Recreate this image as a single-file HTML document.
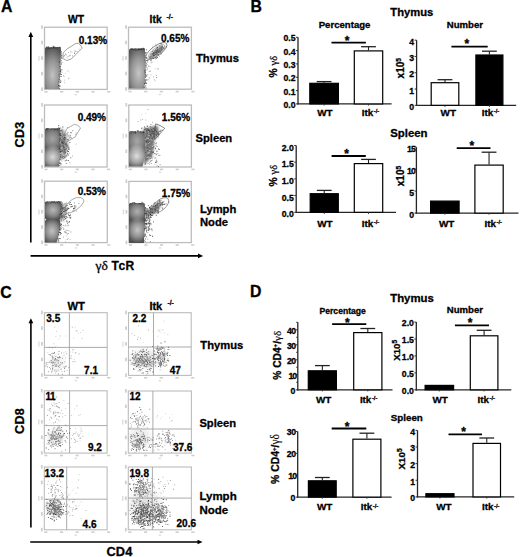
<!DOCTYPE html>
<html><head><meta charset="utf-8"><style>
html,body{margin:0;padding:0;background:#fff;}
body{width:520px;height:557px;overflow:hidden;}
svg{display:block;font-family:"Liberation Sans", sans-serif;}
text{stroke:#000;stroke-width:0.3px;}
</style></head><body>
<svg width="520" height="557" viewBox="0 0 520 557">
<defs><filter id="soft" x="-0.2" y="-0.2" width="1.4" height="1.4"><feGaussianBlur stdDeviation="0.45"/></filter><filter id="soft2" x="-0.3" y="-0.3" width="1.6" height="1.6"><feGaussianBlur stdDeviation="1.1"/></filter><clipPath id="c1"><path d="M45,89 L45,48.2 Q45.3,47.2 47,47.2 L58.5,47.0 Q60.8,47.2 61,49 L60.6,62 L60.3,72 L59.6,80 L58.8,89 Z"/></clipPath><radialGradient id="g2" gradientUnits="userSpaceOnUse" cx="0" cy="0" r="1" gradientTransform="translate(52.6 75) scale(13 28)"><stop offset="0" stop-color="#c2c2c2" stop-opacity="1.0"/><stop offset="0.55" stop-color="#c2c2c2" stop-opacity="0.55"/><stop offset="1" stop-color="#c2c2c2" stop-opacity="0"/></radialGradient><clipPath id="c3"><path d="M129,88.6 L129,50 Q129.3,48.9 131,48.8 L142.5,48.6 Q144.8,48.8 145,50.5 L145.6,62 L145.6,72 L144.9,80 L144.3,88.6 Z"/></clipPath><radialGradient id="g4" gradientUnits="userSpaceOnUse" cx="0" cy="0" r="1" gradientTransform="translate(138.8 73) scale(13.5 28)"><stop offset="0" stop-color="#c6c6c6" stop-opacity="1.0"/><stop offset="0.55" stop-color="#c6c6c6" stop-opacity="0.55"/><stop offset="1" stop-color="#c6c6c6" stop-opacity="0"/></radialGradient><clipPath id="c5"><path d="M45,166.5 L45,129.6 Q45.3,128.6 47,128.6 L57.5,128.3 Q59.8,128.5 60,130 L60.2,142 L60.2,152 L59.6,160 L59,166.5 Z"/></clipPath><radialGradient id="g6" gradientUnits="userSpaceOnUse" cx="0" cy="0" r="1" gradientTransform="translate(52.5 139) scale(10.5 12)"><stop offset="0" stop-color="#a4a4a4" stop-opacity="1.0"/><stop offset="0.55" stop-color="#a4a4a4" stop-opacity="0.55"/><stop offset="1" stop-color="#a4a4a4" stop-opacity="0"/></radialGradient><radialGradient id="g7" gradientUnits="userSpaceOnUse" cx="0" cy="0" r="1" gradientTransform="translate(52.7 157) scale(11 12)"><stop offset="0" stop-color="#dadada" stop-opacity="1.0"/><stop offset="0.55" stop-color="#dadada" stop-opacity="0.55"/><stop offset="1" stop-color="#dadada" stop-opacity="0"/></radialGradient><clipPath id="c8"><path d="M129,166.5 L129,132.5 Q129.3,131.6 131,131.6 L142,131.4 Q144.2,131.6 144.5,133 L145,144 L145,154 L143.8,160 L142.5,166.5 Z"/></clipPath><radialGradient id="g9" gradientUnits="userSpaceOnUse" cx="0" cy="0" r="1" gradientTransform="translate(137 141) scale(10.5 13)"><stop offset="0" stop-color="#a8a8a8" stop-opacity="1.0"/><stop offset="0.55" stop-color="#a8a8a8" stop-opacity="0.55"/><stop offset="1" stop-color="#a8a8a8" stop-opacity="0"/></radialGradient><radialGradient id="g10" gradientUnits="userSpaceOnUse" cx="0" cy="0" r="1" gradientTransform="translate(136.7 156) scale(11.5 12)"><stop offset="0" stop-color="#dedede" stop-opacity="1.0"/><stop offset="0.55" stop-color="#dedede" stop-opacity="0.55"/><stop offset="1" stop-color="#dedede" stop-opacity="0"/></radialGradient><clipPath id="c11"><path d="M45,218.5 L45,202.6 Q45.3,201.8 47,201.7 L59.5,201.6 Q61.4,202 61.4,204 L61.2,212 L60.5,219 L58,220 L47,220 Z"/></clipPath><radialGradient id="g12" gradientUnits="userSpaceOnUse" cx="0" cy="0" r="1" gradientTransform="translate(53 210) scale(10.5 10.5)"><stop offset="0" stop-color="#b8b8b8" stop-opacity="1.0"/><stop offset="0.55" stop-color="#b8b8b8" stop-opacity="0.55"/><stop offset="1" stop-color="#b8b8b8" stop-opacity="0"/></radialGradient><clipPath id="c13"><path d="M45,242.4 L45,221 Q46,219 48,219 L59.5,219 Q60.6,220.5 60.4,225 L59.5,232 L58,238 L56.5,242.4 Z"/></clipPath><radialGradient id="g14" gradientUnits="userSpaceOnUse" cx="0" cy="0" r="1" gradientTransform="translate(52 231) scale(10.5 13)"><stop offset="0" stop-color="#c2c2c2" stop-opacity="1.0"/><stop offset="0.55" stop-color="#c2c2c2" stop-opacity="0.55"/><stop offset="1" stop-color="#c2c2c2" stop-opacity="0"/></radialGradient><clipPath id="c15"><path d="M129,243 L129,204 Q129.4,203.1 131,203.1 L142.5,203 Q144.8,203.2 144.9,205 L145.2,215 L145,225 L144.4,233 L143.9,243 Z"/></clipPath><radialGradient id="g16" gradientUnits="userSpaceOnUse" cx="0" cy="0" r="1" gradientTransform="translate(137.3 211.5) scale(10.5 10.5)"><stop offset="0" stop-color="#b0b0b0" stop-opacity="1.0"/><stop offset="0.55" stop-color="#b0b0b0" stop-opacity="0.55"/><stop offset="1" stop-color="#b0b0b0" stop-opacity="0"/></radialGradient><radialGradient id="g17" gradientUnits="userSpaceOnUse" cx="0" cy="0" r="1" gradientTransform="translate(137.6 230) scale(11 13)"><stop offset="0" stop-color="#c6c6c6" stop-opacity="1.0"/><stop offset="0.55" stop-color="#c6c6c6" stop-opacity="0.55"/><stop offset="1" stop-color="#c6c6c6" stop-opacity="0"/></radialGradient><radialGradient id="g18" gradientUnits="userSpaceOnUse" cx="0" cy="0" r="1" gradientTransform="translate(57 362) scale(10 10)"><stop offset="0" stop-color="#aaa" stop-opacity="0.25"/><stop offset="0.6" stop-color="#aaa" stop-opacity="0.125"/><stop offset="1" stop-color="#aaa" stop-opacity="0"/></radialGradient><radialGradient id="g19" gradientUnits="userSpaceOnUse" cx="0" cy="0" r="1" gradientTransform="translate(146 359) scale(20 12)"><stop offset="0" stop-color="#999" stop-opacity="0.35"/><stop offset="0.6" stop-color="#999" stop-opacity="0.175"/><stop offset="1" stop-color="#999" stop-opacity="0"/></radialGradient><radialGradient id="g20" gradientUnits="userSpaceOnUse" cx="0" cy="0" r="1" gradientTransform="translate(56 437) scale(11 11)"><stop offset="0" stop-color="#999" stop-opacity="0.3"/><stop offset="0.6" stop-color="#999" stop-opacity="0.15"/><stop offset="1" stop-color="#999" stop-opacity="0"/></radialGradient><radialGradient id="g21" gradientUnits="userSpaceOnUse" cx="0" cy="0" r="1" gradientTransform="translate(140 438) scale(14 14)"><stop offset="0" stop-color="#999" stop-opacity="0.3"/><stop offset="0.6" stop-color="#999" stop-opacity="0.15"/><stop offset="1" stop-color="#999" stop-opacity="0"/></radialGradient><radialGradient id="g22" gradientUnits="userSpaceOnUse" cx="0" cy="0" r="1" gradientTransform="translate(54.4 508) scale(11 11)"><stop offset="0" stop-color="#888" stop-opacity="0.3"/><stop offset="0.6" stop-color="#888" stop-opacity="0.15"/><stop offset="1" stop-color="#888" stop-opacity="0"/></radialGradient><radialGradient id="g23" gradientUnits="userSpaceOnUse" cx="0" cy="0" r="1" gradientTransform="translate(145 505) scale(20 22)"><stop offset="0" stop-color="#999" stop-opacity="0.35"/><stop offset="0.6" stop-color="#999" stop-opacity="0.175"/><stop offset="1" stop-color="#999" stop-opacity="0"/></radialGradient></defs>
<rect width="520" height="557" fill="#fff"/>
<text x="1.0" y="12.1" font-size="15.8" font-weight="bold" text-anchor="start" fill="#000" >A</text>
<text x="250.4" y="12.0" font-size="15.8" font-weight="bold" text-anchor="start" fill="#000" >B</text>
<text x="0.2" y="297.6" font-size="15.8" font-weight="bold" text-anchor="start" fill="#000" >C</text>
<text x="250.0" y="297.3" font-size="15.8" font-weight="bold" text-anchor="start" fill="#000" >D</text>
<text x="68" y="23.2" font-size="10.3" font-weight="bold" text-anchor="start" fill="#000" >WT</text>
<text x="149.6" y="23.2" font-size="10.3" font-weight="bold">Itk<tspan font-size="6.8" dy="-3.98" dx="4.92">-/-</tspan></text>
<rect x="44.50" y="27.20" width="62.70" height="62.20" fill="#fff" stroke="#bdbdbd" stroke-width="1.3" />
<rect x="128.50" y="27.20" width="62.90" height="62.00" fill="#fff" stroke="#bdbdbd" stroke-width="1.3" />
<rect x="44.50" y="105.00" width="62.60" height="62.00" fill="#fff" stroke="#bdbdbd" stroke-width="1.3" />
<rect x="128.80" y="105.00" width="62.60" height="62.00" fill="#fff" stroke="#bdbdbd" stroke-width="1.3" />
<rect x="44.50" y="181.20" width="62.80" height="61.40" fill="#fff" stroke="#bdbdbd" stroke-width="1.3" />
<rect x="128.90" y="181.40" width="62.40" height="61.20" fill="#fff" stroke="#bdbdbd" stroke-width="1.3" />
<line x1="30.80" y1="36.00" x2="30.80" y2="242.50" stroke="#000" stroke-width="1.6" />
<path d="M30.8,31.8 L33.2,37 L28.4,37 Z" fill="#000" stroke="none" stroke-width="0" />
<text x="23.9" y="134.5" font-size="12.6" font-weight="bold" text-anchor="middle" fill="#000" transform="rotate(-90 23.9 134.5)" letter-spacing="0.2">CD3</text>
<line x1="30.60" y1="255.90" x2="199.00" y2="255.90" stroke="#000" stroke-width="1.6" />
<path d="M203.2,255.9 L198,253.6 L198,258.2 Z" fill="#000" stroke="none" stroke-width="0" />
<text x="95.6" y="270.2" font-size="12" font-weight="bold" letter-spacing="0.35"><tspan font-weight="normal" font-family="Liberation Serif, serif" font-size="13.5" letter-spacing="0">&#947;&#948;</tspan> TcR</text>
<text x="196" y="61.5" font-size="11.2" font-weight="bold" text-anchor="start" fill="#000" >Thymus</text>
<text x="195.5" y="142.3" font-size="11.2" font-weight="bold" text-anchor="start" fill="#000" >Spleen</text>
<text x="200" y="213" font-size="11.2" font-weight="bold" text-anchor="start" fill="#000" >Lymph</text>
<text x="200" y="226" font-size="11.2" font-weight="bold" text-anchor="start" fill="#000" >Node</text>
<text x="107.1" y="43.8" font-size="10.0" font-weight="bold" text-anchor="end" fill="#000" >0.13%</text>
<text x="189.4" y="41.9" font-size="10.0" font-weight="bold" text-anchor="end" fill="#000" >0.65%</text>
<text x="106.0" y="120.7" font-size="10.0" font-weight="bold" text-anchor="end" fill="#000" >0.49%</text>
<text x="190.2" y="120.7" font-size="10.0" font-weight="bold" text-anchor="end" fill="#000" >1.56%</text>
<text x="106.0" y="194.7" font-size="10.0" font-weight="bold" text-anchor="end" fill="#000" >0.53%</text>
<text x="190.2" y="197.3" font-size="10.0" font-weight="bold" text-anchor="end" fill="#000" >1.75%</text>
<path d="M69.7 54.8h0.9v0.9h-0.9zM74.6 50.5h0.9v0.9h-0.9zM72.1 55.4h0.9v0.9h-0.9zM64.9 53.6h0.9v0.9h-0.9zM63.4 55.9h0.9v0.9h-0.9zM76.6 51.2h0.9v0.9h-0.9zM74.1 53.0h0.9v0.9h-0.9z" fill="rgb(128,128,128)"/>
<path d="M60.6 56.2h0.9v0.9h-0.9zM70.3 51.4h0.9v0.9h-0.9zM65.7 54.6h0.9v0.9h-0.9zM68.8 55.6h0.9v0.9h-0.9z" fill="rgb(144,144,144)"/>
<path d="M75.3 50.9h0.9v0.9h-0.9zM78.6 48.7h0.9v0.9h-0.9zM66.4 57.4h0.9v0.9h-0.9zM63.9 55.1h0.9v0.9h-0.9zM68.0 52.2h0.9v0.9h-0.9zM74.2 52.2h0.9v0.9h-0.9zM71.5 51.7h0.9v0.9h-0.9z" fill="rgb(160,160,160)"/>
<path d="M67.4 56.0h0.9v0.9h-0.9zM61.3 58.1h0.9v0.9h-0.9z" fill="rgb(176,176,176)"/>
<path d="M65.3 53.8h0.9v0.9h-0.9z" fill="rgb(192,192,192)"/>
<path d="M63.6 75.9h0.9v0.9h-0.9zM63.2 75.2h0.9v0.9h-0.9z" fill="rgb(160,160,160)"/>
<path d="M64.0 79.7h0.9v0.9h-0.9zM67.4 70.6h0.9v0.9h-0.9zM68.1 78.3h0.9v0.9h-0.9z" fill="rgb(176,176,176)"/>
<path d="M68.6 77.6h0.9v0.9h-0.9zM65.3 73.2h0.9v0.9h-0.9zM64.1 82.3h0.9v0.9h-0.9z" fill="rgb(192,192,192)"/>
<path d="M62.1 71.8h0.9v0.9h-0.9zM68.8 71.4h0.9v0.9h-0.9z" fill="rgb(208,208,208)"/>
<path d="M45,89 L45,48.2 Q45.3,47.2 47,47.2 L58.5,47.0 Q60.8,47.2 61,49 L60.6,62 L60.3,72 L59.6,80 L58.8,89 Z" fill="#545454" stroke="none" stroke-width="0" filter="url(#soft)"/>
<ellipse cx="52.6" cy="75" rx="13" ry="28" fill="url(#g2)" clip-path="url(#c1)"/>
<path d="M53.2 47.0h0.9v0.9h-0.9zM59.8 47.3h0.9v0.9h-0.9zM53.3 47.5h0.9v0.9h-0.9z" fill="rgb(32,32,32)"/>
<path d="M59.0 47.2h0.9v0.9h-0.9zM59.0 47.1h0.9v0.9h-0.9zM58.8 46.7h0.9v0.9h-0.9zM50.9 47.4h0.9v0.9h-0.9zM46.6 47.7h0.9v0.9h-0.9zM48.1 47.9h0.9v0.9h-0.9zM58.3 46.9h0.9v0.9h-0.9zM57.3 46.9h0.9v0.9h-0.9zM49.6 48.1h0.9v0.9h-0.9zM53.6 46.7h0.9v0.9h-0.9zM47.2 47.7h0.9v0.9h-0.9z" fill="rgb(48,48,48)"/>
<path d="M54.3 47.3h0.9v0.9h-0.9zM55.0 47.7h0.9v0.9h-0.9zM54.3 47.3h0.9v0.9h-0.9zM47.7 46.6h0.9v0.9h-0.9zM58.9 47.5h0.9v0.9h-0.9zM57.8 46.9h0.9v0.9h-0.9zM45.9 47.2h0.9v0.9h-0.9zM56.5 48.3h0.9v0.9h-0.9zM48.0 47.4h0.9v0.9h-0.9z" fill="rgb(64,64,64)"/>
<path d="M54.4 46.7h0.9v0.9h-0.9zM53.4 45.9h0.9v0.9h-0.9zM47.7 47.3h0.9v0.9h-0.9zM55.2 47.2h0.9v0.9h-0.9zM46.9 47.5h0.9v0.9h-0.9zM57.0 47.6h0.9v0.9h-0.9zM52.7 45.8h0.9v0.9h-0.9zM47.8 46.6h0.9v0.9h-0.9zM46.2 46.5h0.9v0.9h-0.9zM56.9 48.0h0.9v0.9h-0.9zM50.5 48.0h0.9v0.9h-0.9zM59.2 47.0h0.9v0.9h-0.9zM53.8 47.4h0.9v0.9h-0.9z" fill="rgb(80,80,80)"/>
<path d="M55.6 47.5h0.9v0.9h-0.9zM58.0 47.3h0.9v0.9h-0.9zM59.3 47.8h0.9v0.9h-0.9z" fill="rgb(96,96,96)"/>
<path d="M59.2 61.5h0.9v0.9h-0.9zM61.2 54.9h0.9v0.9h-0.9zM59.7 71.2h0.9v0.9h-0.9zM59.4 86.1h0.9v0.9h-0.9zM60.0 71.3h0.9v0.9h-0.9zM58.3 85.1h0.9v0.9h-0.9zM60.1 73.6h0.9v0.9h-0.9zM61.1 73.9h0.9v0.9h-0.9zM60.5 69.4h0.9v0.9h-0.9z" fill="rgb(48,48,48)"/>
<path d="M58.7 78.9h0.9v0.9h-0.9zM60.3 80.6h0.9v0.9h-0.9zM61.4 61.7h0.9v0.9h-0.9zM59.7 66.0h0.9v0.9h-0.9zM60.5 53.8h0.9v0.9h-0.9z" fill="rgb(64,64,64)"/>
<path d="M60.2 69.9h0.9v0.9h-0.9zM59.5 75.7h0.9v0.9h-0.9zM61.0 63.5h0.9v0.9h-0.9zM60.0 71.0h0.9v0.9h-0.9zM60.2 82.0h0.9v0.9h-0.9zM59.8 67.7h0.9v0.9h-0.9zM59.0 87.7h0.9v0.9h-0.9zM61.6 69.4h0.9v0.9h-0.9z" fill="rgb(80,80,80)"/>
<path d="M58.3 74.4h0.9v0.9h-0.9zM58.2 81.1h0.9v0.9h-0.9zM61.2 54.9h0.9v0.9h-0.9zM60.4 50.7h0.9v0.9h-0.9zM60.9 56.6h0.9v0.9h-0.9zM60.2 69.7h0.9v0.9h-0.9zM59.0 76.6h0.9v0.9h-0.9zM59.5 85.2h0.9v0.9h-0.9zM60.8 76.2h0.9v0.9h-0.9zM61.3 57.5h0.9v0.9h-0.9zM59.5 73.8h0.9v0.9h-0.9zM59.0 88.3h0.9v0.9h-0.9zM60.4 71.5h0.9v0.9h-0.9zM61.0 52.5h0.9v0.9h-0.9z" fill="rgb(96,96,96)"/>
<path d="M61.0 50.9h0.9v0.9h-0.9zM58.7 85.6h0.9v0.9h-0.9zM59.5 56.0h0.9v0.9h-0.9zM59.5 81.8h0.9v0.9h-0.9z" fill="rgb(112,112,112)"/>
<path d="M60.0 79.7h0.9v0.9h-0.9zM60.4 55.0h0.9v0.9h-0.9zM61.0 60.2h0.9v0.9h-0.9zM60.5 76.1h0.9v0.9h-0.9z" fill="rgb(128,128,128)"/>
<path d="M63.2,52.7 L66.7,49.2 L75.9,43.4 Q78.5,42.5 80.5,45 L82.2,48.1 L71.3,59 L66.7,60.5 L62.9,58.5 Z" fill="none" stroke="#8a8a8a" stroke-width="0.8" />
<path d="M157.6 68.5h0.9v0.9h-0.9zM148.3 65.6h0.9v0.9h-0.9zM149.1 71.2h0.9v0.9h-0.9zM143.3 64.7h0.9v0.9h-0.9z" fill="rgb(112,112,112)"/>
<path d="M148.8 77.5h0.9v0.9h-0.9zM156.2 77.0h0.9v0.9h-0.9zM148.3 79.4h0.9v0.9h-0.9zM145.8 65.6h0.9v0.9h-0.9z" fill="rgb(128,128,128)"/>
<path d="M155.9 74.9h0.9v0.9h-0.9zM147.1 68.5h0.9v0.9h-0.9z" fill="rgb(144,144,144)"/>
<path d="M149.7 66.2h0.9v0.9h-0.9zM150.0 70.6h0.9v0.9h-0.9zM150.5 74.4h0.9v0.9h-0.9z" fill="rgb(160,160,160)"/>
<path d="M146.7 75.4h0.9v0.9h-0.9zM147.3 74.0h0.9v0.9h-0.9zM154.6 80.3h0.9v0.9h-0.9zM145.5 61.8h0.9v0.9h-0.9zM153.1 76.5h0.9v0.9h-0.9z" fill="rgb(176,176,176)"/>
<path d="M148.8 71.0h0.9v0.9h-0.9zM154.4 58.1h0.9v0.9h-0.9zM155.3 68.3h0.9v0.9h-0.9zM146.5 60.7h0.9v0.9h-0.9zM153.8 79.1h0.9v0.9h-0.9zM152.4 61.8h0.9v0.9h-0.9z" fill="rgb(192,192,192)"/>
<ellipse cx="156.3" cy="52" rx="8.5" ry="2.6" transform="rotate(-40 156.3 52)" fill="#5a5a5a" opacity="0.75" filter="url(#soft2)"/>
<path d="M161.7 46.6h0.9v0.9h-0.9zM161.7 45.7h0.9v0.9h-0.9zM149.3 56.7h0.9v0.9h-0.9zM154.3 55.2h0.9v0.9h-0.9zM159.4 45.5h0.9v0.9h-0.9zM160.8 47.7h0.9v0.9h-0.9zM163.6 47.9h0.9v0.9h-0.9zM156.1 50.5h0.9v0.9h-0.9zM155.1 51.9h0.9v0.9h-0.9zM159.8 46.9h0.9v0.9h-0.9z" fill="rgb(32,32,32)"/>
<path d="M157.2 48.7h0.9v0.9h-0.9zM153.4 52.2h0.9v0.9h-0.9zM153.3 55.6h0.9v0.9h-0.9zM156.9 50.5h0.9v0.9h-0.9zM150.3 57.4h0.9v0.9h-0.9zM160.1 50.0h0.9v0.9h-0.9zM156.2 47.7h0.9v0.9h-0.9zM156.1 50.5h0.9v0.9h-0.9zM153.3 52.9h0.9v0.9h-0.9zM155.8 57.8h0.9v0.9h-0.9zM161.4 48.9h0.9v0.9h-0.9zM159.3 48.6h0.9v0.9h-0.9zM160.7 49.5h0.9v0.9h-0.9zM162.9 48.4h0.9v0.9h-0.9z" fill="rgb(48,48,48)"/>
<path d="M153.0 54.4h0.9v0.9h-0.9zM163.4 47.6h0.9v0.9h-0.9zM157.2 47.0h0.9v0.9h-0.9zM165.7 46.5h0.9v0.9h-0.9zM159.6 52.2h0.9v0.9h-0.9zM158.0 54.4h0.9v0.9h-0.9zM160.4 48.5h0.9v0.9h-0.9zM151.8 50.9h0.9v0.9h-0.9zM156.8 57.0h0.9v0.9h-0.9zM160.5 48.0h0.9v0.9h-0.9zM154.7 49.9h0.9v0.9h-0.9zM157.6 54.3h0.9v0.9h-0.9zM158.1 51.7h0.9v0.9h-0.9zM152.2 56.8h0.9v0.9h-0.9zM152.4 57.9h0.9v0.9h-0.9zM152.6 53.1h0.9v0.9h-0.9zM160.8 43.3h0.9v0.9h-0.9zM156.6 53.7h0.9v0.9h-0.9zM153.4 54.7h0.9v0.9h-0.9zM155.3 56.8h0.9v0.9h-0.9zM153.3 54.9h0.9v0.9h-0.9zM159.8 51.0h0.9v0.9h-0.9zM150.5 58.0h0.9v0.9h-0.9zM156.5 52.0h0.9v0.9h-0.9z" fill="rgb(64,64,64)"/>
<path d="M158.6 50.3h0.9v0.9h-0.9zM160.0 48.3h0.9v0.9h-0.9zM161.0 47.7h0.9v0.9h-0.9zM161.4 49.0h0.9v0.9h-0.9zM156.4 51.8h0.9v0.9h-0.9zM156.7 52.5h0.9v0.9h-0.9zM161.9 47.3h0.9v0.9h-0.9zM158.8 52.0h0.9v0.9h-0.9zM160.6 50.3h0.9v0.9h-0.9zM160.5 53.5h0.9v0.9h-0.9zM156.8 52.1h0.9v0.9h-0.9zM150.8 56.6h0.9v0.9h-0.9zM156.7 53.4h0.9v0.9h-0.9zM151.7 53.8h0.9v0.9h-0.9zM157.7 54.3h0.9v0.9h-0.9zM156.8 52.2h0.9v0.9h-0.9zM154.4 51.4h0.9v0.9h-0.9zM158.2 51.9h0.9v0.9h-0.9zM162.1 47.6h0.9v0.9h-0.9zM157.8 51.0h0.9v0.9h-0.9zM162.7 47.3h0.9v0.9h-0.9zM159.9 43.2h0.9v0.9h-0.9zM149.0 56.7h0.9v0.9h-0.9zM153.1 58.1h0.9v0.9h-0.9z" fill="rgb(80,80,80)"/>
<path d="M163.9 45.7h0.9v0.9h-0.9zM157.5 50.4h0.9v0.9h-0.9zM154.2 52.9h0.9v0.9h-0.9zM159.2 50.6h0.9v0.9h-0.9zM156.4 54.7h0.9v0.9h-0.9zM149.7 58.4h0.9v0.9h-0.9zM156.9 51.3h0.9v0.9h-0.9zM158.2 50.9h0.9v0.9h-0.9zM154.6 51.8h0.9v0.9h-0.9zM154.8 54.1h0.9v0.9h-0.9zM150.7 59.5h0.9v0.9h-0.9zM147.3 60.0h0.9v0.9h-0.9zM148.6 58.5h0.9v0.9h-0.9zM155.6 54.6h0.9v0.9h-0.9zM160.3 50.4h0.9v0.9h-0.9zM150.5 60.3h0.9v0.9h-0.9zM150.4 53.7h0.9v0.9h-0.9zM161.5 47.6h0.9v0.9h-0.9zM156.2 52.5h0.9v0.9h-0.9zM160.7 52.3h0.9v0.9h-0.9zM152.2 53.1h0.9v0.9h-0.9z" fill="rgb(96,96,96)"/>
<path d="M150.2 55.9h0.9v0.9h-0.9zM155.2 51.4h0.9v0.9h-0.9zM155.3 49.6h0.9v0.9h-0.9zM159.7 49.8h0.9v0.9h-0.9zM157.1 53.5h0.9v0.9h-0.9zM156.4 52.7h0.9v0.9h-0.9zM160.6 45.5h0.9v0.9h-0.9zM159.8 48.1h0.9v0.9h-0.9zM156.5 53.6h0.9v0.9h-0.9zM160.8 50.2h0.9v0.9h-0.9zM149.7 57.0h0.9v0.9h-0.9zM154.5 54.6h0.9v0.9h-0.9zM160.8 48.7h0.9v0.9h-0.9zM161.9 49.4h0.9v0.9h-0.9zM157.3 50.7h0.9v0.9h-0.9z" fill="rgb(112,112,112)"/>
<path d="M155.9 50.6h0.9v0.9h-0.9zM147.4 60.1h0.9v0.9h-0.9zM161.7 44.4h0.9v0.9h-0.9zM162.4 50.3h0.9v0.9h-0.9zM157.1 52.4h0.9v0.9h-0.9zM167.1 42.0h0.9v0.9h-0.9zM156.9 52.7h0.9v0.9h-0.9zM152.3 46.7h0.9v0.9h-0.9z" fill="rgb(128,128,128)"/>
<path d="M150.8 62.3h0.9v0.9h-0.9zM156.2 45.3h0.9v0.9h-0.9zM160.1 49.8h0.9v0.9h-0.9zM149.7 57.2h0.9v0.9h-0.9zM159.4 48.6h0.9v0.9h-0.9zM151.0 58.4h0.9v0.9h-0.9zM159.0 52.3h0.9v0.9h-0.9z" fill="rgb(144,144,144)"/>
<path d="M166.0 45.8h0.9v0.9h-0.9zM151.4 53.1h0.9v0.9h-0.9zM155.5 48.8h0.9v0.9h-0.9zM150.7 54.3h0.9v0.9h-0.9z" fill="rgb(160,160,160)"/>
<path d="M155.2 58.3h0.9v0.9h-0.9zM160.5 48.7h0.9v0.9h-0.9zM152.8 49.8h0.9v0.9h-0.9zM155.1 43.7h0.9v0.9h-0.9z" fill="rgb(176,176,176)"/>
<path d="M162.3 47.6h0.9v0.9h-0.9zM159.2 56.0h0.9v0.9h-0.9zM155.3 55.0h0.9v0.9h-0.9zM159.7 47.3h0.9v0.9h-0.9zM147.8 59.9h0.9v0.9h-0.9zM158.3 53.2h0.9v0.9h-0.9z" fill="rgb(192,192,192)"/>
<path d="M129,88.6 L129,50 Q129.3,48.9 131,48.8 L142.5,48.6 Q144.8,48.8 145,50.5 L145.6,62 L145.6,72 L144.9,80 L144.3,88.6 Z" fill="#545454" stroke="none" stroke-width="0" filter="url(#soft)"/>
<ellipse cx="138.8" cy="73" rx="13.5" ry="28" fill="url(#g4)" clip-path="url(#c3)"/>
<path d="M142.6 47.8h0.9v0.9h-0.9zM143.6 48.8h0.9v0.9h-0.9zM141.4 48.9h0.9v0.9h-0.9zM132.7 48.7h0.9v0.9h-0.9zM139.1 48.9h0.9v0.9h-0.9z" fill="rgb(32,32,32)"/>
<path d="M132.7 49.0h0.9v0.9h-0.9zM143.4 48.1h0.9v0.9h-0.9zM140.3 48.9h0.9v0.9h-0.9zM134.4 48.5h0.9v0.9h-0.9zM131.2 48.7h0.9v0.9h-0.9zM139.8 49.0h0.9v0.9h-0.9zM135.3 49.6h0.9v0.9h-0.9zM143.7 48.4h0.9v0.9h-0.9zM138.0 49.2h0.9v0.9h-0.9zM132.0 48.5h0.9v0.9h-0.9zM132.3 49.2h0.9v0.9h-0.9zM139.6 48.4h0.9v0.9h-0.9zM138.0 48.6h0.9v0.9h-0.9zM139.3 49.1h0.9v0.9h-0.9zM141.3 48.2h0.9v0.9h-0.9z" fill="rgb(48,48,48)"/>
<path d="M137.4 49.7h0.9v0.9h-0.9zM142.9 48.9h0.9v0.9h-0.9zM141.6 48.7h0.9v0.9h-0.9zM131.8 49.2h0.9v0.9h-0.9zM131.3 49.0h0.9v0.9h-0.9zM130.9 49.2h0.9v0.9h-0.9zM141.2 49.3h0.9v0.9h-0.9zM139.5 48.7h0.9v0.9h-0.9zM139.1 49.3h0.9v0.9h-0.9zM130.1 48.9h0.9v0.9h-0.9z" fill="rgb(64,64,64)"/>
<path d="M136.6 48.8h0.9v0.9h-0.9zM137.6 49.4h0.9v0.9h-0.9zM141.5 48.3h0.9v0.9h-0.9zM136.7 49.1h0.9v0.9h-0.9zM134.1 49.3h0.9v0.9h-0.9zM135.4 47.9h0.9v0.9h-0.9zM130.6 48.1h0.9v0.9h-0.9zM135.8 49.9h0.9v0.9h-0.9zM143.9 48.9h0.9v0.9h-0.9z" fill="rgb(80,80,80)"/>
<path d="M133.4 49.7h0.9v0.9h-0.9z" fill="rgb(96,96,96)"/>
<path d="M144.0 83.3h0.9v0.9h-0.9zM146.0 82.8h0.9v0.9h-0.9zM145.3 85.4h0.9v0.9h-0.9zM144.2 70.6h0.9v0.9h-0.9zM145.2 79.6h0.9v0.9h-0.9zM145.3 57.2h0.9v0.9h-0.9zM145.1 52.7h0.9v0.9h-0.9z" fill="rgb(48,48,48)"/>
<path d="M146.3 57.3h0.9v0.9h-0.9zM145.5 69.6h0.9v0.9h-0.9zM146.4 78.9h0.9v0.9h-0.9zM144.6 83.2h0.9v0.9h-0.9zM145.0 81.8h0.9v0.9h-0.9zM145.0 77.2h0.9v0.9h-0.9zM145.7 52.4h0.9v0.9h-0.9z" fill="rgb(64,64,64)"/>
<path d="M144.8 81.2h0.9v0.9h-0.9zM145.7 75.3h0.9v0.9h-0.9zM145.2 75.8h0.9v0.9h-0.9zM145.4 65.0h0.9v0.9h-0.9zM144.2 59.4h0.9v0.9h-0.9zM146.5 60.1h0.9v0.9h-0.9zM145.4 75.0h0.9v0.9h-0.9zM144.9 82.7h0.9v0.9h-0.9zM145.7 87.5h0.9v0.9h-0.9z" fill="rgb(80,80,80)"/>
<path d="M144.8 79.8h0.9v0.9h-0.9zM145.8 60.2h0.9v0.9h-0.9zM146.4 79.9h0.9v0.9h-0.9zM144.8 61.5h0.9v0.9h-0.9zM145.9 49.3h0.9v0.9h-0.9z" fill="rgb(96,96,96)"/>
<path d="M146.4 66.9h0.9v0.9h-0.9zM145.4 74.0h0.9v0.9h-0.9zM143.6 87.1h0.9v0.9h-0.9zM146.1 62.9h0.9v0.9h-0.9zM144.9 55.2h0.9v0.9h-0.9zM146.5 64.2h0.9v0.9h-0.9zM145.1 72.1h0.9v0.9h-0.9zM144.6 72.3h0.9v0.9h-0.9zM145.3 52.1h0.9v0.9h-0.9zM145.6 75.9h0.9v0.9h-0.9zM144.4 73.3h0.9v0.9h-0.9zM144.3 87.3h0.9v0.9h-0.9zM144.4 71.7h0.9v0.9h-0.9z" fill="rgb(112,112,112)"/>
<path d="M147.1 61.6h0.9v0.9h-0.9zM145.4 59.7h0.9v0.9h-0.9zM144.6 86.3h0.9v0.9h-0.9z" fill="rgb(128,128,128)"/>
<ellipse cx="156.4" cy="50.9" rx="12.6" ry="4.9" transform="rotate(-36 156.4 50.9)" fill="none" stroke="#666" stroke-width="0.7"/>
<ellipse cx="156.6" cy="51.2" rx="10" ry="3.4" transform="rotate(-38 156.6 51.2)" fill="none" stroke="#999" stroke-width="0.5"/>
<path d="M59.5,129 Q62,128 64,130 L67,136 L68.5,145 L67,153 L64,158 L60,162 Z" fill="#8a8a8a" stroke="none" stroke-width="0" filter="url(#soft2)" opacity="0.7"/>
<path d="M63.8 141.4h0.9v0.9h-0.9zM62.8 147.7h0.9v0.9h-0.9zM66.6 133.4h0.9v0.9h-0.9zM64.0 149.3h0.9v0.9h-0.9zM63.6 134.8h0.9v0.9h-0.9zM64.2 156.9h0.9v0.9h-0.9zM63.5 147.8h0.9v0.9h-0.9zM64.0 139.4h0.9v0.9h-0.9zM61.8 150.3h0.9v0.9h-0.9zM65.3 142.9h0.9v0.9h-0.9zM64.3 151.7h0.9v0.9h-0.9zM62.5 143.0h0.9v0.9h-0.9zM61.8 140.6h0.9v0.9h-0.9zM59.0 154.8h0.9v0.9h-0.9zM57.8 146.6h0.9v0.9h-0.9zM62.8 149.2h0.9v0.9h-0.9zM64.3 137.1h0.9v0.9h-0.9zM62.4 146.4h0.9v0.9h-0.9zM63.8 137.6h0.9v0.9h-0.9zM63.6 145.9h0.9v0.9h-0.9zM60.5 149.3h0.9v0.9h-0.9zM59.9 144.7h0.9v0.9h-0.9zM64.7 139.4h0.9v0.9h-0.9zM64.1 148.3h0.9v0.9h-0.9zM70.3 157.4h0.9v0.9h-0.9zM59.7 148.7h0.9v0.9h-0.9zM63.8 133.5h0.9v0.9h-0.9zM63.5 142.5h0.9v0.9h-0.9z" fill="rgb(48,48,48)"/>
<path d="M65.1 144.2h0.9v0.9h-0.9zM63.2 139.4h0.9v0.9h-0.9zM66.4 160.2h0.9v0.9h-0.9zM67.0 150.6h0.9v0.9h-0.9zM59.9 137.7h0.9v0.9h-0.9zM67.9 151.0h0.9v0.9h-0.9zM63.1 144.3h0.9v0.9h-0.9zM62.4 126.5h0.9v0.9h-0.9zM63.2 142.8h0.9v0.9h-0.9zM58.8 133.3h0.9v0.9h-0.9zM59.7 147.4h0.9v0.9h-0.9zM60.3 139.9h0.9v0.9h-0.9zM65.8 148.3h0.9v0.9h-0.9zM63.1 145.6h0.9v0.9h-0.9zM60.9 141.4h0.9v0.9h-0.9zM59.0 143.3h0.9v0.9h-0.9zM66.5 145.8h0.9v0.9h-0.9zM58.3 125.3h0.9v0.9h-0.9zM59.9 156.3h0.9v0.9h-0.9zM68.2 149.2h0.9v0.9h-0.9zM60.1 146.5h0.9v0.9h-0.9zM63.6 147.6h0.9v0.9h-0.9zM63.8 149.8h0.9v0.9h-0.9zM65.0 151.8h0.9v0.9h-0.9zM63.7 138.5h0.9v0.9h-0.9zM66.5 155.4h0.9v0.9h-0.9zM58.6 137.8h0.9v0.9h-0.9zM62.5 140.4h0.9v0.9h-0.9zM67.3 144.7h0.9v0.9h-0.9zM58.0 149.5h0.9v0.9h-0.9zM63.5 156.1h0.9v0.9h-0.9zM61.0 135.3h0.9v0.9h-0.9z" fill="rgb(64,64,64)"/>
<path d="M63.6 151.0h0.9v0.9h-0.9zM65.1 144.5h0.9v0.9h-0.9zM67.8 147.3h0.9v0.9h-0.9zM63.3 141.3h0.9v0.9h-0.9zM65.9 162.9h0.9v0.9h-0.9zM61.6 142.8h0.9v0.9h-0.9zM60.5 138.5h0.9v0.9h-0.9zM64.9 148.7h0.9v0.9h-0.9zM60.0 137.6h0.9v0.9h-0.9zM59.2 143.8h0.9v0.9h-0.9zM62.1 156.7h0.9v0.9h-0.9zM61.8 141.8h0.9v0.9h-0.9zM68.4 148.4h0.9v0.9h-0.9zM62.6 139.7h0.9v0.9h-0.9zM63.8 146.9h0.9v0.9h-0.9zM63.1 143.3h0.9v0.9h-0.9zM62.7 157.8h0.9v0.9h-0.9zM61.4 149.7h0.9v0.9h-0.9zM58.4 132.9h0.9v0.9h-0.9zM65.2 137.5h0.9v0.9h-0.9zM63.4 140.7h0.9v0.9h-0.9zM60.8 142.0h0.9v0.9h-0.9zM67.8 154.6h0.9v0.9h-0.9z" fill="rgb(80,80,80)"/>
<path d="M63.5 141.8h0.9v0.9h-0.9zM61.7 137.0h0.9v0.9h-0.9zM61.5 133.3h0.9v0.9h-0.9zM66.0 143.7h0.9v0.9h-0.9zM58.9 130.4h0.9v0.9h-0.9zM62.5 150.6h0.9v0.9h-0.9zM64.8 135.2h0.9v0.9h-0.9zM57.5 142.7h0.9v0.9h-0.9zM61.5 142.3h0.9v0.9h-0.9zM58.9 134.9h0.9v0.9h-0.9zM62.0 131.5h0.9v0.9h-0.9zM64.8 160.3h0.9v0.9h-0.9zM65.8 145.2h0.9v0.9h-0.9zM58.2 138.8h0.9v0.9h-0.9zM64.9 156.3h0.9v0.9h-0.9zM60.9 139.9h0.9v0.9h-0.9zM62.5 144.3h0.9v0.9h-0.9zM61.6 145.7h0.9v0.9h-0.9zM60.2 143.4h0.9v0.9h-0.9zM66.0 155.4h0.9v0.9h-0.9zM65.8 144.2h0.9v0.9h-0.9zM69.4 142.1h0.9v0.9h-0.9zM58.0 133.4h0.9v0.9h-0.9zM58.4 133.4h0.9v0.9h-0.9zM59.9 132.7h0.9v0.9h-0.9zM63.6 152.7h0.9v0.9h-0.9zM65.2 149.3h0.9v0.9h-0.9zM63.3 139.8h0.9v0.9h-0.9zM62.8 147.9h0.9v0.9h-0.9zM63.8 147.1h0.9v0.9h-0.9zM60.1 146.3h0.9v0.9h-0.9zM61.8 145.2h0.9v0.9h-0.9zM63.7 152.6h0.9v0.9h-0.9zM62.8 140.7h0.9v0.9h-0.9zM62.3 138.6h0.9v0.9h-0.9zM63.0 138.0h0.9v0.9h-0.9zM62.6 141.2h0.9v0.9h-0.9zM65.7 142.4h0.9v0.9h-0.9zM61.8 143.2h0.9v0.9h-0.9zM64.0 147.9h0.9v0.9h-0.9zM63.8 153.8h0.9v0.9h-0.9zM59.8 134.2h0.9v0.9h-0.9zM64.2 142.4h0.9v0.9h-0.9z" fill="rgb(96,96,96)"/>
<path d="M67.5 132.3h0.9v0.9h-0.9zM61.5 151.0h0.9v0.9h-0.9zM61.9 155.5h0.9v0.9h-0.9zM62.8 142.0h0.9v0.9h-0.9zM55.7 134.1h0.9v0.9h-0.9zM63.5 152.0h0.9v0.9h-0.9zM64.8 152.7h0.9v0.9h-0.9zM58.6 137.9h0.9v0.9h-0.9zM61.7 143.8h0.9v0.9h-0.9zM58.8 135.9h0.9v0.9h-0.9zM61.1 145.7h0.9v0.9h-0.9zM63.9 148.7h0.9v0.9h-0.9zM62.6 155.9h0.9v0.9h-0.9zM65.6 143.4h0.9v0.9h-0.9zM68.0 160.1h0.9v0.9h-0.9zM64.9 137.7h0.9v0.9h-0.9zM67.0 139.2h0.9v0.9h-0.9zM65.8 146.4h0.9v0.9h-0.9z" fill="rgb(112,112,112)"/>
<path d="M63.0 149.3h0.9v0.9h-0.9zM58.7 147.7h0.9v0.9h-0.9zM63.6 144.0h0.9v0.9h-0.9zM64.5 144.6h0.9v0.9h-0.9zM58.8 135.4h0.9v0.9h-0.9zM63.4 142.0h0.9v0.9h-0.9zM68.4 146.4h0.9v0.9h-0.9zM57.9 133.6h0.9v0.9h-0.9zM62.1 136.7h0.9v0.9h-0.9zM66.7 146.5h0.9v0.9h-0.9zM61.8 144.3h0.9v0.9h-0.9zM61.7 134.8h0.9v0.9h-0.9zM60.5 144.4h0.9v0.9h-0.9zM64.9 150.1h0.9v0.9h-0.9zM62.9 134.0h0.9v0.9h-0.9zM63.0 148.6h0.9v0.9h-0.9zM64.5 143.6h0.9v0.9h-0.9zM60.4 135.5h0.9v0.9h-0.9zM60.1 139.5h0.9v0.9h-0.9zM66.0 159.4h0.9v0.9h-0.9zM63.5 134.0h0.9v0.9h-0.9zM64.6 134.1h0.9v0.9h-0.9zM64.5 151.9h0.9v0.9h-0.9zM56.8 143.5h0.9v0.9h-0.9zM63.8 149.6h0.9v0.9h-0.9zM62.9 139.8h0.9v0.9h-0.9zM60.3 136.1h0.9v0.9h-0.9zM62.5 136.8h0.9v0.9h-0.9zM62.6 139.3h0.9v0.9h-0.9zM58.0 136.0h0.9v0.9h-0.9zM64.6 137.8h0.9v0.9h-0.9zM63.1 139.4h0.9v0.9h-0.9zM60.1 146.6h0.9v0.9h-0.9zM65.2 150.6h0.9v0.9h-0.9zM66.8 145.3h0.9v0.9h-0.9zM67.0 153.0h0.9v0.9h-0.9zM67.0 146.1h0.9v0.9h-0.9zM62.0 135.8h0.9v0.9h-0.9zM59.8 134.7h0.9v0.9h-0.9zM62.8 144.5h0.9v0.9h-0.9zM61.9 154.3h0.9v0.9h-0.9zM63.5 144.0h0.9v0.9h-0.9z" fill="rgb(128,128,128)"/>
<path d="M68.6 147.6h0.9v0.9h-0.9zM64.0 148.0h0.9v0.9h-0.9zM58.9 138.8h0.9v0.9h-0.9z" fill="rgb(144,144,144)"/>
<path d="M67.6 139.7h0.9v0.9h-0.9zM69.8 137.3h0.9v0.9h-0.9z" fill="rgb(96,96,96)"/>
<path d="M70.7 132.4h0.9v0.9h-0.9zM68.2 139.3h0.9v0.9h-0.9zM70.9 137.4h0.9v0.9h-0.9z" fill="rgb(112,112,112)"/>
<path d="M72.3 130.3h0.9v0.9h-0.9zM61.7 129.4h0.9v0.9h-0.9zM70.0 135.2h0.9v0.9h-0.9zM66.9 126.9h0.9v0.9h-0.9zM67.7 135.6h0.9v0.9h-0.9zM68.5 135.4h0.9v0.9h-0.9z" fill="rgb(128,128,128)"/>
<path d="M64.0 136.0h0.9v0.9h-0.9zM70.3 132.1h0.9v0.9h-0.9zM69.6 136.3h0.9v0.9h-0.9zM69.6 134.7h0.9v0.9h-0.9z" fill="rgb(144,144,144)"/>
<path d="M75.8 132.6h0.9v0.9h-0.9zM75.4 134.0h0.9v0.9h-0.9zM66.2 139.3h0.9v0.9h-0.9zM69.5 137.1h0.9v0.9h-0.9zM75.7 143.7h0.9v0.9h-0.9zM65.7 133.9h0.9v0.9h-0.9zM70.4 132.1h0.9v0.9h-0.9zM67.3 134.6h0.9v0.9h-0.9zM71.0 131.9h0.9v0.9h-0.9z" fill="rgb(160,160,160)"/>
<path d="M68.6 137.8h0.9v0.9h-0.9z" fill="rgb(176,176,176)"/>
<path d="M65.5 156.5h0.9v0.9h-0.9zM60.2 156.5h0.9v0.9h-0.9zM68.8 152.7h0.9v0.9h-0.9z" fill="rgb(128,128,128)"/>
<path d="M65.0 155.2h0.9v0.9h-0.9zM67.5 153.7h0.9v0.9h-0.9zM63.4 158.0h0.9v0.9h-0.9zM64.5 157.6h0.9v0.9h-0.9z" fill="rgb(144,144,144)"/>
<path d="M64.8 156.3h0.9v0.9h-0.9zM64.2 154.9h0.9v0.9h-0.9zM69.2 149.0h0.9v0.9h-0.9zM65.6 154.7h0.9v0.9h-0.9zM69.4 162.3h0.9v0.9h-0.9z" fill="rgb(160,160,160)"/>
<path d="M67.4 154.2h0.9v0.9h-0.9zM72.0 155.6h0.9v0.9h-0.9zM60.3 153.9h0.9v0.9h-0.9z" fill="rgb(176,176,176)"/>
<path d="M63.2 154.8h0.9v0.9h-0.9zM65.0 157.0h0.9v0.9h-0.9zM63.7 154.4h0.9v0.9h-0.9zM59.5 159.3h0.9v0.9h-0.9zM62.1 154.3h0.9v0.9h-0.9z" fill="rgb(192,192,192)"/>
<path d="M45,166.5 L45,129.6 Q45.3,128.6 47,128.6 L57.5,128.3 Q59.8,128.5 60,130 L60.2,142 L60.2,152 L59.6,160 L59,166.5 Z" fill="#5a5a5a" stroke="none" stroke-width="0" filter="url(#soft)"/>
<ellipse cx="52.5" cy="139" rx="10.5" ry="12" fill="url(#g6)" clip-path="url(#c5)"/>
<ellipse cx="52.7" cy="157" rx="11" ry="12" fill="url(#g7)" clip-path="url(#c5)"/>
<path d="M46.2 128.7h0.9v0.9h-0.9zM55.0 129.2h0.9v0.9h-0.9zM57.4 129.3h0.9v0.9h-0.9zM46.3 128.4h0.9v0.9h-0.9zM55.7 128.7h0.9v0.9h-0.9z" fill="rgb(48,48,48)"/>
<path d="M46.8 129.4h0.9v0.9h-0.9zM52.6 128.9h0.9v0.9h-0.9zM59.0 128.1h0.9v0.9h-0.9zM59.6 127.6h0.9v0.9h-0.9zM46.9 128.3h0.9v0.9h-0.9zM53.6 128.4h0.9v0.9h-0.9zM59.0 128.6h0.9v0.9h-0.9zM59.1 128.7h0.9v0.9h-0.9zM45.8 128.3h0.9v0.9h-0.9zM53.9 128.8h0.9v0.9h-0.9zM58.1 127.6h0.9v0.9h-0.9zM47.8 128.2h0.9v0.9h-0.9z" fill="rgb(64,64,64)"/>
<path d="M51.9 129.0h0.9v0.9h-0.9zM57.2 128.1h0.9v0.9h-0.9zM50.1 128.9h0.9v0.9h-0.9zM54.0 129.4h0.9v0.9h-0.9zM51.5 128.7h0.9v0.9h-0.9zM50.6 129.2h0.9v0.9h-0.9zM51.1 128.8h0.9v0.9h-0.9z" fill="rgb(80,80,80)"/>
<path d="M48.4 128.6h0.9v0.9h-0.9zM57.7 128.2h0.9v0.9h-0.9zM47.6 128.9h0.9v0.9h-0.9zM51.2 128.6h0.9v0.9h-0.9z" fill="rgb(96,96,96)"/>
<path d="M51.7 128.6h0.9v0.9h-0.9zM53.9 128.7h0.9v0.9h-0.9z" fill="rgb(112,112,112)"/>
<path d="M59.7 130.3h0.9v0.9h-0.9z" fill="rgb(32,32,32)"/>
<path d="M62.0 142.0h0.9v0.9h-0.9zM60.5 157.3h0.9v0.9h-0.9zM59.2 148.3h0.9v0.9h-0.9zM60.0 135.2h0.9v0.9h-0.9zM59.4 138.8h0.9v0.9h-0.9zM60.2 150.7h0.9v0.9h-0.9zM59.9 151.4h0.9v0.9h-0.9zM59.2 132.9h0.9v0.9h-0.9zM60.6 151.3h0.9v0.9h-0.9z" fill="rgb(48,48,48)"/>
<path d="M58.9 134.0h0.9v0.9h-0.9zM61.0 139.4h0.9v0.9h-0.9zM60.8 145.4h0.9v0.9h-0.9zM58.9 134.7h0.9v0.9h-0.9zM60.4 153.9h0.9v0.9h-0.9zM60.1 133.7h0.9v0.9h-0.9zM59.2 164.9h0.9v0.9h-0.9zM60.4 163.0h0.9v0.9h-0.9zM58.9 140.7h0.9v0.9h-0.9z" fill="rgb(64,64,64)"/>
<path d="M60.1 144.4h0.9v0.9h-0.9zM59.5 161.9h0.9v0.9h-0.9zM59.7 132.9h0.9v0.9h-0.9zM61.2 130.1h0.9v0.9h-0.9zM59.4 158.5h0.9v0.9h-0.9zM60.4 154.9h0.9v0.9h-0.9zM59.2 163.0h0.9v0.9h-0.9z" fill="rgb(80,80,80)"/>
<path d="M61.0 140.7h0.9v0.9h-0.9zM61.1 141.3h0.9v0.9h-0.9zM60.3 155.9h0.9v0.9h-0.9zM60.5 164.3h0.9v0.9h-0.9zM59.7 134.6h0.9v0.9h-0.9zM59.4 138.5h0.9v0.9h-0.9zM58.5 145.7h0.9v0.9h-0.9zM60.4 154.6h0.9v0.9h-0.9z" fill="rgb(96,96,96)"/>
<path d="M59.2 130.0h0.9v0.9h-0.9zM59.8 159.1h0.9v0.9h-0.9zM59.6 130.7h0.9v0.9h-0.9zM58.3 139.4h0.9v0.9h-0.9zM58.4 133.2h0.9v0.9h-0.9zM60.0 152.1h0.9v0.9h-0.9z" fill="rgb(112,112,112)"/>
<path d="M61.7,140.5 L66.7,128.8 L74.3,124.3 Q78,124.6 80.6,127.9 L75.2,136.9 L67.6,141.4 Z" fill="none" stroke="#888" stroke-width="0.7" />
<path d="M141.8,129.7 L151.7,126.5 L158,126.1 L158.9,133.3 L154.4,140.5 L153.5,149.4 L152.6,155.7 L148,161.1 L143.6,165.6 L143.6,131 Z" fill="#7a7a7a" stroke="none" stroke-width="0" filter="url(#soft2)"/>
<path d="M144.4 138.7h0.9v0.9h-0.9zM153.7 129.7h0.9v0.9h-0.9zM147.4 149.9h0.9v0.9h-0.9zM146.4 141.0h0.9v0.9h-0.9zM149.3 147.7h0.9v0.9h-0.9zM146.3 130.2h0.9v0.9h-0.9zM146.5 131.3h0.9v0.9h-0.9zM148.9 137.8h0.9v0.9h-0.9zM156.5 150.8h0.9v0.9h-0.9z" fill="rgb(48,48,48)"/>
<path d="M146.4 158.4h0.9v0.9h-0.9zM151.4 159.9h0.9v0.9h-0.9zM144.0 126.5h0.9v0.9h-0.9zM144.9 163.5h0.9v0.9h-0.9zM146.1 135.8h0.9v0.9h-0.9zM149.6 154.5h0.9v0.9h-0.9zM152.9 151.5h0.9v0.9h-0.9zM149.9 135.2h0.9v0.9h-0.9zM151.5 138.5h0.9v0.9h-0.9zM155.0 148.3h0.9v0.9h-0.9zM151.9 137.9h0.9v0.9h-0.9zM146.0 141.6h0.9v0.9h-0.9zM151.8 147.2h0.9v0.9h-0.9zM143.1 135.6h0.9v0.9h-0.9zM158.8 148.9h0.9v0.9h-0.9zM155.3 162.0h0.9v0.9h-0.9zM156.4 161.6h0.9v0.9h-0.9zM150.3 151.0h0.9v0.9h-0.9zM144.8 136.8h0.9v0.9h-0.9zM152.9 146.4h0.9v0.9h-0.9zM153.3 136.5h0.9v0.9h-0.9zM149.9 134.5h0.9v0.9h-0.9zM151.7 151.8h0.9v0.9h-0.9zM153.1 151.7h0.9v0.9h-0.9zM152.4 152.1h0.9v0.9h-0.9zM147.2 147.3h0.9v0.9h-0.9zM155.5 143.1h0.9v0.9h-0.9zM149.5 144.8h0.9v0.9h-0.9zM150.9 127.5h0.9v0.9h-0.9z" fill="rgb(64,64,64)"/>
<path d="M153.4 145.9h0.9v0.9h-0.9zM150.1 151.5h0.9v0.9h-0.9zM148.2 141.0h0.9v0.9h-0.9zM150.3 160.8h0.9v0.9h-0.9zM144.9 141.6h0.9v0.9h-0.9zM143.3 143.9h0.9v0.9h-0.9zM147.8 145.3h0.9v0.9h-0.9zM152.8 146.7h0.9v0.9h-0.9zM147.7 154.8h0.9v0.9h-0.9zM144.3 147.8h0.9v0.9h-0.9zM158.1 165.9h0.9v0.9h-0.9zM149.9 137.4h0.9v0.9h-0.9zM156.6 146.2h0.9v0.9h-0.9zM148.8 141.4h0.9v0.9h-0.9zM145.1 152.1h0.9v0.9h-0.9zM155.8 154.3h0.9v0.9h-0.9zM148.6 141.7h0.9v0.9h-0.9zM149.2 155.5h0.9v0.9h-0.9zM147.7 141.1h0.9v0.9h-0.9zM143.8 140.1h0.9v0.9h-0.9zM150.9 153.2h0.9v0.9h-0.9zM147.3 139.8h0.9v0.9h-0.9zM147.5 128.1h0.9v0.9h-0.9z" fill="rgb(80,80,80)"/>
<path d="M144.8 142.1h0.9v0.9h-0.9zM149.1 146.4h0.9v0.9h-0.9zM148.8 139.9h0.9v0.9h-0.9zM149.1 147.4h0.9v0.9h-0.9zM147.6 138.4h0.9v0.9h-0.9zM149.2 149.8h0.9v0.9h-0.9zM151.9 143.0h0.9v0.9h-0.9zM150.9 155.7h0.9v0.9h-0.9zM147.1 139.2h0.9v0.9h-0.9zM148.9 143.2h0.9v0.9h-0.9zM149.7 144.3h0.9v0.9h-0.9zM150.3 158.0h0.9v0.9h-0.9zM149.5 147.1h0.9v0.9h-0.9zM152.4 147.4h0.9v0.9h-0.9zM148.5 150.6h0.9v0.9h-0.9zM146.3 143.9h0.9v0.9h-0.9zM141.0 127.8h0.9v0.9h-0.9zM148.4 152.0h0.9v0.9h-0.9zM145.8 140.3h0.9v0.9h-0.9zM145.5 136.0h0.9v0.9h-0.9zM156.2 159.8h0.9v0.9h-0.9zM149.7 136.6h0.9v0.9h-0.9zM151.5 142.5h0.9v0.9h-0.9zM145.3 133.7h0.9v0.9h-0.9zM147.8 138.9h0.9v0.9h-0.9zM152.4 151.9h0.9v0.9h-0.9zM159.4 154.9h0.9v0.9h-0.9zM154.6 153.2h0.9v0.9h-0.9zM148.1 142.0h0.9v0.9h-0.9zM158.1 148.6h0.9v0.9h-0.9z" fill="rgb(96,96,96)"/>
<path d="M142.6 134.6h0.9v0.9h-0.9zM148.0 133.3h0.9v0.9h-0.9zM146.2 140.2h0.9v0.9h-0.9zM148.0 128.0h0.9v0.9h-0.9zM149.0 150.5h0.9v0.9h-0.9zM154.9 147.4h0.9v0.9h-0.9zM153.4 141.9h0.9v0.9h-0.9zM147.8 140.2h0.9v0.9h-0.9zM154.3 152.9h0.9v0.9h-0.9zM153.1 140.9h0.9v0.9h-0.9zM140.1 135.5h0.9v0.9h-0.9zM150.8 162.9h0.9v0.9h-0.9zM150.9 156.6h0.9v0.9h-0.9zM156.6 165.4h0.9v0.9h-0.9zM146.2 143.8h0.9v0.9h-0.9zM146.3 142.5h0.9v0.9h-0.9zM147.6 152.6h0.9v0.9h-0.9zM147.3 141.3h0.9v0.9h-0.9zM147.7 148.5h0.9v0.9h-0.9zM147.0 136.4h0.9v0.9h-0.9zM150.7 131.7h0.9v0.9h-0.9zM146.5 136.0h0.9v0.9h-0.9zM151.6 151.5h0.9v0.9h-0.9zM154.5 157.6h0.9v0.9h-0.9zM151.7 143.4h0.9v0.9h-0.9zM148.8 144.3h0.9v0.9h-0.9zM148.1 143.7h0.9v0.9h-0.9zM147.6 162.9h0.9v0.9h-0.9z" fill="rgb(112,112,112)"/>
<path d="M146.5 145.0h0.9v0.9h-0.9zM150.6 139.7h0.9v0.9h-0.9zM152.7 148.6h0.9v0.9h-0.9zM152.7 144.2h0.9v0.9h-0.9zM146.4 153.7h0.9v0.9h-0.9zM150.9 153.6h0.9v0.9h-0.9zM150.3 149.8h0.9v0.9h-0.9zM147.8 151.3h0.9v0.9h-0.9zM146.8 126.1h0.9v0.9h-0.9zM148.1 133.6h0.9v0.9h-0.9zM144.6 134.8h0.9v0.9h-0.9zM150.3 147.3h0.9v0.9h-0.9zM158.4 154.9h0.9v0.9h-0.9zM152.5 146.8h0.9v0.9h-0.9zM151.2 144.3h0.9v0.9h-0.9zM150.6 147.3h0.9v0.9h-0.9zM143.3 141.9h0.9v0.9h-0.9zM147.5 152.8h0.9v0.9h-0.9zM155.5 161.3h0.9v0.9h-0.9zM150.7 151.9h0.9v0.9h-0.9zM147.3 133.9h0.9v0.9h-0.9zM153.3 138.1h0.9v0.9h-0.9zM146.0 128.6h0.9v0.9h-0.9zM145.5 138.1h0.9v0.9h-0.9zM139.9 140.2h0.9v0.9h-0.9zM148.4 140.7h0.9v0.9h-0.9zM149.0 139.6h0.9v0.9h-0.9z" fill="rgb(128,128,128)"/>
<path d="M150.1 137.6h0.9v0.9h-0.9zM157.6 153.6h0.9v0.9h-0.9zM145.6 144.7h0.9v0.9h-0.9zM150.3 145.0h0.9v0.9h-0.9zM148.0 150.2h0.9v0.9h-0.9zM153.2 151.5h0.9v0.9h-0.9zM155.6 145.2h0.9v0.9h-0.9zM148.9 139.2h0.9v0.9h-0.9zM146.2 157.3h0.9v0.9h-0.9zM150.4 143.7h0.9v0.9h-0.9zM150.0 145.3h0.9v0.9h-0.9zM151.5 136.1h0.9v0.9h-0.9zM153.3 146.2h0.9v0.9h-0.9zM146.6 153.3h0.9v0.9h-0.9zM149.5 142.4h0.9v0.9h-0.9zM149.5 151.3h0.9v0.9h-0.9zM159.7 164.1h0.9v0.9h-0.9zM148.8 148.7h0.9v0.9h-0.9zM148.3 137.1h0.9v0.9h-0.9zM153.2 141.5h0.9v0.9h-0.9zM145.0 135.9h0.9v0.9h-0.9z" fill="rgb(144,144,144)"/>
<path d="M154.4 129.0h0.9v0.9h-0.9zM151.7 132.6h0.9v0.9h-0.9zM153.3 133.9h0.9v0.9h-0.9zM154.9 126.4h0.9v0.9h-0.9zM149.0 131.3h0.9v0.9h-0.9z" fill="rgb(32,32,32)"/>
<path d="M152.8 128.3h0.9v0.9h-0.9zM148.9 131.1h0.9v0.9h-0.9zM157.7 133.2h0.9v0.9h-0.9zM153.4 131.2h0.9v0.9h-0.9zM160.5 129.8h0.9v0.9h-0.9zM148.1 130.2h0.9v0.9h-0.9zM152.8 133.1h0.9v0.9h-0.9zM147.7 129.5h0.9v0.9h-0.9zM144.2 128.8h0.9v0.9h-0.9zM147.4 129.0h0.9v0.9h-0.9zM154.3 130.3h0.9v0.9h-0.9zM157.8 134.4h0.9v0.9h-0.9zM156.2 131.2h0.9v0.9h-0.9zM153.3 130.2h0.9v0.9h-0.9z" fill="rgb(48,48,48)"/>
<path d="M157.5 133.9h0.9v0.9h-0.9zM151.0 128.8h0.9v0.9h-0.9zM152.1 131.6h0.9v0.9h-0.9zM154.7 130.0h0.9v0.9h-0.9zM151.4 130.6h0.9v0.9h-0.9zM151.0 133.2h0.9v0.9h-0.9z" fill="rgb(64,64,64)"/>
<path d="M150.0 133.8h0.9v0.9h-0.9zM156.2 134.3h0.9v0.9h-0.9zM153.8 131.5h0.9v0.9h-0.9zM150.6 131.3h0.9v0.9h-0.9zM158.2 132.6h0.9v0.9h-0.9zM148.9 130.0h0.9v0.9h-0.9zM151.9 129.6h0.9v0.9h-0.9zM157.4 133.2h0.9v0.9h-0.9zM145.1 128.6h0.9v0.9h-0.9zM148.6 130.3h0.9v0.9h-0.9zM158.3 134.4h0.9v0.9h-0.9zM149.6 134.0h0.9v0.9h-0.9zM151.3 135.5h0.9v0.9h-0.9zM145.8 128.4h0.9v0.9h-0.9zM155.9 135.3h0.9v0.9h-0.9zM153.8 129.6h0.9v0.9h-0.9zM148.7 130.7h0.9v0.9h-0.9zM153.2 128.6h0.9v0.9h-0.9z" fill="rgb(80,80,80)"/>
<path d="M159.7 131.1h0.9v0.9h-0.9zM150.5 134.8h0.9v0.9h-0.9zM145.2 127.8h0.9v0.9h-0.9zM153.0 134.5h0.9v0.9h-0.9zM156.4 132.4h0.9v0.9h-0.9zM146.8 125.6h0.9v0.9h-0.9zM150.4 123.9h0.9v0.9h-0.9zM146.7 132.9h0.9v0.9h-0.9zM147.2 133.0h0.9v0.9h-0.9z" fill="rgb(96,96,96)"/>
<path d="M157.4 132.0h0.9v0.9h-0.9zM157.8 130.9h0.9v0.9h-0.9zM150.5 132.1h0.9v0.9h-0.9zM159.3 131.1h0.9v0.9h-0.9zM161.8 129.8h0.9v0.9h-0.9zM158.6 133.7h0.9v0.9h-0.9zM154.0 135.8h0.9v0.9h-0.9zM151.7 129.4h0.9v0.9h-0.9zM148.8 132.0h0.9v0.9h-0.9zM156.2 133.3h0.9v0.9h-0.9zM146.8 128.6h0.9v0.9h-0.9zM152.8 130.1h0.9v0.9h-0.9zM153.6 129.6h0.9v0.9h-0.9zM153.2 133.8h0.9v0.9h-0.9zM157.7 136.6h0.9v0.9h-0.9zM149.8 126.0h0.9v0.9h-0.9zM156.1 128.4h0.9v0.9h-0.9z" fill="rgb(112,112,112)"/>
<path d="M151.2 127.5h0.9v0.9h-0.9zM152.1 129.2h0.9v0.9h-0.9zM151.6 156.9h0.9v0.9h-0.9zM149.2 162.2h0.9v0.9h-0.9zM143.1 158.4h0.9v0.9h-0.9zM152.4 138.7h0.9v0.9h-0.9z" fill="rgb(144,144,144)"/>
<path d="M146.4 149.3h0.9v0.9h-0.9zM155.8 141.9h0.9v0.9h-0.9zM148.2 131.5h0.9v0.9h-0.9zM152.2 135.0h0.9v0.9h-0.9zM146.8 138.0h0.9v0.9h-0.9zM152.0 158.4h0.9v0.9h-0.9zM150.7 153.8h0.9v0.9h-0.9zM155.4 157.5h0.9v0.9h-0.9zM148.7 145.7h0.9v0.9h-0.9zM137.6 121.0h0.9v0.9h-0.9zM142.1 118.9h0.9v0.9h-0.9zM152.2 143.3h0.9v0.9h-0.9zM140.3 119.6h0.9v0.9h-0.9zM147.5 109.0h0.9v0.9h-0.9zM154.0 132.3h0.9v0.9h-0.9zM148.2 145.4h0.9v0.9h-0.9zM152.1 121.8h0.9v0.9h-0.9zM151.5 132.4h0.9v0.9h-0.9zM149.1 163.7h0.9v0.9h-0.9z" fill="rgb(160,160,160)"/>
<path d="M144.6 128.4h0.9v0.9h-0.9zM147.5 151.9h0.9v0.9h-0.9zM156.4 152.9h0.9v0.9h-0.9zM148.3 143.1h0.9v0.9h-0.9zM146.5 138.1h0.9v0.9h-0.9zM145.3 131.3h0.9v0.9h-0.9zM144.6 142.3h0.9v0.9h-0.9zM153.6 143.2h0.9v0.9h-0.9zM149.1 146.9h0.9v0.9h-0.9zM142.5 127.5h0.9v0.9h-0.9zM145.4 119.6h0.9v0.9h-0.9zM144.8 139.1h0.9v0.9h-0.9z" fill="rgb(176,176,176)"/>
<path d="M155.7 160.6h0.9v0.9h-0.9zM148.8 152.1h0.9v0.9h-0.9zM148.9 142.2h0.9v0.9h-0.9zM154.4 163.8h0.9v0.9h-0.9zM149.7 150.7h0.9v0.9h-0.9zM147.1 157.0h0.9v0.9h-0.9zM148.5 132.9h0.9v0.9h-0.9zM138.9 137.8h0.9v0.9h-0.9zM142.1 141.6h0.9v0.9h-0.9zM153.3 129.6h0.9v0.9h-0.9z" fill="rgb(192,192,192)"/>
<path d="M149.3 150.1h0.9v0.9h-0.9zM147.6 152.8h0.9v0.9h-0.9zM144.7 144.8h0.9v0.9h-0.9zM144.9 112.9h0.9v0.9h-0.9zM141.5 114.3h0.9v0.9h-0.9zM146.8 137.5h0.9v0.9h-0.9zM148.6 128.2h0.9v0.9h-0.9zM153.3 156.0h0.9v0.9h-0.9zM145.8 143.6h0.9v0.9h-0.9zM155.5 144.0h0.9v0.9h-0.9z" fill="rgb(208,208,208)"/>
<path d="M141.4 129.5h0.9v0.9h-0.9zM151.4 127.7h0.9v0.9h-0.9zM151.8 124.2h0.9v0.9h-0.9zM145.6 126.1h0.9v0.9h-0.9zM148.5 156.6h0.9v0.9h-0.9zM152.3 146.1h0.9v0.9h-0.9zM152.2 155.3h0.9v0.9h-0.9zM139.9 136.0h0.9v0.9h-0.9zM154.9 142.7h0.9v0.9h-0.9zM144.0 131.0h0.9v0.9h-0.9zM148.6 135.1h0.9v0.9h-0.9zM148.6 152.4h0.9v0.9h-0.9zM153.6 140.8h0.9v0.9h-0.9zM150.6 139.3h0.9v0.9h-0.9zM142.9 128.7h0.9v0.9h-0.9zM154.7 139.6h0.9v0.9h-0.9zM147.7 130.9h0.9v0.9h-0.9zM144.1 139.0h0.9v0.9h-0.9zM148.2 138.3h0.9v0.9h-0.9z" fill="rgb(224,224,224)"/>
<path d="M129,166.5 L129,132.5 Q129.3,131.6 131,131.6 L142,131.4 Q144.2,131.6 144.5,133 L145,144 L145,154 L143.8,160 L142.5,166.5 Z" fill="#5c5c5c" stroke="none" stroke-width="0" filter="url(#soft)"/>
<ellipse cx="137" cy="141" rx="10.5" ry="13" fill="url(#g9)" clip-path="url(#c8)"/>
<ellipse cx="136.7" cy="156" rx="11.5" ry="12" fill="url(#g10)" clip-path="url(#c8)"/>
<path d="M142.4 131.4h0.9v0.9h-0.9zM143.2 132.1h0.9v0.9h-0.9zM144.1 131.5h0.9v0.9h-0.9zM131.6 131.1h0.9v0.9h-0.9zM137.9 130.5h0.9v0.9h-0.9zM133.7 131.5h0.9v0.9h-0.9zM135.0 131.4h0.9v0.9h-0.9z" fill="rgb(48,48,48)"/>
<path d="M143.0 131.2h0.9v0.9h-0.9zM140.8 131.4h0.9v0.9h-0.9zM137.2 131.2h0.9v0.9h-0.9zM141.8 132.4h0.9v0.9h-0.9zM131.4 132.5h0.9v0.9h-0.9zM134.9 132.9h0.9v0.9h-0.9zM135.1 132.1h0.9v0.9h-0.9zM134.7 131.9h0.9v0.9h-0.9z" fill="rgb(64,64,64)"/>
<path d="M129.7 131.3h0.9v0.9h-0.9zM132.5 130.9h0.9v0.9h-0.9zM133.4 131.9h0.9v0.9h-0.9zM135.1 131.2h0.9v0.9h-0.9zM139.6 131.3h0.9v0.9h-0.9zM140.1 131.8h0.9v0.9h-0.9zM134.8 131.7h0.9v0.9h-0.9zM136.9 130.2h0.9v0.9h-0.9z" fill="rgb(80,80,80)"/>
<path d="M129.9 131.5h0.9v0.9h-0.9zM141.3 131.9h0.9v0.9h-0.9zM142.1 131.9h0.9v0.9h-0.9zM130.3 131.2h0.9v0.9h-0.9zM139.9 131.6h0.9v0.9h-0.9zM129.7 131.7h0.9v0.9h-0.9z" fill="rgb(96,96,96)"/>
<path d="M137.5 131.5h0.9v0.9h-0.9z" fill="rgb(112,112,112)"/>
<path d="M155.7,123.8 Q160,125 164.7,128.3 L154.8,139.6 Q153.4,131 155.7,123.8 Z" fill="none" stroke="#555" stroke-width="0.7" />
<path d="M61,203 Q64,203 66,206 L67,212 L65,218 L62,222 L60.5,219 Z" fill="#8a8a8a" stroke="none" stroke-width="0" filter="url(#soft2)" opacity="0.6"/>
<path d="M61.0 224.2h0.9v0.9h-0.9z" fill="rgb(32,32,32)"/>
<path d="M65.9 205.4h0.9v0.9h-0.9zM65.8 208.6h0.9v0.9h-0.9zM61.2 204.1h0.9v0.9h-0.9zM65.1 218.2h0.9v0.9h-0.9zM62.0 208.7h0.9v0.9h-0.9zM63.4 207.2h0.9v0.9h-0.9zM61.3 214.9h0.9v0.9h-0.9zM63.8 206.9h0.9v0.9h-0.9zM64.6 203.5h0.9v0.9h-0.9zM64.5 209.9h0.9v0.9h-0.9zM65.8 215.9h0.9v0.9h-0.9zM61.1 211.6h0.9v0.9h-0.9zM58.6 215.5h0.9v0.9h-0.9zM66.4 220.9h0.9v0.9h-0.9zM69.3 215.0h0.9v0.9h-0.9zM65.3 206.6h0.9v0.9h-0.9z" fill="rgb(48,48,48)"/>
<path d="M67.2 207.8h0.9v0.9h-0.9zM59.0 204.8h0.9v0.9h-0.9zM62.4 204.4h0.9v0.9h-0.9zM61.6 207.5h0.9v0.9h-0.9zM65.2 214.0h0.9v0.9h-0.9zM61.0 205.9h0.9v0.9h-0.9zM63.6 216.4h0.9v0.9h-0.9zM60.4 204.5h0.9v0.9h-0.9zM60.5 214.9h0.9v0.9h-0.9zM63.1 211.1h0.9v0.9h-0.9zM64.0 211.3h0.9v0.9h-0.9zM63.8 216.3h0.9v0.9h-0.9zM65.8 202.7h0.9v0.9h-0.9zM63.5 214.5h0.9v0.9h-0.9zM61.6 205.5h0.9v0.9h-0.9zM60.7 218.7h0.9v0.9h-0.9zM67.2 209.0h0.9v0.9h-0.9z" fill="rgb(64,64,64)"/>
<path d="M68.1 214.4h0.9v0.9h-0.9zM68.2 208.1h0.9v0.9h-0.9zM62.8 208.6h0.9v0.9h-0.9zM64.2 216.8h0.9v0.9h-0.9zM68.9 221.1h0.9v0.9h-0.9zM66.1 210.1h0.9v0.9h-0.9zM65.1 210.0h0.9v0.9h-0.9zM70.3 217.1h0.9v0.9h-0.9z" fill="rgb(80,80,80)"/>
<path d="M60.0 213.2h0.9v0.9h-0.9zM60.3 211.6h0.9v0.9h-0.9zM66.4 220.2h0.9v0.9h-0.9zM64.6 210.9h0.9v0.9h-0.9zM60.4 219.6h0.9v0.9h-0.9zM65.1 206.3h0.9v0.9h-0.9zM68.3 211.9h0.9v0.9h-0.9zM63.5 207.9h0.9v0.9h-0.9zM61.4 213.7h0.9v0.9h-0.9zM61.0 213.3h0.9v0.9h-0.9zM65.1 209.2h0.9v0.9h-0.9zM62.8 208.4h0.9v0.9h-0.9zM63.3 215.5h0.9v0.9h-0.9zM61.4 210.9h0.9v0.9h-0.9zM65.9 212.8h0.9v0.9h-0.9z" fill="rgb(96,96,96)"/>
<path d="M61.3 215.8h0.9v0.9h-0.9zM61.8 217.5h0.9v0.9h-0.9zM60.6 210.9h0.9v0.9h-0.9zM64.7 208.4h0.9v0.9h-0.9zM62.0 209.7h0.9v0.9h-0.9zM63.7 217.3h0.9v0.9h-0.9zM62.3 215.9h0.9v0.9h-0.9zM64.3 209.7h0.9v0.9h-0.9zM61.0 214.1h0.9v0.9h-0.9zM68.6 217.2h0.9v0.9h-0.9zM61.1 220.6h0.9v0.9h-0.9zM62.9 207.2h0.9v0.9h-0.9zM65.4 217.7h0.9v0.9h-0.9zM66.3 213.4h0.9v0.9h-0.9zM62.9 219.6h0.9v0.9h-0.9z" fill="rgb(112,112,112)"/>
<path d="M66.7 204.7h0.9v0.9h-0.9zM62.8 207.0h0.9v0.9h-0.9zM64.4 219.0h0.9v0.9h-0.9zM66.7 208.9h0.9v0.9h-0.9zM64.3 214.7h0.9v0.9h-0.9zM65.3 216.2h0.9v0.9h-0.9zM67.0 222.9h0.9v0.9h-0.9zM62.1 215.4h0.9v0.9h-0.9zM64.1 209.2h0.9v0.9h-0.9zM66.2 216.2h0.9v0.9h-0.9zM66.7 217.0h0.9v0.9h-0.9zM63.5 213.7h0.9v0.9h-0.9zM58.0 212.2h0.9v0.9h-0.9zM68.0 214.6h0.9v0.9h-0.9zM59.8 214.1h0.9v0.9h-0.9zM61.8 208.7h0.9v0.9h-0.9zM59.8 212.1h0.9v0.9h-0.9z" fill="rgb(128,128,128)"/>
<path d="M60.8 223.6h0.9v0.9h-0.9zM56.6 227.8h0.9v0.9h-0.9z" fill="rgb(112,112,112)"/>
<path d="M65.0 224.7h0.9v0.9h-0.9zM60.1 227.2h0.9v0.9h-0.9zM68.4 222.1h0.9v0.9h-0.9zM69.4 216.3h0.9v0.9h-0.9zM69.9 218.1h0.9v0.9h-0.9zM58.9 222.1h0.9v0.9h-0.9zM67.7 233.0h0.9v0.9h-0.9zM66.8 222.3h0.9v0.9h-0.9zM63.1 236.7h0.9v0.9h-0.9z" fill="rgb(128,128,128)"/>
<path d="M70.4 231.5h0.9v0.9h-0.9zM64.4 213.8h0.9v0.9h-0.9zM62.5 217.2h0.9v0.9h-0.9zM66.6 224.7h0.9v0.9h-0.9zM67.6 238.2h0.9v0.9h-0.9zM68.0 224.8h0.9v0.9h-0.9zM65.8 232.3h0.9v0.9h-0.9zM64.7 231.8h0.9v0.9h-0.9zM66.7 239.1h0.9v0.9h-0.9zM63.9 231.3h0.9v0.9h-0.9zM61.0 226.4h0.9v0.9h-0.9zM59.2 223.4h0.9v0.9h-0.9zM65.8 230.2h0.9v0.9h-0.9z" fill="rgb(144,144,144)"/>
<path d="M65.8 211.2h0.9v0.9h-0.9zM63.3 229.1h0.9v0.9h-0.9zM65.3 231.6h0.9v0.9h-0.9zM63.3 224.9h0.9v0.9h-0.9zM56.6 217.3h0.9v0.9h-0.9zM67.0 229.9h0.9v0.9h-0.9zM60.9 228.7h0.9v0.9h-0.9zM66.0 217.5h0.9v0.9h-0.9zM68.5 230.3h0.9v0.9h-0.9z" fill="rgb(160,160,160)"/>
<path d="M63.9 215.4h0.9v0.9h-0.9zM62.5 227.1h0.9v0.9h-0.9zM63.3 228.1h0.9v0.9h-0.9zM62.9 225.0h0.9v0.9h-0.9zM67.0 233.5h0.9v0.9h-0.9zM66.2 235.4h0.9v0.9h-0.9zM68.7 221.9h0.9v0.9h-0.9z" fill="rgb(176,176,176)"/>
<path d="M65.1 241.1h0.9v0.9h-0.9zM65.6 232.8h0.9v0.9h-0.9zM69.7 239.0h0.9v0.9h-0.9zM57.0 229.3h0.9v0.9h-0.9zM61.4 225.2h0.9v0.9h-0.9zM64.7 225.6h0.9v0.9h-0.9zM63.7 221.4h0.9v0.9h-0.9zM66.9 225.7h0.9v0.9h-0.9zM64.9 229.4h0.9v0.9h-0.9z" fill="rgb(192,192,192)"/>
<path d="M74.0 206.4h0.9v0.9h-0.9zM73.1 208.0h0.9v0.9h-0.9zM69.9 214.5h0.9v0.9h-0.9zM68.1 208.2h0.9v0.9h-0.9z" fill="rgb(64,64,64)"/>
<path d="M68.4 208.2h0.9v0.9h-0.9zM71.0 204.0h0.9v0.9h-0.9zM74.4 207.8h0.9v0.9h-0.9zM73.6 207.7h0.9v0.9h-0.9zM69.3 203.9h0.9v0.9h-0.9zM66.8 205.2h0.9v0.9h-0.9z" fill="rgb(80,80,80)"/>
<path d="M75.3 206.5h0.9v0.9h-0.9zM70.3 206.4h0.9v0.9h-0.9zM70.9 206.4h0.9v0.9h-0.9zM70.8 205.9h0.9v0.9h-0.9zM72.6 210.5h0.9v0.9h-0.9zM69.8 202.0h0.9v0.9h-0.9zM72.2 205.8h0.9v0.9h-0.9zM68.6 202.8h0.9v0.9h-0.9zM73.4 208.6h0.9v0.9h-0.9z" fill="rgb(96,96,96)"/>
<path d="M78.4 203.2h0.9v0.9h-0.9zM71.4 206.1h0.9v0.9h-0.9z" fill="rgb(112,112,112)"/>
<path d="M73.4 210.6h0.9v0.9h-0.9zM70.5 204.1h0.9v0.9h-0.9zM65.1 207.8h0.9v0.9h-0.9z" fill="rgb(128,128,128)"/>
<path d="M74.2 205.1h0.9v0.9h-0.9zM75.5 205.4h0.9v0.9h-0.9zM75.7 210.6h0.9v0.9h-0.9zM74.0 202.6h0.9v0.9h-0.9zM67.5 207.3h0.9v0.9h-0.9zM69.3 204.1h0.9v0.9h-0.9z" fill="rgb(144,144,144)"/>
<path d="M45,218.5 L45,202.6 Q45.3,201.8 47,201.7 L59.5,201.6 Q61.4,202 61.4,204 L61.2,212 L60.5,219 L58,220 L47,220 Z" fill="#505050" stroke="none" stroke-width="0" filter="url(#soft)"/>
<ellipse cx="53" cy="210" rx="10.5" ry="10.5" fill="url(#g12)" clip-path="url(#c11)"/>
<path d="M58.1 201.2h0.9v0.9h-0.9zM45.5 201.8h0.9v0.9h-0.9zM59.3 201.6h0.9v0.9h-0.9zM53.8 201.1h0.9v0.9h-0.9zM53.1 201.7h0.9v0.9h-0.9zM47.2 201.4h0.9v0.9h-0.9zM55.3 202.6h0.9v0.9h-0.9z" fill="rgb(48,48,48)"/>
<path d="M51.5 201.7h0.9v0.9h-0.9zM57.0 202.0h0.9v0.9h-0.9zM51.4 202.0h0.9v0.9h-0.9zM49.9 202.7h0.9v0.9h-0.9zM53.4 202.0h0.9v0.9h-0.9z" fill="rgb(64,64,64)"/>
<path d="M51.8 200.9h0.9v0.9h-0.9zM58.1 201.8h0.9v0.9h-0.9zM56.2 201.4h0.9v0.9h-0.9zM58.6 201.8h0.9v0.9h-0.9zM52.4 202.1h0.9v0.9h-0.9zM51.5 201.8h0.9v0.9h-0.9zM46.3 201.4h0.9v0.9h-0.9zM56.8 201.6h0.9v0.9h-0.9zM54.2 201.8h0.9v0.9h-0.9zM61.3 202.3h0.9v0.9h-0.9z" fill="rgb(80,80,80)"/>
<path d="M46.8 202.6h0.9v0.9h-0.9zM49.5 201.3h0.9v0.9h-0.9zM46.0 202.9h0.9v0.9h-0.9zM60.7 200.9h0.9v0.9h-0.9zM47.6 201.4h0.9v0.9h-0.9zM50.7 201.2h0.9v0.9h-0.9zM60.1 201.5h0.9v0.9h-0.9zM52.7 201.7h0.9v0.9h-0.9z" fill="rgb(96,96,96)"/>
<path d="M61.2 213.1h0.9v0.9h-0.9z" fill="rgb(32,32,32)"/>
<path d="M61.6 207.1h0.9v0.9h-0.9zM61.5 216.4h0.9v0.9h-0.9zM59.6 213.8h0.9v0.9h-0.9zM62.1 212.4h0.9v0.9h-0.9z" fill="rgb(48,48,48)"/>
<path d="M60.9 216.8h0.9v0.9h-0.9zM60.4 213.7h0.9v0.9h-0.9zM60.4 209.0h0.9v0.9h-0.9z" fill="rgb(64,64,64)"/>
<path d="M61.8 210.3h0.9v0.9h-0.9zM61.1 205.8h0.9v0.9h-0.9zM60.8 208.0h0.9v0.9h-0.9zM60.7 210.8h0.9v0.9h-0.9zM62.0 208.0h0.9v0.9h-0.9zM61.8 202.7h0.9v0.9h-0.9zM59.4 215.8h0.9v0.9h-0.9zM61.3 212.8h0.9v0.9h-0.9z" fill="rgb(80,80,80)"/>
<path d="M60.5 209.7h0.9v0.9h-0.9zM61.7 208.7h0.9v0.9h-0.9zM60.6 215.9h0.9v0.9h-0.9zM61.8 216.8h0.9v0.9h-0.9zM61.8 214.7h0.9v0.9h-0.9z" fill="rgb(96,96,96)"/>
<path d="M60.7 215.3h0.9v0.9h-0.9zM61.5 215.4h0.9v0.9h-0.9zM61.9 206.5h0.9v0.9h-0.9zM61.1 204.6h0.9v0.9h-0.9z" fill="rgb(112,112,112)"/>
<path d="M45,242.4 L45,221 Q46,219 48,219 L59.5,219 Q60.6,220.5 60.4,225 L59.5,232 L58,238 L56.5,242.4 Z" fill="#505050" stroke="none" stroke-width="0" filter="url(#soft)"/>
<ellipse cx="52" cy="231" rx="10.5" ry="13" fill="url(#g14)" clip-path="url(#c13)"/>
<path d="M59.2 229.1h0.9v0.9h-0.9zM60.6 233.1h0.9v0.9h-0.9zM58.9 232.1h0.9v0.9h-0.9zM59.6 238.1h0.9v0.9h-0.9z" fill="rgb(48,48,48)"/>
<path d="M59.8 225.0h0.9v0.9h-0.9zM57.8 234.2h0.9v0.9h-0.9zM58.5 238.0h0.9v0.9h-0.9zM57.8 240.6h0.9v0.9h-0.9zM60.0 232.1h0.9v0.9h-0.9z" fill="rgb(64,64,64)"/>
<path d="M59.6 229.0h0.9v0.9h-0.9zM60.4 225.4h0.9v0.9h-0.9zM60.1 229.7h0.9v0.9h-0.9z" fill="rgb(80,80,80)"/>
<path d="M57.1 238.2h0.9v0.9h-0.9zM59.5 223.9h0.9v0.9h-0.9zM60.1 224.7h0.9v0.9h-0.9zM58.3 240.5h0.9v0.9h-0.9zM58.7 226.8h0.9v0.9h-0.9zM59.9 234.2h0.9v0.9h-0.9zM60.2 227.8h0.9v0.9h-0.9zM59.8 223.5h0.9v0.9h-0.9z" fill="rgb(96,96,96)"/>
<path d="M58.8 234.7h0.9v0.9h-0.9zM60.7 227.9h0.9v0.9h-0.9zM56.4 241.2h0.9v0.9h-0.9zM58.3 239.4h0.9v0.9h-0.9z" fill="rgb(112,112,112)"/>
<path d="M57.7 239.0h0.9v0.9h-0.9z" fill="rgb(128,128,128)"/>
<path d="M65.3,212.3 Q63,209 66,205 L72,199.6 Q76,196.8 80.5,197.6 Q84.5,198.8 83.6,202.2 Q82,206 76,210 Q70,213.6 67,213.4 Q65.8,213.3 65.3,212.3 Z" fill="none" stroke="#888" stroke-width="0.7" />
<ellipse cx="153.5" cy="209.5" rx="11" ry="3.6" transform="rotate(-42 153.5 209.5)" fill="#666" opacity="0.75" filter="url(#soft2)"/>
<path d="M149.6 208.0h0.9v0.9h-0.9zM150.7 208.1h0.9v0.9h-0.9zM157.2 203.6h0.9v0.9h-0.9zM162.2 203.8h0.9v0.9h-0.9zM153.7 202.9h0.9v0.9h-0.9zM145.8 212.4h0.9v0.9h-0.9zM153.5 208.6h0.9v0.9h-0.9zM153.7 209.2h0.9v0.9h-0.9zM162.2 201.9h0.9v0.9h-0.9zM159.5 201.5h0.9v0.9h-0.9zM155.4 205.0h0.9v0.9h-0.9zM150.0 214.0h0.9v0.9h-0.9zM157.9 210.9h0.9v0.9h-0.9zM155.2 208.9h0.9v0.9h-0.9zM150.7 209.4h0.9v0.9h-0.9zM150.7 208.1h0.9v0.9h-0.9zM150.6 217.2h0.9v0.9h-0.9zM154.4 209.9h0.9v0.9h-0.9zM148.4 211.3h0.9v0.9h-0.9zM155.3 210.8h0.9v0.9h-0.9zM155.0 206.4h0.9v0.9h-0.9zM157.2 207.3h0.9v0.9h-0.9z" fill="rgb(32,32,32)"/>
<path d="M151.4 211.8h0.9v0.9h-0.9zM153.4 206.1h0.9v0.9h-0.9zM143.6 212.1h0.9v0.9h-0.9zM156.9 204.7h0.9v0.9h-0.9zM164.1 203.8h0.9v0.9h-0.9zM157.5 212.9h0.9v0.9h-0.9zM158.4 208.4h0.9v0.9h-0.9zM156.6 210.0h0.9v0.9h-0.9zM157.6 212.5h0.9v0.9h-0.9zM148.7 212.5h0.9v0.9h-0.9zM155.6 207.7h0.9v0.9h-0.9zM150.1 207.8h0.9v0.9h-0.9zM151.9 212.3h0.9v0.9h-0.9zM139.4 220.3h0.9v0.9h-0.9zM150.6 208.8h0.9v0.9h-0.9zM152.3 211.9h0.9v0.9h-0.9zM148.4 217.8h0.9v0.9h-0.9zM151.7 215.0h0.9v0.9h-0.9zM150.0 216.6h0.9v0.9h-0.9zM150.7 214.9h0.9v0.9h-0.9zM158.9 199.6h0.9v0.9h-0.9zM152.3 209.2h0.9v0.9h-0.9zM152.1 211.3h0.9v0.9h-0.9zM149.6 210.4h0.9v0.9h-0.9zM146.1 213.3h0.9v0.9h-0.9z" fill="rgb(48,48,48)"/>
<path d="M150.0 208.2h0.9v0.9h-0.9zM139.0 215.2h0.9v0.9h-0.9zM155.7 204.4h0.9v0.9h-0.9zM149.9 212.6h0.9v0.9h-0.9zM154.3 209.2h0.9v0.9h-0.9zM162.7 204.1h0.9v0.9h-0.9zM153.9 208.9h0.9v0.9h-0.9zM147.4 210.5h0.9v0.9h-0.9zM151.6 210.5h0.9v0.9h-0.9zM148.1 217.9h0.9v0.9h-0.9zM145.6 221.1h0.9v0.9h-0.9zM143.2 213.2h0.9v0.9h-0.9zM157.7 207.1h0.9v0.9h-0.9zM147.4 210.0h0.9v0.9h-0.9zM158.6 203.0h0.9v0.9h-0.9zM153.4 212.4h0.9v0.9h-0.9zM152.3 208.0h0.9v0.9h-0.9zM158.1 212.0h0.9v0.9h-0.9zM162.5 201.5h0.9v0.9h-0.9zM154.6 209.2h0.9v0.9h-0.9zM155.6 207.4h0.9v0.9h-0.9zM143.9 220.2h0.9v0.9h-0.9zM161.3 203.3h0.9v0.9h-0.9zM151.2 205.3h0.9v0.9h-0.9zM142.1 220.4h0.9v0.9h-0.9zM151.4 210.4h0.9v0.9h-0.9zM150.1 209.1h0.9v0.9h-0.9zM147.4 219.4h0.9v0.9h-0.9zM154.7 206.1h0.9v0.9h-0.9z" fill="rgb(64,64,64)"/>
<path d="M151.4 211.5h0.9v0.9h-0.9zM146.7 217.6h0.9v0.9h-0.9zM162.3 207.4h0.9v0.9h-0.9zM140.2 220.9h0.9v0.9h-0.9zM147.6 214.4h0.9v0.9h-0.9zM162.3 208.6h0.9v0.9h-0.9zM160.1 203.9h0.9v0.9h-0.9zM140.7 219.2h0.9v0.9h-0.9zM156.7 206.5h0.9v0.9h-0.9zM154.0 212.2h0.9v0.9h-0.9zM168.3 201.5h0.9v0.9h-0.9zM155.8 214.8h0.9v0.9h-0.9zM149.6 216.9h0.9v0.9h-0.9zM161.5 203.8h0.9v0.9h-0.9zM154.0 209.8h0.9v0.9h-0.9zM157.2 210.5h0.9v0.9h-0.9zM153.3 208.0h0.9v0.9h-0.9zM149.7 206.5h0.9v0.9h-0.9zM140.9 217.0h0.9v0.9h-0.9z" fill="rgb(80,80,80)"/>
<path d="M145.9 214.8h0.9v0.9h-0.9zM155.4 205.4h0.9v0.9h-0.9zM146.6 208.1h0.9v0.9h-0.9zM155.3 205.6h0.9v0.9h-0.9zM150.5 208.6h0.9v0.9h-0.9zM150.9 210.8h0.9v0.9h-0.9zM153.3 208.7h0.9v0.9h-0.9zM159.6 204.9h0.9v0.9h-0.9zM156.4 207.9h0.9v0.9h-0.9zM143.4 216.5h0.9v0.9h-0.9zM146.0 214.5h0.9v0.9h-0.9zM155.3 208.4h0.9v0.9h-0.9zM157.6 209.3h0.9v0.9h-0.9zM151.4 210.5h0.9v0.9h-0.9zM160.7 202.4h0.9v0.9h-0.9zM158.8 201.1h0.9v0.9h-0.9zM149.9 208.1h0.9v0.9h-0.9zM158.7 200.3h0.9v0.9h-0.9zM153.9 210.2h0.9v0.9h-0.9zM154.1 210.3h0.9v0.9h-0.9zM151.1 211.8h0.9v0.9h-0.9zM158.6 206.2h0.9v0.9h-0.9zM165.6 203.6h0.9v0.9h-0.9zM160.1 204.9h0.9v0.9h-0.9zM148.0 215.0h0.9v0.9h-0.9zM145.6 217.6h0.9v0.9h-0.9z" fill="rgb(96,96,96)"/>
<path d="M151.5 213.9h0.9v0.9h-0.9zM161.8 205.2h0.9v0.9h-0.9zM156.8 204.1h0.9v0.9h-0.9zM148.0 216.0h0.9v0.9h-0.9zM154.8 206.8h0.9v0.9h-0.9zM148.0 212.1h0.9v0.9h-0.9zM152.8 208.3h0.9v0.9h-0.9zM154.4 209.7h0.9v0.9h-0.9zM153.8 210.0h0.9v0.9h-0.9zM156.8 203.1h0.9v0.9h-0.9zM160.3 202.4h0.9v0.9h-0.9zM153.3 212.8h0.9v0.9h-0.9zM157.0 201.8h0.9v0.9h-0.9zM148.0 210.9h0.9v0.9h-0.9zM154.0 209.4h0.9v0.9h-0.9zM154.5 202.1h0.9v0.9h-0.9zM145.9 211.8h0.9v0.9h-0.9zM147.4 211.1h0.9v0.9h-0.9z" fill="rgb(112,112,112)"/>
<path d="M152.9 207.9h0.9v0.9h-0.9zM145.2 208.7h0.9v0.9h-0.9zM153.4 208.9h0.9v0.9h-0.9zM149.4 218.7h0.9v0.9h-0.9zM163.5 200.9h0.9v0.9h-0.9zM145.7 210.0h0.9v0.9h-0.9zM152.9 208.6h0.9v0.9h-0.9zM158.0 210.3h0.9v0.9h-0.9zM152.7 211.4h0.9v0.9h-0.9zM160.4 200.1h0.9v0.9h-0.9zM154.3 210.5h0.9v0.9h-0.9zM151.2 205.4h0.9v0.9h-0.9zM158.4 203.5h0.9v0.9h-0.9zM150.5 210.9h0.9v0.9h-0.9zM150.7 209.6h0.9v0.9h-0.9zM155.8 208.0h0.9v0.9h-0.9zM153.9 212.2h0.9v0.9h-0.9zM157.3 207.1h0.9v0.9h-0.9zM156.7 211.0h0.9v0.9h-0.9z" fill="rgb(128,128,128)"/>
<path d="M145.7 213.1h0.9v0.9h-0.9zM149.2 220.6h0.9v0.9h-0.9zM148.0 229.8h0.9v0.9h-0.9zM144.1 207.8h0.9v0.9h-0.9zM145.3 208.7h0.9v0.9h-0.9zM144.7 228.0h0.9v0.9h-0.9zM147.9 215.6h0.9v0.9h-0.9zM145.5 222.9h0.9v0.9h-0.9zM149.7 222.8h0.9v0.9h-0.9z" fill="rgb(48,48,48)"/>
<path d="M149.3 224.3h0.9v0.9h-0.9zM151.4 228.5h0.9v0.9h-0.9zM149.2 234.6h0.9v0.9h-0.9zM146.5 209.4h0.9v0.9h-0.9zM145.3 223.7h0.9v0.9h-0.9zM148.6 221.5h0.9v0.9h-0.9zM145.0 219.6h0.9v0.9h-0.9zM147.6 217.3h0.9v0.9h-0.9zM149.7 211.5h0.9v0.9h-0.9zM147.7 222.4h0.9v0.9h-0.9zM149.2 225.5h0.9v0.9h-0.9zM152.1 235.8h0.9v0.9h-0.9zM146.0 231.4h0.9v0.9h-0.9zM149.0 207.0h0.9v0.9h-0.9zM146.2 220.0h0.9v0.9h-0.9zM150.6 223.6h0.9v0.9h-0.9zM153.1 221.4h0.9v0.9h-0.9z" fill="rgb(64,64,64)"/>
<path d="M149.0 222.8h0.9v0.9h-0.9zM146.3 230.3h0.9v0.9h-0.9zM145.0 219.4h0.9v0.9h-0.9zM147.9 223.0h0.9v0.9h-0.9zM149.3 218.9h0.9v0.9h-0.9zM146.2 217.0h0.9v0.9h-0.9zM144.3 221.9h0.9v0.9h-0.9zM148.1 227.4h0.9v0.9h-0.9z" fill="rgb(80,80,80)"/>
<path d="M149.3 219.9h0.9v0.9h-0.9zM147.6 226.6h0.9v0.9h-0.9zM145.8 218.2h0.9v0.9h-0.9zM147.3 209.4h0.9v0.9h-0.9zM146.8 213.5h0.9v0.9h-0.9zM148.9 223.1h0.9v0.9h-0.9zM144.7 213.4h0.9v0.9h-0.9zM146.0 224.1h0.9v0.9h-0.9zM150.2 235.1h0.9v0.9h-0.9zM144.0 210.3h0.9v0.9h-0.9z" fill="rgb(96,96,96)"/>
<path d="M144.0 229.3h0.9v0.9h-0.9zM147.4 231.9h0.9v0.9h-0.9zM148.3 225.9h0.9v0.9h-0.9zM149.4 215.2h0.9v0.9h-0.9zM144.6 225.5h0.9v0.9h-0.9zM143.5 213.7h0.9v0.9h-0.9zM145.8 214.7h0.9v0.9h-0.9zM142.1 211.4h0.9v0.9h-0.9zM148.1 228.5h0.9v0.9h-0.9zM147.6 223.5h0.9v0.9h-0.9zM148.9 228.5h0.9v0.9h-0.9zM149.8 241.2h0.9v0.9h-0.9zM147.9 218.2h0.9v0.9h-0.9zM145.0 211.4h0.9v0.9h-0.9z" fill="rgb(112,112,112)"/>
<path d="M143.9 234.6h0.9v0.9h-0.9zM145.7 223.7h0.9v0.9h-0.9zM149.0 228.0h0.9v0.9h-0.9zM142.9 232.2h0.9v0.9h-0.9zM147.8 227.1h0.9v0.9h-0.9zM145.9 227.3h0.9v0.9h-0.9zM147.3 238.7h0.9v0.9h-0.9zM149.0 218.2h0.9v0.9h-0.9zM148.8 229.3h0.9v0.9h-0.9zM148.0 205.0h0.9v0.9h-0.9zM147.8 229.0h0.9v0.9h-0.9zM146.2 228.1h0.9v0.9h-0.9zM150.6 228.8h0.9v0.9h-0.9zM148.9 221.2h0.9v0.9h-0.9zM146.6 213.7h0.9v0.9h-0.9zM147.4 219.8h0.9v0.9h-0.9z" fill="rgb(128,128,128)"/>
<path d="M146.2 217.7h0.9v0.9h-0.9zM145.3 223.4h0.9v0.9h-0.9zM146.4 225.8h0.9v0.9h-0.9zM148.3 217.5h0.9v0.9h-0.9zM151.7 230.0h0.9v0.9h-0.9zM146.8 223.6h0.9v0.9h-0.9zM145.3 224.8h0.9v0.9h-0.9zM145.2 219.8h0.9v0.9h-0.9zM146.1 209.3h0.9v0.9h-0.9zM149.2 220.8h0.9v0.9h-0.9zM149.0 211.0h0.9v0.9h-0.9zM149.0 207.9h0.9v0.9h-0.9zM149.2 219.5h0.9v0.9h-0.9zM148.5 227.4h0.9v0.9h-0.9z" fill="rgb(144,144,144)"/>
<path d="M129,243 L129,204 Q129.4,203.1 131,203.1 L142.5,203 Q144.8,203.2 144.9,205 L145.2,215 L145,225 L144.4,233 L143.9,243 Z" fill="#505050" stroke="none" stroke-width="0" filter="url(#soft)"/>
<ellipse cx="137.3" cy="211.5" rx="10.5" ry="10.5" fill="url(#g16)" clip-path="url(#c15)"/>
<ellipse cx="137.6" cy="230" rx="11" ry="13" fill="url(#g17)" clip-path="url(#c15)"/>
<path d="M131.9 202.9h0.9v0.9h-0.9zM130.4 203.1h0.9v0.9h-0.9zM130.6 203.3h0.9v0.9h-0.9zM140.6 203.3h0.9v0.9h-0.9zM142.3 203.2h0.9v0.9h-0.9zM139.0 203.1h0.9v0.9h-0.9z" fill="rgb(48,48,48)"/>
<path d="M131.4 203.4h0.9v0.9h-0.9zM132.3 202.2h0.9v0.9h-0.9zM140.7 203.3h0.9v0.9h-0.9zM134.1 202.2h0.9v0.9h-0.9zM139.5 203.1h0.9v0.9h-0.9z" fill="rgb(64,64,64)"/>
<path d="M134.4 202.4h0.9v0.9h-0.9zM135.1 203.1h0.9v0.9h-0.9zM142.4 202.5h0.9v0.9h-0.9zM140.8 203.4h0.9v0.9h-0.9zM139.3 203.4h0.9v0.9h-0.9zM137.3 202.9h0.9v0.9h-0.9zM141.3 201.7h0.9v0.9h-0.9zM143.5 202.9h0.9v0.9h-0.9z" fill="rgb(80,80,80)"/>
<path d="M141.4 203.2h0.9v0.9h-0.9zM132.6 203.7h0.9v0.9h-0.9zM138.3 203.3h0.9v0.9h-0.9zM133.4 202.1h0.9v0.9h-0.9zM134.6 203.5h0.9v0.9h-0.9z" fill="rgb(96,96,96)"/>
<path d="M132.9 203.6h0.9v0.9h-0.9zM136.9 203.5h0.9v0.9h-0.9zM142.1 202.6h0.9v0.9h-0.9zM130.6 202.8h0.9v0.9h-0.9zM131.4 203.3h0.9v0.9h-0.9zM141.3 202.8h0.9v0.9h-0.9z" fill="rgb(112,112,112)"/>
<path d="M144.8 212.8h0.9v0.9h-0.9z" fill="rgb(32,32,32)"/>
<path d="M144.6 234.8h0.9v0.9h-0.9zM144.3 209.8h0.9v0.9h-0.9zM145.4 218.5h0.9v0.9h-0.9zM144.5 213.3h0.9v0.9h-0.9zM144.8 220.2h0.9v0.9h-0.9zM145.3 207.7h0.9v0.9h-0.9zM145.9 211.2h0.9v0.9h-0.9z" fill="rgb(48,48,48)"/>
<path d="M144.3 228.3h0.9v0.9h-0.9zM145.9 216.5h0.9v0.9h-0.9zM144.9 207.6h0.9v0.9h-0.9zM144.8 213.1h0.9v0.9h-0.9zM145.0 223.1h0.9v0.9h-0.9zM143.8 228.4h0.9v0.9h-0.9zM143.1 238.5h0.9v0.9h-0.9zM146.3 222.8h0.9v0.9h-0.9zM145.9 223.5h0.9v0.9h-0.9zM144.8 210.7h0.9v0.9h-0.9zM144.8 234.4h0.9v0.9h-0.9zM145.2 226.4h0.9v0.9h-0.9z" fill="rgb(64,64,64)"/>
<path d="M144.3 236.1h0.9v0.9h-0.9zM143.8 240.3h0.9v0.9h-0.9zM144.6 213.7h0.9v0.9h-0.9zM144.9 233.5h0.9v0.9h-0.9zM144.1 218.1h0.9v0.9h-0.9zM144.8 212.7h0.9v0.9h-0.9z" fill="rgb(80,80,80)"/>
<path d="M144.9 240.9h0.9v0.9h-0.9zM145.0 207.0h0.9v0.9h-0.9zM144.4 229.5h0.9v0.9h-0.9zM143.9 215.2h0.9v0.9h-0.9zM146.9 211.4h0.9v0.9h-0.9zM144.8 210.6h0.9v0.9h-0.9zM144.8 227.9h0.9v0.9h-0.9z" fill="rgb(96,96,96)"/>
<path d="M144.4 204.3h0.9v0.9h-0.9zM145.9 236.3h0.9v0.9h-0.9zM146.3 229.6h0.9v0.9h-0.9zM145.0 238.5h0.9v0.9h-0.9zM145.8 226.9h0.9v0.9h-0.9zM143.9 228.9h0.9v0.9h-0.9zM145.3 227.0h0.9v0.9h-0.9z" fill="rgb(112,112,112)"/>
<ellipse cx="160.3" cy="205.3" rx="10.2" ry="5.2" transform="rotate(-40 160.3 205.3)" fill="none" stroke="#777" stroke-width="0.7"/>
<rect x="41.10" y="87.40" width="1.80" height="3.60" fill="#cfcfcf" stroke="none" stroke-width="0" />
<rect x="44.40" y="91.00" width="3.20" height="1.60" fill="#cfcfcf" stroke="none" stroke-width="0" />
<rect x="41.10" y="71.85" width="1.80" height="3.60" fill="#cfcfcf" stroke="none" stroke-width="0" />
<rect x="60.07" y="91.00" width="3.20" height="1.60" fill="#cfcfcf" stroke="none" stroke-width="0" />
<rect x="41.10" y="56.30" width="1.80" height="3.60" fill="#cfcfcf" stroke="none" stroke-width="0" />
<rect x="75.75" y="91.00" width="3.20" height="1.60" fill="#cfcfcf" stroke="none" stroke-width="0" />
<rect x="41.10" y="40.75" width="1.80" height="3.60" fill="#cfcfcf" stroke="none" stroke-width="0" />
<rect x="91.43" y="91.00" width="3.20" height="1.60" fill="#cfcfcf" stroke="none" stroke-width="0" />
<rect x="41.10" y="25.20" width="1.80" height="3.60" fill="#cfcfcf" stroke="none" stroke-width="0" />
<rect x="107.10" y="91.00" width="3.20" height="1.60" fill="#cfcfcf" stroke="none" stroke-width="0" />
<rect x="74.65" y="94.00" width="2.40" height="1.40" fill="#dddddd" stroke="none" stroke-width="0" />
<rect x="38.30" y="55.80" width="1.40" height="5.00" fill="#dddddd" stroke="none" stroke-width="0" />
<rect x="125.10" y="87.20" width="1.80" height="3.60" fill="#cfcfcf" stroke="none" stroke-width="0" />
<rect x="128.40" y="90.80" width="3.20" height="1.60" fill="#cfcfcf" stroke="none" stroke-width="0" />
<rect x="125.10" y="71.70" width="1.80" height="3.60" fill="#cfcfcf" stroke="none" stroke-width="0" />
<rect x="144.12" y="90.80" width="3.20" height="1.60" fill="#cfcfcf" stroke="none" stroke-width="0" />
<rect x="125.10" y="56.20" width="1.80" height="3.60" fill="#cfcfcf" stroke="none" stroke-width="0" />
<rect x="159.85" y="90.80" width="3.20" height="1.60" fill="#cfcfcf" stroke="none" stroke-width="0" />
<rect x="125.10" y="40.70" width="1.80" height="3.60" fill="#cfcfcf" stroke="none" stroke-width="0" />
<rect x="175.58" y="90.80" width="3.20" height="1.60" fill="#cfcfcf" stroke="none" stroke-width="0" />
<rect x="125.10" y="25.20" width="1.80" height="3.60" fill="#cfcfcf" stroke="none" stroke-width="0" />
<rect x="191.30" y="90.80" width="3.20" height="1.60" fill="#cfcfcf" stroke="none" stroke-width="0" />
<rect x="158.75" y="93.80" width="2.40" height="1.40" fill="#dddddd" stroke="none" stroke-width="0" />
<rect x="122.30" y="55.70" width="1.40" height="5.00" fill="#dddddd" stroke="none" stroke-width="0" />
<rect x="41.10" y="165.00" width="1.80" height="3.60" fill="#cfcfcf" stroke="none" stroke-width="0" />
<rect x="44.40" y="168.60" width="3.20" height="1.60" fill="#cfcfcf" stroke="none" stroke-width="0" />
<rect x="41.10" y="149.50" width="1.80" height="3.60" fill="#cfcfcf" stroke="none" stroke-width="0" />
<rect x="60.05" y="168.60" width="3.20" height="1.60" fill="#cfcfcf" stroke="none" stroke-width="0" />
<rect x="41.10" y="134.00" width="1.80" height="3.60" fill="#cfcfcf" stroke="none" stroke-width="0" />
<rect x="75.70" y="168.60" width="3.20" height="1.60" fill="#cfcfcf" stroke="none" stroke-width="0" />
<rect x="41.10" y="118.50" width="1.80" height="3.60" fill="#cfcfcf" stroke="none" stroke-width="0" />
<rect x="91.35" y="168.60" width="3.20" height="1.60" fill="#cfcfcf" stroke="none" stroke-width="0" />
<rect x="41.10" y="103.00" width="1.80" height="3.60" fill="#cfcfcf" stroke="none" stroke-width="0" />
<rect x="107.00" y="168.60" width="3.20" height="1.60" fill="#cfcfcf" stroke="none" stroke-width="0" />
<rect x="74.60" y="171.60" width="2.40" height="1.40" fill="#dddddd" stroke="none" stroke-width="0" />
<rect x="38.30" y="133.50" width="1.40" height="5.00" fill="#dddddd" stroke="none" stroke-width="0" />
<rect x="125.40" y="165.00" width="1.80" height="3.60" fill="#cfcfcf" stroke="none" stroke-width="0" />
<rect x="128.70" y="168.60" width="3.20" height="1.60" fill="#cfcfcf" stroke="none" stroke-width="0" />
<rect x="125.40" y="149.50" width="1.80" height="3.60" fill="#cfcfcf" stroke="none" stroke-width="0" />
<rect x="144.35" y="168.60" width="3.20" height="1.60" fill="#cfcfcf" stroke="none" stroke-width="0" />
<rect x="125.40" y="134.00" width="1.80" height="3.60" fill="#cfcfcf" stroke="none" stroke-width="0" />
<rect x="160.00" y="168.60" width="3.20" height="1.60" fill="#cfcfcf" stroke="none" stroke-width="0" />
<rect x="125.40" y="118.50" width="1.80" height="3.60" fill="#cfcfcf" stroke="none" stroke-width="0" />
<rect x="175.65" y="168.60" width="3.20" height="1.60" fill="#cfcfcf" stroke="none" stroke-width="0" />
<rect x="125.40" y="103.00" width="1.80" height="3.60" fill="#cfcfcf" stroke="none" stroke-width="0" />
<rect x="191.30" y="168.60" width="3.20" height="1.60" fill="#cfcfcf" stroke="none" stroke-width="0" />
<rect x="158.90" y="171.60" width="2.40" height="1.40" fill="#dddddd" stroke="none" stroke-width="0" />
<rect x="122.60" y="133.50" width="1.40" height="5.00" fill="#dddddd" stroke="none" stroke-width="0" />
<rect x="41.10" y="240.60" width="1.80" height="3.60" fill="#cfcfcf" stroke="none" stroke-width="0" />
<rect x="44.40" y="244.20" width="3.20" height="1.60" fill="#cfcfcf" stroke="none" stroke-width="0" />
<rect x="41.10" y="225.25" width="1.80" height="3.60" fill="#cfcfcf" stroke="none" stroke-width="0" />
<rect x="60.10" y="244.20" width="3.20" height="1.60" fill="#cfcfcf" stroke="none" stroke-width="0" />
<rect x="41.10" y="209.90" width="1.80" height="3.60" fill="#cfcfcf" stroke="none" stroke-width="0" />
<rect x="75.80" y="244.20" width="3.20" height="1.60" fill="#cfcfcf" stroke="none" stroke-width="0" />
<rect x="41.10" y="194.55" width="1.80" height="3.60" fill="#cfcfcf" stroke="none" stroke-width="0" />
<rect x="91.50" y="244.20" width="3.20" height="1.60" fill="#cfcfcf" stroke="none" stroke-width="0" />
<rect x="41.10" y="179.20" width="1.80" height="3.60" fill="#cfcfcf" stroke="none" stroke-width="0" />
<rect x="107.20" y="244.20" width="3.20" height="1.60" fill="#cfcfcf" stroke="none" stroke-width="0" />
<rect x="74.70" y="247.20" width="2.40" height="1.40" fill="#dddddd" stroke="none" stroke-width="0" />
<rect x="38.30" y="209.40" width="1.40" height="5.00" fill="#dddddd" stroke="none" stroke-width="0" />
<rect x="125.50" y="240.60" width="1.80" height="3.60" fill="#cfcfcf" stroke="none" stroke-width="0" />
<rect x="128.80" y="244.20" width="3.20" height="1.60" fill="#cfcfcf" stroke="none" stroke-width="0" />
<rect x="125.50" y="225.30" width="1.80" height="3.60" fill="#cfcfcf" stroke="none" stroke-width="0" />
<rect x="144.40" y="244.20" width="3.20" height="1.60" fill="#cfcfcf" stroke="none" stroke-width="0" />
<rect x="125.50" y="210.00" width="1.80" height="3.60" fill="#cfcfcf" stroke="none" stroke-width="0" />
<rect x="160.00" y="244.20" width="3.20" height="1.60" fill="#cfcfcf" stroke="none" stroke-width="0" />
<rect x="125.50" y="194.70" width="1.80" height="3.60" fill="#cfcfcf" stroke="none" stroke-width="0" />
<rect x="175.60" y="244.20" width="3.20" height="1.60" fill="#cfcfcf" stroke="none" stroke-width="0" />
<rect x="125.50" y="179.40" width="1.80" height="3.60" fill="#cfcfcf" stroke="none" stroke-width="0" />
<rect x="191.20" y="244.20" width="3.20" height="1.60" fill="#cfcfcf" stroke="none" stroke-width="0" />
<rect x="158.90" y="247.20" width="2.40" height="1.40" fill="#dddddd" stroke="none" stroke-width="0" />
<rect x="122.70" y="209.50" width="1.40" height="5.00" fill="#dddddd" stroke="none" stroke-width="0" />
<text x="390.3" y="16.4" font-size="11.2" font-weight="bold" text-anchor="start" fill="#000" >Thymus</text>
<text x="318.7" y="27.8" font-size="9.6" font-weight="bold" text-anchor="start" fill="#000" >Percentage</text>
<text x="446.8" y="27.8" font-size="9.6" font-weight="bold" text-anchor="start" fill="#000" >Number</text>
<line x1="298.00" y1="37.30" x2="298.00" y2="104.50" stroke="#262626" stroke-width="1.3" />
<line x1="297.30" y1="103.90" x2="391.60" y2="103.90" stroke="#262626" stroke-width="1.3" />
<line x1="296.00" y1="103.90" x2="298.00" y2="103.90" stroke="#333" stroke-width="1" />
<text x="295.6" y="108.0" font-size="8.7" font-weight="bold" text-anchor="end" fill="#000" >0.0</text>
<line x1="296.00" y1="90.58" x2="298.00" y2="90.58" stroke="#333" stroke-width="1" />
<text x="295.6" y="94.68" font-size="8.7" font-weight="bold" text-anchor="end" fill="#000" >0.1</text>
<line x1="296.00" y1="77.26" x2="298.00" y2="77.26" stroke="#333" stroke-width="1" />
<text x="295.6" y="81.36" font-size="8.7" font-weight="bold" text-anchor="end" fill="#000" >0.2</text>
<line x1="296.00" y1="63.94" x2="298.00" y2="63.94" stroke="#333" stroke-width="1" />
<text x="295.6" y="68.04" font-size="8.7" font-weight="bold" text-anchor="end" fill="#000" >0.3</text>
<line x1="296.00" y1="50.62" x2="298.00" y2="50.62" stroke="#333" stroke-width="1" />
<text x="295.6" y="54.720000000000006" font-size="8.7" font-weight="bold" text-anchor="end" fill="#000" >0.4</text>
<line x1="296.00" y1="37.30" x2="298.00" y2="37.30" stroke="#333" stroke-width="1" />
<text x="295.6" y="41.40000000000001" font-size="8.7" font-weight="bold" text-anchor="end" fill="#000" >0.5</text>
<line x1="324.10" y1="81.60" x2="324.10" y2="82.70" stroke="#222" stroke-width="1.1" />
<line x1="316.70" y1="81.60" x2="331.50" y2="81.60" stroke="#222" stroke-width="1.3" />
<rect x="309.80" y="83.30" width="28.60" height="20.60" fill="#000" stroke="#000" stroke-width="1.2" />
<line x1="324.10" y1="103.90" x2="324.10" y2="105.50" stroke="#333" stroke-width="1" />
<line x1="368.50" y1="46.70" x2="368.50" y2="50.30" stroke="#222" stroke-width="1.1" />
<line x1="361.10" y1="46.70" x2="375.90" y2="46.70" stroke="#222" stroke-width="1.3" />
<rect x="354.30" y="50.90" width="28.40" height="53.00" fill="#fff" stroke="#000" stroke-width="1.2" />
<line x1="368.50" y1="103.90" x2="368.50" y2="105.50" stroke="#333" stroke-width="1" />
<line x1="331.50" y1="42.60" x2="365.90" y2="42.60" stroke="#000" stroke-width="1.8" />
<text x="347" y="44.6" font-size="12" font-weight="bold" text-anchor="middle" fill="#000" >*</text>
<text x="317.3" y="115.8" font-size="9.9" font-weight="bold" text-anchor="start" fill="#000" >WT</text>
<text x="361.7" y="115.8" font-size="9.8" font-weight="bold">Itk<tspan font-size="5.8" dy="-2.55" dx="0.6">-/-</tspan></text>
<text x="277.4" y="66.6" font-size="10.3" font-weight="bold" text-anchor="middle" transform="rotate(-90 277.4 66.6)">% <tspan font-weight="normal" font-family="Liberation Serif, serif" font-size="1.02em" stroke-width="0.25">&#947;&#948;</tspan></text>
<line x1="416.60" y1="40.18" x2="416.60" y2="105.90" stroke="#262626" stroke-width="1.3" />
<line x1="415.90" y1="105.30" x2="516.20" y2="105.30" stroke="#262626" stroke-width="1.3" />
<line x1="414.60" y1="105.30" x2="416.60" y2="105.30" stroke="#333" stroke-width="1" />
<text x="414.20000000000005" y="109.99999999999999" font-size="8.7" font-weight="bold" text-anchor="end" fill="#000" >0</text>
<line x1="414.60" y1="89.02" x2="416.60" y2="89.02" stroke="#333" stroke-width="1" />
<text x="414.20000000000005" y="93.71999999999998" font-size="8.7" font-weight="bold" text-anchor="end" fill="#000" >1</text>
<line x1="414.60" y1="72.74" x2="416.60" y2="72.74" stroke="#333" stroke-width="1" />
<text x="414.20000000000005" y="77.43999999999998" font-size="8.7" font-weight="bold" text-anchor="end" fill="#000" >2</text>
<line x1="414.60" y1="56.46" x2="416.60" y2="56.46" stroke="#333" stroke-width="1" />
<text x="414.20000000000005" y="61.16" font-size="8.7" font-weight="bold" text-anchor="end" fill="#000" >3</text>
<line x1="414.60" y1="40.18" x2="416.60" y2="40.18" stroke="#333" stroke-width="1" />
<text x="414.20000000000005" y="44.879999999999995" font-size="8.7" font-weight="bold" text-anchor="end" fill="#000" >4</text>
<line x1="445.00" y1="79.70" x2="445.00" y2="82.10" stroke="#222" stroke-width="1.1" />
<line x1="437.60" y1="79.70" x2="452.40" y2="79.70" stroke="#222" stroke-width="1.3" />
<rect x="431.20" y="82.70" width="27.60" height="22.60" fill="#fff" stroke="#000" stroke-width="1.2" />
<line x1="445.00" y1="105.30" x2="445.00" y2="106.90" stroke="#333" stroke-width="1" />
<line x1="489.40" y1="51.20" x2="489.40" y2="54.40" stroke="#222" stroke-width="1.1" />
<line x1="482.00" y1="51.20" x2="496.80" y2="51.20" stroke="#222" stroke-width="1.3" />
<rect x="475.90" y="55.00" width="27.00" height="50.30" fill="#000" stroke="#000" stroke-width="1.2" />
<line x1="489.40" y1="105.30" x2="489.40" y2="106.90" stroke="#333" stroke-width="1" />
<line x1="451.40" y1="46.60" x2="487.70" y2="46.60" stroke="#000" stroke-width="1.8" />
<text x="466.9" y="48.1" font-size="12" font-weight="bold" text-anchor="middle" fill="#000" >*</text>
<text x="440.6" y="115.8" font-size="9.9" font-weight="bold" text-anchor="start" fill="#000" >WT</text>
<text x="481.8" y="115.8" font-size="9.8" font-weight="bold">Itk<tspan font-size="5.8" dy="-2.55" dx="0.6">-/-</tspan></text>
<text x="404.0" y="68.2" font-size="10.0" font-weight="bold" text-anchor="middle" transform="rotate(-90 404.0 68.2)">x10<tspan font-size="6.6" dy="-3.4">5</tspan></text>
<text x="390.2" y="137" font-size="11.4" font-weight="bold" text-anchor="start" fill="#000" >Spleen</text>
<line x1="296.20" y1="145.50" x2="296.20" y2="212.90" stroke="#262626" stroke-width="1.3" />
<line x1="295.50" y1="212.30" x2="396.00" y2="212.30" stroke="#262626" stroke-width="1.3" />
<line x1="294.20" y1="212.30" x2="296.20" y2="212.30" stroke="#333" stroke-width="1" />
<text x="293.8" y="217.4" font-size="8.7" font-weight="bold" text-anchor="end" fill="#000" >0.0</text>
<line x1="294.20" y1="195.60" x2="296.20" y2="195.60" stroke="#333" stroke-width="1" />
<text x="293.8" y="200.70000000000002" font-size="8.7" font-weight="bold" text-anchor="end" fill="#000" >0.5</text>
<line x1="294.20" y1="178.90" x2="296.20" y2="178.90" stroke="#333" stroke-width="1" />
<text x="293.8" y="184.0" font-size="8.7" font-weight="bold" text-anchor="end" fill="#000" >1.0</text>
<line x1="294.20" y1="162.20" x2="296.20" y2="162.20" stroke="#333" stroke-width="1" />
<text x="293.8" y="167.3" font-size="8.7" font-weight="bold" text-anchor="end" fill="#000" >1.5</text>
<line x1="294.20" y1="145.50" x2="296.20" y2="145.50" stroke="#333" stroke-width="1" />
<text x="293.8" y="150.6" font-size="8.7" font-weight="bold" text-anchor="end" fill="#000" >2.0</text>
<line x1="324.25" y1="190.40" x2="324.25" y2="193.10" stroke="#222" stroke-width="1.1" />
<line x1="316.85" y1="190.40" x2="331.65" y2="190.40" stroke="#222" stroke-width="1.3" />
<rect x="310.20" y="193.70" width="28.10" height="18.60" fill="#000" stroke="#000" stroke-width="1.2" />
<line x1="324.25" y1="212.30" x2="324.25" y2="213.90" stroke="#333" stroke-width="1" />
<line x1="368.50" y1="159.40" x2="368.50" y2="163.00" stroke="#222" stroke-width="1.1" />
<line x1="361.10" y1="159.40" x2="375.90" y2="159.40" stroke="#222" stroke-width="1.3" />
<rect x="354.30" y="163.60" width="28.40" height="48.70" fill="#fff" stroke="#000" stroke-width="1.2" />
<line x1="368.50" y1="212.30" x2="368.50" y2="213.90" stroke="#333" stroke-width="1" />
<line x1="331.60" y1="156.00" x2="365.80" y2="156.00" stroke="#000" stroke-width="1.8" />
<text x="346.5" y="158.2" font-size="12" font-weight="bold" text-anchor="middle" fill="#000" >*</text>
<text x="317.3" y="226.7" font-size="9.9" font-weight="bold" text-anchor="start" fill="#000" >WT</text>
<text x="361.7" y="226.7" font-size="9.8" font-weight="bold">Itk<tspan font-size="5.8" dy="-2.55" dx="0.6">-/-</tspan></text>
<text x="276.8" y="175.6" font-size="10.3" font-weight="bold" text-anchor="middle" transform="rotate(-90 276.8 175.6)">% <tspan font-weight="normal" font-family="Liberation Serif, serif" font-size="1.02em" stroke-width="0.25">&#947;&#948;</tspan></text>
<line x1="416.40" y1="147.10" x2="416.40" y2="213.70" stroke="#262626" stroke-width="1.3" />
<line x1="415.70" y1="213.10" x2="518.50" y2="213.10" stroke="#262626" stroke-width="1.3" />
<line x1="414.40" y1="213.10" x2="416.40" y2="213.10" stroke="#333" stroke-width="1" />
<text x="414.0" y="217.5" font-size="8.7" font-weight="bold" text-anchor="end" fill="#000" >0</text>
<line x1="414.40" y1="191.10" x2="416.40" y2="191.10" stroke="#333" stroke-width="1" />
<text x="414.0" y="195.5" font-size="8.7" font-weight="bold" text-anchor="end" fill="#000" >5</text>
<line x1="414.40" y1="169.10" x2="416.40" y2="169.10" stroke="#333" stroke-width="1" />
<text x="414.9" y="173.5" font-size="8.7" font-weight="bold" text-anchor="end" fill="#000" letter-spacing="-0.9">10</text>
<line x1="414.40" y1="147.10" x2="416.40" y2="147.10" stroke="#333" stroke-width="1" />
<text x="414.9" y="151.5" font-size="8.7" font-weight="bold" text-anchor="end" fill="#000" letter-spacing="-0.9">15</text>
<rect x="430.60" y="201.10" width="28.50" height="12.00" fill="#000" stroke="#000" stroke-width="1.2" />
<line x1="444.85" y1="213.10" x2="444.85" y2="214.70" stroke="#333" stroke-width="1" />
<line x1="489.05" y1="152.20" x2="489.05" y2="164.50" stroke="#222" stroke-width="1.1" />
<line x1="481.65" y1="152.20" x2="496.45" y2="152.20" stroke="#222" stroke-width="1.3" />
<rect x="474.90" y="165.10" width="28.30" height="48.00" fill="#fff" stroke="#000" stroke-width="1.2" />
<line x1="489.05" y1="213.10" x2="489.05" y2="214.70" stroke="#333" stroke-width="1" />
<line x1="456.70" y1="148.20" x2="490.50" y2="148.20" stroke="#000" stroke-width="1.8" />
<text x="471.8" y="149.9" font-size="12" font-weight="bold" text-anchor="middle" fill="#000" >*</text>
<text x="439" y="226.6" font-size="9.9" font-weight="bold" text-anchor="start" fill="#000" >WT</text>
<text x="484.5" y="226.6" font-size="9.8" font-weight="bold">Itk<tspan font-size="5.8" dy="-2.55" dx="0.6">-/-</tspan></text>
<text x="404.0" y="176.0" font-size="10.0" font-weight="bold" text-anchor="middle" transform="rotate(-90 404.0 176.0)">x10<tspan font-size="6.6" dy="-3.4">5</tspan></text>
<text x="67.5" y="309.6" font-size="11.2" font-weight="bold" text-anchor="start" fill="#000" >WT</text>
<text x="149.4" y="310.1" font-size="11.0" font-weight="bold">Itk<tspan font-size="6.6" dy="-5.17" dx="5.20">-/-</tspan></text>
<rect x="44.40" y="312.70" width="62.80" height="62.60" fill="#fff" stroke="#bcbcbc" stroke-width="1.1" />
<line x1="69.40" y1="312.70" x2="69.40" y2="375.30" stroke="#a2a2a2" stroke-width="0.9" />
<line x1="44.40" y1="347.40" x2="107.20" y2="347.40" stroke="#a2a2a2" stroke-width="0.9" />
<rect x="128.50" y="312.70" width="62.70" height="62.70" fill="#fff" stroke="#bcbcbc" stroke-width="1.1" />
<line x1="153.50" y1="312.70" x2="153.50" y2="375.40" stroke="#a2a2a2" stroke-width="0.9" />
<line x1="128.50" y1="347.00" x2="191.20" y2="347.00" stroke="#a2a2a2" stroke-width="0.9" />
<rect x="44.30" y="390.80" width="62.80" height="62.30" fill="#fff" stroke="#bcbcbc" stroke-width="1.1" />
<line x1="69.60" y1="390.80" x2="69.60" y2="453.10" stroke="#a2a2a2" stroke-width="0.9" />
<line x1="44.30" y1="425.60" x2="107.10" y2="425.60" stroke="#a2a2a2" stroke-width="0.9" />
<rect x="128.30" y="391.00" width="63.10" height="62.10" fill="#fff" stroke="#bcbcbc" stroke-width="1.1" />
<line x1="152.90" y1="391.00" x2="152.90" y2="453.10" stroke="#a2a2a2" stroke-width="0.9" />
<line x1="128.30" y1="429.00" x2="191.40" y2="429.00" stroke="#a2a2a2" stroke-width="0.9" />
<rect x="44.30" y="467.00" width="62.80" height="62.80" fill="#fff" stroke="#bcbcbc" stroke-width="1.1" />
<line x1="66.70" y1="467.00" x2="66.70" y2="529.80" stroke="#a2a2a2" stroke-width="0.9" />
<line x1="44.30" y1="499.20" x2="107.10" y2="499.20" stroke="#a2a2a2" stroke-width="0.9" />
<rect x="128.30" y="467.00" width="63.10" height="62.80" fill="#fff" stroke="#bcbcbc" stroke-width="1.1" />
<line x1="152.40" y1="467.00" x2="152.40" y2="529.80" stroke="#a2a2a2" stroke-width="0.9" />
<line x1="128.30" y1="498.10" x2="191.40" y2="498.10" stroke="#a2a2a2" stroke-width="0.9" />
<ellipse cx="57" cy="362" rx="10" ry="10" fill="url(#g18)"/>
<path d="M58.0 365.9h0.9v0.9h-0.9zM63.7 366.5h0.9v0.9h-0.9zM55.3 365.4h0.9v0.9h-0.9zM50.8 362.2h0.9v0.9h-0.9zM59.4 357.0h0.9v0.9h-0.9zM61.9 362.6h0.9v0.9h-0.9zM52.9 361.7h0.9v0.9h-0.9zM58.5 350.9h0.9v0.9h-0.9zM51.6 362.4h0.9v0.9h-0.9zM45.7 362.6h0.9v0.9h-0.9zM64.1 367.9h0.9v0.9h-0.9zM58.3 357.3h0.9v0.9h-0.9zM53.7 362.4h0.9v0.9h-0.9z" fill="rgb(96,96,96)"/>
<path d="M60.6 368.8h0.9v0.9h-0.9zM49.5 361.6h0.9v0.9h-0.9zM57.9 373.5h0.9v0.9h-0.9zM50.7 360.0h0.9v0.9h-0.9zM54.4 363.8h0.9v0.9h-0.9zM65.3 366.3h0.9v0.9h-0.9zM58.2 360.3h0.9v0.9h-0.9zM50.1 354.6h0.9v0.9h-0.9zM57.8 362.5h0.9v0.9h-0.9zM54.2 359.7h0.9v0.9h-0.9zM52.7 365.1h0.9v0.9h-0.9zM55.1 358.1h0.9v0.9h-0.9zM62.1 357.7h0.9v0.9h-0.9zM47.6 362.2h0.9v0.9h-0.9zM62.2 373.7h0.9v0.9h-0.9zM52.5 352.8h0.9v0.9h-0.9zM55.8 365.9h0.9v0.9h-0.9zM55.9 364.3h0.9v0.9h-0.9z" fill="rgb(112,112,112)"/>
<path d="M54.0 352.1h0.9v0.9h-0.9zM51.2 371.5h0.9v0.9h-0.9zM52.3 367.5h0.9v0.9h-0.9zM52.0 368.5h0.9v0.9h-0.9zM52.0 356.3h0.9v0.9h-0.9zM51.7 360.7h0.9v0.9h-0.9zM58.9 364.7h0.9v0.9h-0.9zM49.2 346.8h0.9v0.9h-0.9zM63.9 370.8h0.9v0.9h-0.9zM52.1 347.3h0.9v0.9h-0.9zM50.1 368.5h0.9v0.9h-0.9zM64.4 361.4h0.9v0.9h-0.9zM53.2 353.2h0.9v0.9h-0.9zM54.9 346.7h0.9v0.9h-0.9zM52.5 357.2h0.9v0.9h-0.9zM46.5 363.9h0.9v0.9h-0.9z" fill="rgb(128,128,128)"/>
<path d="M55.5 358.9h0.9v0.9h-0.9zM68.5 367.1h0.9v0.9h-0.9zM54.7 358.8h0.9v0.9h-0.9zM60.0 361.9h0.9v0.9h-0.9zM52.5 361.9h0.9v0.9h-0.9zM51.8 365.5h0.9v0.9h-0.9zM51.6 370.7h0.9v0.9h-0.9zM54.1 352.5h0.9v0.9h-0.9zM59.2 366.9h0.9v0.9h-0.9zM48.6 354.1h0.9v0.9h-0.9zM57.0 357.1h0.9v0.9h-0.9zM54.6 366.2h0.9v0.9h-0.9zM66.6 369.9h0.9v0.9h-0.9zM52.0 358.5h0.9v0.9h-0.9zM56.8 359.5h0.9v0.9h-0.9zM53.5 357.7h0.9v0.9h-0.9zM45.4 365.5h0.9v0.9h-0.9zM55.6 369.7h0.9v0.9h-0.9z" fill="rgb(144,144,144)"/>
<path d="M59.0 356.1h0.9v0.9h-0.9zM63.5 352.4h0.9v0.9h-0.9zM57.8 366.0h0.9v0.9h-0.9zM61.0 352.6h0.9v0.9h-0.9zM52.4 362.8h0.9v0.9h-0.9zM52.2 356.2h0.9v0.9h-0.9zM55.8 370.9h0.9v0.9h-0.9zM56.8 360.4h0.9v0.9h-0.9zM55.8 359.7h0.9v0.9h-0.9zM47.0 366.3h0.9v0.9h-0.9zM49.0 367.0h0.9v0.9h-0.9zM69.3 358.0h0.9v0.9h-0.9zM51.6 355.5h0.9v0.9h-0.9zM52.3 369.3h0.9v0.9h-0.9zM61.5 370.9h0.9v0.9h-0.9zM52.1 364.8h0.9v0.9h-0.9zM48.0 371.3h0.9v0.9h-0.9zM54.5 359.6h0.9v0.9h-0.9zM57.8 369.4h0.9v0.9h-0.9zM61.8 361.9h0.9v0.9h-0.9zM53.9 370.5h0.9v0.9h-0.9zM60.0 364.6h0.9v0.9h-0.9zM58.6 364.9h0.9v0.9h-0.9z" fill="rgb(160,160,160)"/>
<path d="M55.3 356.0h0.9v0.9h-0.9zM53.7 359.4h0.9v0.9h-0.9zM51.3 353.0h0.9v0.9h-0.9zM57.9 353.6h0.9v0.9h-0.9zM56.6 359.7h0.9v0.9h-0.9zM54.5 369.4h0.9v0.9h-0.9zM55.2 372.5h0.9v0.9h-0.9zM60.8 363.4h0.9v0.9h-0.9zM54.8 362.2h0.9v0.9h-0.9zM63.6 354.8h0.9v0.9h-0.9zM60.1 356.9h0.9v0.9h-0.9zM66.0 365.5h0.9v0.9h-0.9zM57.6 370.6h0.9v0.9h-0.9z" fill="rgb(176,176,176)"/>
<path d="M54.5 361.4h0.9v0.9h-0.9zM47.4 352.2h0.9v0.9h-0.9zM55.8 361.4h0.9v0.9h-0.9zM57.2 365.2h0.9v0.9h-0.9z" fill="rgb(192,192,192)"/>
<path d="M75.4 352.2h0.9v0.9h-0.9z" fill="rgb(144,144,144)"/>
<path d="M78.6 353.3h0.9v0.9h-0.9zM70.5 357.7h0.9v0.9h-0.9zM72.3 349.3h0.9v0.9h-0.9zM65.1 357.4h0.9v0.9h-0.9zM66.2 353.3h0.9v0.9h-0.9z" fill="rgb(160,160,160)"/>
<path d="M70.5 355.7h0.9v0.9h-0.9zM74.7 352.7h0.9v0.9h-0.9zM74.5 361.1h0.9v0.9h-0.9zM69.2 360.2h0.9v0.9h-0.9z" fill="rgb(176,176,176)"/>
<path d="M69.5 351.5h0.9v0.9h-0.9zM72.7 361.0h0.9v0.9h-0.9zM73.6 348.9h0.9v0.9h-0.9zM71.3 357.9h0.9v0.9h-0.9zM72.3 351.7h0.9v0.9h-0.9zM73.7 358.9h0.9v0.9h-0.9zM65.3 351.3h0.9v0.9h-0.9z" fill="rgb(192,192,192)"/>
<path d="M72.4 361.5h0.9v0.9h-0.9zM70.7 355.1h0.9v0.9h-0.9z" fill="rgb(208,208,208)"/>
<path d="M59.8 335.6h0.9v0.9h-0.9zM54.3 326.7h0.9v0.9h-0.9z" fill="rgb(176,176,176)"/>
<path d="M53.6 343.3h0.9v0.9h-0.9zM55.5 335.8h0.9v0.9h-0.9zM56.1 331.2h0.9v0.9h-0.9z" fill="rgb(192,192,192)"/>
<path d="M55.9 346.6h0.9v0.9h-0.9zM58.5 338.6h0.9v0.9h-0.9zM65.5 335.5h0.9v0.9h-0.9z" fill="rgb(208,208,208)"/>
<path d="M76.2 330.3h0.9v0.9h-0.9zM82.5 330.2h0.9v0.9h-0.9zM81.6 337.9h0.9v0.9h-0.9zM71.8 326.8h0.9v0.9h-0.9z" fill="rgb(176,176,176)"/>
<path d="M75.6 330.7h0.9v0.9h-0.9zM73.2 337.4h0.9v0.9h-0.9z" fill="rgb(192,192,192)"/>
<path d="M74.7 326.6h0.9v0.9h-0.9zM80.0 332.1h0.9v0.9h-0.9zM77.4 330.7h0.9v0.9h-0.9z" fill="rgb(208,208,208)"/>
<path d="M78.1 333.1h0.9v0.9h-0.9z" fill="rgb(224,224,224)"/>
<ellipse cx="146" cy="359" rx="20" ry="12" fill="url(#g19)"/>
<path d="M136.2 366.1h0.9v0.9h-0.9zM153.3 364.4h0.9v0.9h-0.9zM133.6 363.3h0.9v0.9h-0.9zM139.7 355.8h0.9v0.9h-0.9zM145.7 361.0h0.9v0.9h-0.9zM140.7 356.2h0.9v0.9h-0.9zM142.5 360.2h0.9v0.9h-0.9zM141.0 354.1h0.9v0.9h-0.9zM149.1 361.9h0.9v0.9h-0.9zM141.4 362.6h0.9v0.9h-0.9zM139.8 357.5h0.9v0.9h-0.9zM144.3 353.8h0.9v0.9h-0.9zM143.6 350.9h0.9v0.9h-0.9zM146.1 360.0h0.9v0.9h-0.9zM137.7 358.3h0.9v0.9h-0.9zM150.6 368.0h0.9v0.9h-0.9zM142.3 359.8h0.9v0.9h-0.9zM142.4 356.1h0.9v0.9h-0.9zM147.0 363.5h0.9v0.9h-0.9zM129.7 359.8h0.9v0.9h-0.9zM132.2 357.2h0.9v0.9h-0.9zM151.5 362.6h0.9v0.9h-0.9zM135.2 361.9h0.9v0.9h-0.9zM147.8 359.9h0.9v0.9h-0.9zM133.2 368.3h0.9v0.9h-0.9zM145.0 360.7h0.9v0.9h-0.9zM151.5 365.9h0.9v0.9h-0.9zM148.5 364.4h0.9v0.9h-0.9zM137.8 357.6h0.9v0.9h-0.9zM131.6 353.7h0.9v0.9h-0.9z" fill="rgb(64,64,64)"/>
<path d="M135.7 354.4h0.9v0.9h-0.9zM138.4 363.8h0.9v0.9h-0.9zM139.0 359.1h0.9v0.9h-0.9zM143.1 361.5h0.9v0.9h-0.9zM149.6 364.1h0.9v0.9h-0.9zM138.8 362.2h0.9v0.9h-0.9zM144.2 365.5h0.9v0.9h-0.9zM146.1 354.3h0.9v0.9h-0.9zM140.3 350.4h0.9v0.9h-0.9zM147.1 362.1h0.9v0.9h-0.9zM135.5 354.5h0.9v0.9h-0.9zM143.3 351.1h0.9v0.9h-0.9zM143.8 364.9h0.9v0.9h-0.9zM140.8 351.2h0.9v0.9h-0.9zM144.7 359.0h0.9v0.9h-0.9zM142.0 363.1h0.9v0.9h-0.9zM147.4 359.4h0.9v0.9h-0.9zM138.4 360.6h0.9v0.9h-0.9zM147.0 361.4h0.9v0.9h-0.9zM142.4 367.9h0.9v0.9h-0.9zM138.0 364.5h0.9v0.9h-0.9zM147.5 352.8h0.9v0.9h-0.9zM138.0 361.2h0.9v0.9h-0.9zM132.4 352.9h0.9v0.9h-0.9zM144.7 354.1h0.9v0.9h-0.9zM139.0 369.2h0.9v0.9h-0.9zM151.7 354.9h0.9v0.9h-0.9zM146.0 364.5h0.9v0.9h-0.9zM149.2 360.3h0.9v0.9h-0.9zM153.8 354.3h0.9v0.9h-0.9zM132.3 350.4h0.9v0.9h-0.9zM146.0 351.9h0.9v0.9h-0.9zM141.9 354.8h0.9v0.9h-0.9zM141.7 372.5h0.9v0.9h-0.9zM136.9 365.7h0.9v0.9h-0.9zM145.7 361.2h0.9v0.9h-0.9zM134.8 363.1h0.9v0.9h-0.9z" fill="rgb(80,80,80)"/>
<path d="M133.5 369.1h0.9v0.9h-0.9zM149.9 362.1h0.9v0.9h-0.9zM136.1 360.8h0.9v0.9h-0.9zM143.1 363.2h0.9v0.9h-0.9zM135.7 363.7h0.9v0.9h-0.9zM149.3 359.8h0.9v0.9h-0.9zM144.7 356.1h0.9v0.9h-0.9zM133.3 355.6h0.9v0.9h-0.9zM135.9 358.4h0.9v0.9h-0.9zM140.3 357.6h0.9v0.9h-0.9zM149.3 361.4h0.9v0.9h-0.9zM133.7 359.5h0.9v0.9h-0.9zM141.3 359.1h0.9v0.9h-0.9zM134.5 358.2h0.9v0.9h-0.9zM136.3 360.4h0.9v0.9h-0.9zM139.6 359.8h0.9v0.9h-0.9zM135.0 356.6h0.9v0.9h-0.9zM135.2 356.3h0.9v0.9h-0.9zM148.0 360.4h0.9v0.9h-0.9zM137.4 362.3h0.9v0.9h-0.9zM149.5 361.8h0.9v0.9h-0.9zM152.4 371.6h0.9v0.9h-0.9zM157.8 361.7h0.9v0.9h-0.9zM140.2 358.0h0.9v0.9h-0.9zM152.6 361.1h0.9v0.9h-0.9zM147.4 371.3h0.9v0.9h-0.9zM147.6 358.6h0.9v0.9h-0.9zM142.6 349.6h0.9v0.9h-0.9zM147.4 357.5h0.9v0.9h-0.9zM131.8 354.2h0.9v0.9h-0.9zM150.0 370.4h0.9v0.9h-0.9zM146.3 363.9h0.9v0.9h-0.9zM144.5 363.5h0.9v0.9h-0.9zM149.3 357.7h0.9v0.9h-0.9zM138.7 366.6h0.9v0.9h-0.9zM140.2 369.5h0.9v0.9h-0.9zM137.4 363.9h0.9v0.9h-0.9zM131.9 363.4h0.9v0.9h-0.9zM140.9 358.7h0.9v0.9h-0.9zM146.1 354.8h0.9v0.9h-0.9zM133.1 357.8h0.9v0.9h-0.9zM133.5 355.4h0.9v0.9h-0.9z" fill="rgb(96,96,96)"/>
<path d="M149.6 355.9h0.9v0.9h-0.9zM135.0 356.8h0.9v0.9h-0.9zM134.3 364.9h0.9v0.9h-0.9zM149.3 369.1h0.9v0.9h-0.9zM141.7 355.7h0.9v0.9h-0.9zM142.3 357.3h0.9v0.9h-0.9zM142.5 357.2h0.9v0.9h-0.9zM144.8 365.9h0.9v0.9h-0.9zM152.2 346.0h0.9v0.9h-0.9zM153.8 353.5h0.9v0.9h-0.9zM144.1 361.6h0.9v0.9h-0.9zM147.3 368.9h0.9v0.9h-0.9zM138.0 361.0h0.9v0.9h-0.9zM140.3 365.3h0.9v0.9h-0.9zM147.8 354.2h0.9v0.9h-0.9zM143.3 360.5h0.9v0.9h-0.9zM146.6 370.9h0.9v0.9h-0.9zM146.6 355.9h0.9v0.9h-0.9zM145.8 366.4h0.9v0.9h-0.9zM141.8 356.8h0.9v0.9h-0.9zM144.0 358.3h0.9v0.9h-0.9zM140.0 358.2h0.9v0.9h-0.9zM154.7 353.8h0.9v0.9h-0.9zM136.5 364.7h0.9v0.9h-0.9zM142.6 348.8h0.9v0.9h-0.9zM141.9 352.0h0.9v0.9h-0.9zM149.6 367.8h0.9v0.9h-0.9zM137.7 355.2h0.9v0.9h-0.9zM150.4 358.9h0.9v0.9h-0.9zM133.3 363.2h0.9v0.9h-0.9zM144.2 362.4h0.9v0.9h-0.9zM145.5 370.9h0.9v0.9h-0.9zM157.1 358.6h0.9v0.9h-0.9zM143.1 360.1h0.9v0.9h-0.9zM135.5 359.5h0.9v0.9h-0.9zM138.7 360.5h0.9v0.9h-0.9zM138.2 354.0h0.9v0.9h-0.9zM135.1 361.4h0.9v0.9h-0.9zM135.0 351.7h0.9v0.9h-0.9zM144.6 361.0h0.9v0.9h-0.9zM148.3 350.9h0.9v0.9h-0.9z" fill="rgb(112,112,112)"/>
<path d="M147.3 363.3h0.9v0.9h-0.9zM145.2 359.9h0.9v0.9h-0.9zM141.3 358.6h0.9v0.9h-0.9zM145.1 360.4h0.9v0.9h-0.9zM142.5 351.3h0.9v0.9h-0.9zM145.8 358.8h0.9v0.9h-0.9zM140.6 360.6h0.9v0.9h-0.9zM138.7 352.2h0.9v0.9h-0.9zM146.1 349.3h0.9v0.9h-0.9zM145.9 349.7h0.9v0.9h-0.9zM145.8 366.3h0.9v0.9h-0.9zM136.6 361.8h0.9v0.9h-0.9zM143.1 372.5h0.9v0.9h-0.9zM142.1 360.8h0.9v0.9h-0.9zM136.5 362.1h0.9v0.9h-0.9zM146.0 356.7h0.9v0.9h-0.9zM149.6 364.9h0.9v0.9h-0.9zM137.1 354.1h0.9v0.9h-0.9zM137.3 358.6h0.9v0.9h-0.9zM139.5 358.0h0.9v0.9h-0.9zM147.1 365.7h0.9v0.9h-0.9zM147.4 363.0h0.9v0.9h-0.9zM148.5 353.9h0.9v0.9h-0.9zM150.7 365.3h0.9v0.9h-0.9zM141.3 360.9h0.9v0.9h-0.9zM136.9 359.7h0.9v0.9h-0.9zM151.6 363.7h0.9v0.9h-0.9zM148.8 369.3h0.9v0.9h-0.9zM152.8 357.4h0.9v0.9h-0.9zM137.3 364.8h0.9v0.9h-0.9zM139.6 361.9h0.9v0.9h-0.9zM149.9 357.0h0.9v0.9h-0.9zM139.0 358.3h0.9v0.9h-0.9zM154.6 362.2h0.9v0.9h-0.9zM142.9 362.3h0.9v0.9h-0.9zM157.4 356.5h0.9v0.9h-0.9zM139.9 361.4h0.9v0.9h-0.9zM139.6 362.5h0.9v0.9h-0.9zM147.1 357.6h0.9v0.9h-0.9zM140.5 355.9h0.9v0.9h-0.9zM137.7 361.7h0.9v0.9h-0.9z" fill="rgb(128,128,128)"/>
<path d="M141.0 360.2h0.9v0.9h-0.9zM141.5 362.1h0.9v0.9h-0.9zM143.5 366.2h0.9v0.9h-0.9zM149.8 362.4h0.9v0.9h-0.9zM135.7 359.9h0.9v0.9h-0.9zM141.1 369.3h0.9v0.9h-0.9zM142.7 364.8h0.9v0.9h-0.9zM137.1 353.2h0.9v0.9h-0.9zM134.1 362.9h0.9v0.9h-0.9zM141.5 361.6h0.9v0.9h-0.9zM137.7 370.3h0.9v0.9h-0.9zM137.2 359.8h0.9v0.9h-0.9zM139.1 364.3h0.9v0.9h-0.9zM140.6 357.7h0.9v0.9h-0.9zM139.6 361.9h0.9v0.9h-0.9zM146.4 373.7h0.9v0.9h-0.9zM139.4 351.0h0.9v0.9h-0.9zM141.5 363.5h0.9v0.9h-0.9zM130.7 363.8h0.9v0.9h-0.9zM145.5 360.9h0.9v0.9h-0.9zM142.6 358.3h0.9v0.9h-0.9zM147.3 372.9h0.9v0.9h-0.9zM134.0 357.6h0.9v0.9h-0.9zM139.1 358.1h0.9v0.9h-0.9zM140.4 360.3h0.9v0.9h-0.9zM140.3 365.0h0.9v0.9h-0.9zM139.5 359.9h0.9v0.9h-0.9zM152.8 360.6h0.9v0.9h-0.9zM147.0 363.4h0.9v0.9h-0.9zM136.6 353.7h0.9v0.9h-0.9zM145.9 360.2h0.9v0.9h-0.9zM140.0 366.9h0.9v0.9h-0.9zM147.6 363.0h0.9v0.9h-0.9zM151.2 361.1h0.9v0.9h-0.9z" fill="rgb(144,144,144)"/>
<path d="M148.5 365.9h0.9v0.9h-0.9zM131.7 362.1h0.9v0.9h-0.9zM143.7 359.7h0.9v0.9h-0.9zM135.5 367.4h0.9v0.9h-0.9zM144.7 364.0h0.9v0.9h-0.9zM136.0 356.6h0.9v0.9h-0.9zM141.9 351.0h0.9v0.9h-0.9zM139.0 354.4h0.9v0.9h-0.9zM154.1 359.2h0.9v0.9h-0.9zM149.1 359.9h0.9v0.9h-0.9zM134.0 365.0h0.9v0.9h-0.9zM147.0 356.5h0.9v0.9h-0.9zM139.5 362.2h0.9v0.9h-0.9zM149.7 360.4h0.9v0.9h-0.9zM141.6 361.1h0.9v0.9h-0.9zM134.8 354.1h0.9v0.9h-0.9zM138.8 362.2h0.9v0.9h-0.9zM132.1 358.1h0.9v0.9h-0.9zM146.9 347.3h0.9v0.9h-0.9zM144.3 365.9h0.9v0.9h-0.9zM160.1 354.1h0.9v0.9h-0.9zM141.5 364.3h0.9v0.9h-0.9zM143.8 363.8h0.9v0.9h-0.9zM133.3 360.7h0.9v0.9h-0.9zM141.9 354.9h0.9v0.9h-0.9zM142.6 360.1h0.9v0.9h-0.9zM139.4 370.6h0.9v0.9h-0.9zM142.4 362.5h0.9v0.9h-0.9zM149.0 363.5h0.9v0.9h-0.9zM144.2 355.4h0.9v0.9h-0.9zM143.9 364.0h0.9v0.9h-0.9zM134.5 363.8h0.9v0.9h-0.9zM135.6 356.6h0.9v0.9h-0.9zM145.5 363.0h0.9v0.9h-0.9zM141.0 365.2h0.9v0.9h-0.9zM148.9 359.9h0.9v0.9h-0.9zM135.6 354.8h0.9v0.9h-0.9zM134.1 359.2h0.9v0.9h-0.9zM143.3 357.5h0.9v0.9h-0.9z" fill="rgb(160,160,160)"/>
<path d="M146.8 356.1h0.9v0.9h-0.9zM141.7 363.5h0.9v0.9h-0.9zM148.2 359.7h0.9v0.9h-0.9zM141.5 362.6h0.9v0.9h-0.9zM133.0 364.8h0.9v0.9h-0.9z" fill="rgb(176,176,176)"/>
<path d="M157.8 348.6h0.9v0.9h-0.9zM164.3 354.9h0.9v0.9h-0.9zM167.8 360.4h0.9v0.9h-0.9zM161.9 361.2h0.9v0.9h-0.9zM157.0 351.9h0.9v0.9h-0.9zM157.2 358.9h0.9v0.9h-0.9zM166.9 355.2h0.9v0.9h-0.9zM166.8 359.9h0.9v0.9h-0.9zM161.9 352.0h0.9v0.9h-0.9z" fill="rgb(48,48,48)"/>
<path d="M164.2 353.4h0.9v0.9h-0.9zM158.8 355.6h0.9v0.9h-0.9zM160.0 352.8h0.9v0.9h-0.9zM160.2 358.4h0.9v0.9h-0.9zM156.8 348.3h0.9v0.9h-0.9zM157.9 357.3h0.9v0.9h-0.9zM159.7 364.8h0.9v0.9h-0.9zM164.0 353.5h0.9v0.9h-0.9zM163.1 355.3h0.9v0.9h-0.9zM160.8 348.9h0.9v0.9h-0.9zM157.6 356.3h0.9v0.9h-0.9zM159.4 355.5h0.9v0.9h-0.9zM157.7 350.1h0.9v0.9h-0.9zM161.6 347.8h0.9v0.9h-0.9zM166.8 353.1h0.9v0.9h-0.9zM160.5 362.9h0.9v0.9h-0.9zM163.9 358.1h0.9v0.9h-0.9zM159.6 348.5h0.9v0.9h-0.9zM166.3 364.6h0.9v0.9h-0.9zM161.0 363.5h0.9v0.9h-0.9zM158.5 352.2h0.9v0.9h-0.9zM161.3 350.9h0.9v0.9h-0.9zM154.7 358.3h0.9v0.9h-0.9zM162.5 353.6h0.9v0.9h-0.9zM155.7 354.2h0.9v0.9h-0.9zM159.4 363.9h0.9v0.9h-0.9zM164.0 359.0h0.9v0.9h-0.9zM152.0 358.1h0.9v0.9h-0.9z" fill="rgb(64,64,64)"/>
<path d="M160.2 361.0h0.9v0.9h-0.9zM154.7 362.6h0.9v0.9h-0.9zM157.1 351.4h0.9v0.9h-0.9zM169.4 355.1h0.9v0.9h-0.9zM154.5 358.5h0.9v0.9h-0.9zM164.5 341.3h0.9v0.9h-0.9zM168.5 348.9h0.9v0.9h-0.9zM163.4 354.9h0.9v0.9h-0.9zM164.2 359.5h0.9v0.9h-0.9zM156.3 348.5h0.9v0.9h-0.9zM158.0 353.3h0.9v0.9h-0.9zM162.8 354.1h0.9v0.9h-0.9zM161.3 361.9h0.9v0.9h-0.9zM168.3 360.4h0.9v0.9h-0.9zM159.8 365.6h0.9v0.9h-0.9zM157.5 358.5h0.9v0.9h-0.9zM159.5 362.7h0.9v0.9h-0.9zM158.0 366.1h0.9v0.9h-0.9z" fill="rgb(80,80,80)"/>
<path d="M157.8 355.4h0.9v0.9h-0.9zM168.0 346.8h0.9v0.9h-0.9zM158.1 360.0h0.9v0.9h-0.9zM159.9 364.6h0.9v0.9h-0.9zM160.1 360.5h0.9v0.9h-0.9zM162.2 347.4h0.9v0.9h-0.9zM159.9 352.6h0.9v0.9h-0.9zM164.4 357.9h0.9v0.9h-0.9zM159.6 362.6h0.9v0.9h-0.9zM165.8 353.8h0.9v0.9h-0.9zM153.6 358.0h0.9v0.9h-0.9zM161.1 363.2h0.9v0.9h-0.9zM164.5 365.8h0.9v0.9h-0.9zM162.6 353.1h0.9v0.9h-0.9zM159.6 356.9h0.9v0.9h-0.9zM157.3 345.6h0.9v0.9h-0.9zM159.8 353.9h0.9v0.9h-0.9zM161.9 354.4h0.9v0.9h-0.9z" fill="rgb(96,96,96)"/>
<path d="M164.1 360.7h0.9v0.9h-0.9zM160.3 366.5h0.9v0.9h-0.9zM162.7 353.6h0.9v0.9h-0.9zM164.4 351.4h0.9v0.9h-0.9zM161.3 364.0h0.9v0.9h-0.9zM159.8 348.3h0.9v0.9h-0.9zM163.1 360.8h0.9v0.9h-0.9zM160.4 362.3h0.9v0.9h-0.9zM162.3 358.3h0.9v0.9h-0.9zM161.8 356.6h0.9v0.9h-0.9zM158.9 363.4h0.9v0.9h-0.9zM160.1 354.5h0.9v0.9h-0.9zM162.6 347.6h0.9v0.9h-0.9zM156.1 357.2h0.9v0.9h-0.9zM162.9 355.0h0.9v0.9h-0.9zM160.2 361.6h0.9v0.9h-0.9zM155.1 365.5h0.9v0.9h-0.9zM159.5 357.8h0.9v0.9h-0.9zM158.0 358.2h0.9v0.9h-0.9zM164.3 349.5h0.9v0.9h-0.9zM157.5 358.2h0.9v0.9h-0.9zM160.9 358.8h0.9v0.9h-0.9zM159.5 347.8h0.9v0.9h-0.9zM162.2 360.1h0.9v0.9h-0.9z" fill="rgb(112,112,112)"/>
<path d="M159.0 362.8h0.9v0.9h-0.9zM157.2 347.3h0.9v0.9h-0.9zM162.2 360.1h0.9v0.9h-0.9zM160.6 353.4h0.9v0.9h-0.9zM161.7 352.4h0.9v0.9h-0.9zM158.7 349.3h0.9v0.9h-0.9zM166.9 353.7h0.9v0.9h-0.9zM160.4 353.8h0.9v0.9h-0.9zM156.9 351.4h0.9v0.9h-0.9zM163.0 347.4h0.9v0.9h-0.9zM163.0 364.8h0.9v0.9h-0.9zM165.6 352.4h0.9v0.9h-0.9zM158.1 352.1h0.9v0.9h-0.9zM153.9 350.6h0.9v0.9h-0.9zM163.8 357.4h0.9v0.9h-0.9zM160.8 346.5h0.9v0.9h-0.9zM161.3 365.3h0.9v0.9h-0.9zM160.5 342.5h0.9v0.9h-0.9zM161.4 355.7h0.9v0.9h-0.9zM164.6 353.6h0.9v0.9h-0.9zM164.1 354.8h0.9v0.9h-0.9zM167.5 349.2h0.9v0.9h-0.9z" fill="rgb(128,128,128)"/>
<path d="M163.7 356.4h0.9v0.9h-0.9zM167.1 351.7h0.9v0.9h-0.9zM163.6 357.1h0.9v0.9h-0.9zM157.3 358.2h0.9v0.9h-0.9zM153.8 350.5h0.9v0.9h-0.9zM160.8 347.0h0.9v0.9h-0.9zM164.8 355.9h0.9v0.9h-0.9zM155.2 362.0h0.9v0.9h-0.9zM155.1 361.3h0.9v0.9h-0.9zM159.7 357.6h0.9v0.9h-0.9zM164.5 361.4h0.9v0.9h-0.9zM156.7 357.9h0.9v0.9h-0.9zM159.3 354.4h0.9v0.9h-0.9zM164.1 356.5h0.9v0.9h-0.9zM163.0 362.8h0.9v0.9h-0.9zM163.7 348.2h0.9v0.9h-0.9zM163.3 350.7h0.9v0.9h-0.9zM165.9 361.9h0.9v0.9h-0.9zM162.5 358.8h0.9v0.9h-0.9zM159.6 359.8h0.9v0.9h-0.9zM164.6 362.0h0.9v0.9h-0.9z" fill="rgb(144,144,144)"/>
<path d="M160.1 354.0h0.9v0.9h-0.9zM167.5 352.1h0.9v0.9h-0.9zM158.6 363.1h0.9v0.9h-0.9zM163.7 362.0h0.9v0.9h-0.9zM160.6 356.7h0.9v0.9h-0.9zM162.4 354.0h0.9v0.9h-0.9zM154.6 348.1h0.9v0.9h-0.9zM167.4 359.3h0.9v0.9h-0.9zM167.6 357.9h0.9v0.9h-0.9zM159.7 369.3h0.9v0.9h-0.9zM158.8 362.5h0.9v0.9h-0.9zM165.0 364.7h0.9v0.9h-0.9zM157.1 358.8h0.9v0.9h-0.9zM164.1 355.5h0.9v0.9h-0.9zM158.8 347.7h0.9v0.9h-0.9zM159.3 350.1h0.9v0.9h-0.9zM157.6 356.7h0.9v0.9h-0.9zM163.5 351.5h0.9v0.9h-0.9z" fill="rgb(160,160,160)"/>
<path d="M147.9 329.5h0.9v0.9h-0.9zM138.1 325.4h0.9v0.9h-0.9z" fill="rgb(160,160,160)"/>
<path d="M133.9 335.2h0.9v0.9h-0.9zM160.7 342.8h0.9v0.9h-0.9zM140.0 337.8h0.9v0.9h-0.9zM152.7 331.1h0.9v0.9h-0.9zM137.6 336.8h0.9v0.9h-0.9zM137.1 339.0h0.9v0.9h-0.9z" fill="rgb(176,176,176)"/>
<path d="M131.5 333.1h0.9v0.9h-0.9zM142.7 342.4h0.9v0.9h-0.9z" fill="rgb(192,192,192)"/>
<path d="M157.3 335.8h0.9v0.9h-0.9zM143.2 320.0h0.9v0.9h-0.9z" fill="rgb(208,208,208)"/>
<path d="M159.5 329.7h0.9v0.9h-0.9z" fill="rgb(176,176,176)"/>
<path d="M157.9 329.6h0.9v0.9h-0.9zM162.5 329.4h0.9v0.9h-0.9zM163.7 320.7h0.9v0.9h-0.9z" fill="rgb(192,192,192)"/>
<path d="M161.9 329.6h0.9v0.9h-0.9zM158.6 331.0h0.9v0.9h-0.9zM167.4 334.0h0.9v0.9h-0.9zM163.9 332.6h0.9v0.9h-0.9z" fill="rgb(208,208,208)"/>
<path d="M160.7 332.1h0.9v0.9h-0.9z" fill="rgb(224,224,224)"/>
<ellipse cx="56" cy="437" rx="11" ry="11" fill="url(#g20)"/>
<path d="M61.3 436.5h0.9v0.9h-0.9zM50.8 437.4h0.9v0.9h-0.9z" fill="rgb(64,64,64)"/>
<path d="M58.0 432.8h0.9v0.9h-0.9zM59.5 428.4h0.9v0.9h-0.9zM55.4 441.0h0.9v0.9h-0.9zM60.2 444.9h0.9v0.9h-0.9zM50.9 442.2h0.9v0.9h-0.9zM59.3 445.0h0.9v0.9h-0.9zM48.2 429.4h0.9v0.9h-0.9zM58.1 443.6h0.9v0.9h-0.9zM69.0 432.5h0.9v0.9h-0.9zM45.5 435.1h0.9v0.9h-0.9zM55.8 438.6h0.9v0.9h-0.9zM52.3 430.7h0.9v0.9h-0.9zM60.8 429.5h0.9v0.9h-0.9zM56.5 440.9h0.9v0.9h-0.9zM50.0 438.4h0.9v0.9h-0.9zM56.3 429.8h0.9v0.9h-0.9zM52.3 443.8h0.9v0.9h-0.9zM45.8 447.6h0.9v0.9h-0.9zM51.5 438.8h0.9v0.9h-0.9zM64.0 433.1h0.9v0.9h-0.9zM58.9 442.8h0.9v0.9h-0.9zM57.8 440.1h0.9v0.9h-0.9zM54.5 434.8h0.9v0.9h-0.9z" fill="rgb(80,80,80)"/>
<path d="M55.1 432.4h0.9v0.9h-0.9zM52.5 435.3h0.9v0.9h-0.9zM59.1 435.2h0.9v0.9h-0.9zM57.8 427.3h0.9v0.9h-0.9zM55.7 437.8h0.9v0.9h-0.9zM54.1 439.1h0.9v0.9h-0.9zM49.3 440.7h0.9v0.9h-0.9zM59.5 434.8h0.9v0.9h-0.9zM54.1 435.4h0.9v0.9h-0.9zM60.0 442.4h0.9v0.9h-0.9zM57.7 433.9h0.9v0.9h-0.9zM49.1 439.8h0.9v0.9h-0.9zM52.4 437.9h0.9v0.9h-0.9zM60.1 433.0h0.9v0.9h-0.9zM58.7 436.6h0.9v0.9h-0.9zM62.8 434.5h0.9v0.9h-0.9zM52.9 436.7h0.9v0.9h-0.9zM66.1 430.5h0.9v0.9h-0.9zM58.1 433.5h0.9v0.9h-0.9zM53.4 437.9h0.9v0.9h-0.9zM54.7 431.0h0.9v0.9h-0.9zM61.7 435.8h0.9v0.9h-0.9zM51.0 433.9h0.9v0.9h-0.9zM51.4 438.6h0.9v0.9h-0.9zM65.2 449.4h0.9v0.9h-0.9zM62.3 430.8h0.9v0.9h-0.9zM65.3 424.7h0.9v0.9h-0.9zM59.7 430.0h0.9v0.9h-0.9zM52.3 436.4h0.9v0.9h-0.9zM55.9 433.5h0.9v0.9h-0.9zM51.3 435.5h0.9v0.9h-0.9z" fill="rgb(96,96,96)"/>
<path d="M48.4 429.5h0.9v0.9h-0.9zM54.6 439.1h0.9v0.9h-0.9zM54.6 448.3h0.9v0.9h-0.9zM60.9 437.4h0.9v0.9h-0.9zM57.3 428.3h0.9v0.9h-0.9zM50.2 434.6h0.9v0.9h-0.9zM53.6 443.9h0.9v0.9h-0.9zM57.5 446.2h0.9v0.9h-0.9zM48.6 434.2h0.9v0.9h-0.9zM56.2 438.0h0.9v0.9h-0.9zM50.3 445.5h0.9v0.9h-0.9zM49.6 439.9h0.9v0.9h-0.9zM54.6 443.0h0.9v0.9h-0.9zM59.3 426.5h0.9v0.9h-0.9zM55.8 444.3h0.9v0.9h-0.9zM47.6 439.9h0.9v0.9h-0.9zM57.3 434.4h0.9v0.9h-0.9zM58.2 438.4h0.9v0.9h-0.9z" fill="rgb(112,112,112)"/>
<path d="M59.1 440.8h0.9v0.9h-0.9zM56.3 438.6h0.9v0.9h-0.9zM51.0 446.7h0.9v0.9h-0.9zM52.9 433.8h0.9v0.9h-0.9zM60.3 436.6h0.9v0.9h-0.9zM60.2 446.2h0.9v0.9h-0.9zM56.5 436.3h0.9v0.9h-0.9zM52.1 431.8h0.9v0.9h-0.9zM69.7 428.1h0.9v0.9h-0.9zM52.9 445.8h0.9v0.9h-0.9zM53.9 438.0h0.9v0.9h-0.9zM50.7 437.0h0.9v0.9h-0.9zM58.6 432.6h0.9v0.9h-0.9zM51.9 432.9h0.9v0.9h-0.9zM60.4 439.6h0.9v0.9h-0.9zM63.4 434.8h0.9v0.9h-0.9zM48.0 448.9h0.9v0.9h-0.9zM48.6 443.6h0.9v0.9h-0.9zM55.2 436.4h0.9v0.9h-0.9zM48.2 440.4h0.9v0.9h-0.9zM52.9 437.2h0.9v0.9h-0.9zM46.7 443.4h0.9v0.9h-0.9zM54.4 438.9h0.9v0.9h-0.9zM52.6 436.2h0.9v0.9h-0.9zM54.7 437.7h0.9v0.9h-0.9zM61.1 427.0h0.9v0.9h-0.9zM61.6 437.3h0.9v0.9h-0.9zM51.6 434.8h0.9v0.9h-0.9zM48.7 442.7h0.9v0.9h-0.9zM57.8 425.3h0.9v0.9h-0.9zM66.2 436.9h0.9v0.9h-0.9z" fill="rgb(128,128,128)"/>
<path d="M50.9 435.2h0.9v0.9h-0.9zM53.9 431.6h0.9v0.9h-0.9zM47.8 432.8h0.9v0.9h-0.9zM56.8 428.7h0.9v0.9h-0.9zM59.4 441.0h0.9v0.9h-0.9zM51.5 435.8h0.9v0.9h-0.9zM55.4 442.0h0.9v0.9h-0.9zM55.8 438.3h0.9v0.9h-0.9zM56.1 438.3h0.9v0.9h-0.9zM58.6 437.0h0.9v0.9h-0.9zM48.3 442.0h0.9v0.9h-0.9zM57.9 443.7h0.9v0.9h-0.9zM55.9 437.7h0.9v0.9h-0.9zM51.3 440.7h0.9v0.9h-0.9zM57.1 438.0h0.9v0.9h-0.9zM54.1 435.3h0.9v0.9h-0.9zM60.7 435.5h0.9v0.9h-0.9zM60.1 437.5h0.9v0.9h-0.9zM58.2 441.1h0.9v0.9h-0.9zM55.6 442.9h0.9v0.9h-0.9zM64.6 440.0h0.9v0.9h-0.9z" fill="rgb(144,144,144)"/>
<path d="M67.1 433.0h0.9v0.9h-0.9zM58.6 430.1h0.9v0.9h-0.9zM61.4 450.8h0.9v0.9h-0.9zM55.1 432.0h0.9v0.9h-0.9zM50.9 437.7h0.9v0.9h-0.9zM50.8 435.5h0.9v0.9h-0.9zM57.5 430.2h0.9v0.9h-0.9zM51.6 445.5h0.9v0.9h-0.9zM55.5 445.1h0.9v0.9h-0.9zM62.0 444.0h0.9v0.9h-0.9zM48.8 435.4h0.9v0.9h-0.9zM51.5 443.7h0.9v0.9h-0.9zM57.0 436.3h0.9v0.9h-0.9zM57.1 436.1h0.9v0.9h-0.9zM53.1 436.6h0.9v0.9h-0.9zM54.7 438.4h0.9v0.9h-0.9zM53.1 441.7h0.9v0.9h-0.9zM53.7 431.3h0.9v0.9h-0.9zM53.7 431.8h0.9v0.9h-0.9zM65.6 442.2h0.9v0.9h-0.9zM52.9 435.3h0.9v0.9h-0.9zM53.5 438.7h0.9v0.9h-0.9zM58.3 438.4h0.9v0.9h-0.9zM53.1 428.6h0.9v0.9h-0.9zM53.4 438.0h0.9v0.9h-0.9zM63.0 433.2h0.9v0.9h-0.9zM67.1 438.1h0.9v0.9h-0.9zM61.6 441.9h0.9v0.9h-0.9zM65.1 441.2h0.9v0.9h-0.9zM47.5 432.3h0.9v0.9h-0.9zM47.9 430.1h0.9v0.9h-0.9zM55.1 432.2h0.9v0.9h-0.9zM62.6 436.1h0.9v0.9h-0.9zM46.2 424.5h0.9v0.9h-0.9zM55.6 436.9h0.9v0.9h-0.9z" fill="rgb(160,160,160)"/>
<path d="M58.5 436.3h0.9v0.9h-0.9zM55.8 429.1h0.9v0.9h-0.9zM66.2 436.1h0.9v0.9h-0.9zM50.5 445.0h0.9v0.9h-0.9z" fill="rgb(176,176,176)"/>
<path d="M56.1 405.6h0.9v0.9h-0.9zM58.5 407.1h0.9v0.9h-0.9zM52.9 411.7h0.9v0.9h-0.9zM54.6 412.4h0.9v0.9h-0.9zM58.9 416.2h0.9v0.9h-0.9zM56.3 418.7h0.9v0.9h-0.9zM49.4 408.7h0.9v0.9h-0.9zM53.4 422.4h0.9v0.9h-0.9zM53.4 413.2h0.9v0.9h-0.9zM57.3 406.3h0.9v0.9h-0.9zM50.6 416.8h0.9v0.9h-0.9z" fill="rgb(128,128,128)"/>
<path d="M55.3 415.1h0.9v0.9h-0.9zM55.0 421.5h0.9v0.9h-0.9zM60.3 412.7h0.9v0.9h-0.9zM57.7 412.4h0.9v0.9h-0.9zM54.9 415.4h0.9v0.9h-0.9zM49.7 408.1h0.9v0.9h-0.9zM58.3 412.4h0.9v0.9h-0.9zM53.7 427.3h0.9v0.9h-0.9zM58.5 415.9h0.9v0.9h-0.9zM58.7 401.9h0.9v0.9h-0.9zM56.7 412.3h0.9v0.9h-0.9zM47.6 409.7h0.9v0.9h-0.9z" fill="rgb(144,144,144)"/>
<path d="M51.3 403.7h0.9v0.9h-0.9zM54.8 411.4h0.9v0.9h-0.9zM52.3 405.0h0.9v0.9h-0.9zM53.0 413.5h0.9v0.9h-0.9zM53.6 400.0h0.9v0.9h-0.9zM54.8 415.6h0.9v0.9h-0.9zM54.3 405.7h0.9v0.9h-0.9zM47.1 415.1h0.9v0.9h-0.9zM55.7 397.5h0.9v0.9h-0.9zM54.5 403.6h0.9v0.9h-0.9zM56.4 403.1h0.9v0.9h-0.9zM56.3 395.9h0.9v0.9h-0.9z" fill="rgb(160,160,160)"/>
<path d="M62.2 416.6h0.9v0.9h-0.9zM51.2 418.2h0.9v0.9h-0.9zM53.1 411.8h0.9v0.9h-0.9zM49.3 410.3h0.9v0.9h-0.9zM59.1 407.6h0.9v0.9h-0.9zM49.4 399.1h0.9v0.9h-0.9zM53.5 402.4h0.9v0.9h-0.9z" fill="rgb(176,176,176)"/>
<path d="M62.4 413.3h0.9v0.9h-0.9zM58.0 419.6h0.9v0.9h-0.9zM49.0 419.3h0.9v0.9h-0.9zM65.3 407.9h0.9v0.9h-0.9zM57.5 411.8h0.9v0.9h-0.9zM53.9 416.7h0.9v0.9h-0.9zM59.6 420.5h0.9v0.9h-0.9zM50.3 411.3h0.9v0.9h-0.9zM61.0 409.8h0.9v0.9h-0.9zM51.2 417.9h0.9v0.9h-0.9zM63.4 400.1h0.9v0.9h-0.9zM64.8 415.1h0.9v0.9h-0.9zM61.2 409.8h0.9v0.9h-0.9z" fill="rgb(192,192,192)"/>
<path d="M73.2 433.5h0.9v0.9h-0.9z" fill="rgb(128,128,128)"/>
<path d="M78.3 436.2h0.9v0.9h-0.9zM76.6 440.9h0.9v0.9h-0.9zM77.3 433.7h0.9v0.9h-0.9z" fill="rgb(144,144,144)"/>
<path d="M74.1 438.9h0.9v0.9h-0.9zM82.5 435.8h0.9v0.9h-0.9zM79.4 438.2h0.9v0.9h-0.9zM74.6 432.7h0.9v0.9h-0.9zM69.0 442.3h0.9v0.9h-0.9zM78.9 434.6h0.9v0.9h-0.9zM75.2 439.8h0.9v0.9h-0.9zM80.2 437.6h0.9v0.9h-0.9z" fill="rgb(160,160,160)"/>
<path d="M74.3 442.2h0.9v0.9h-0.9zM81.4 431.2h0.9v0.9h-0.9zM71.1 438.3h0.9v0.9h-0.9z" fill="rgb(176,176,176)"/>
<path d="M75.7 431.6h0.9v0.9h-0.9zM77.5 434.9h0.9v0.9h-0.9zM80.2 430.4h0.9v0.9h-0.9zM79.6 440.4h0.9v0.9h-0.9zM74.7 441.8h0.9v0.9h-0.9zM70.1 447.0h0.9v0.9h-0.9zM80.4 432.8h0.9v0.9h-0.9zM72.1 435.0h0.9v0.9h-0.9zM75.0 428.2h0.9v0.9h-0.9zM74.9 441.9h0.9v0.9h-0.9zM81.1 428.7h0.9v0.9h-0.9z" fill="rgb(192,192,192)"/>
<path d="M80.3 427.6h0.9v0.9h-0.9zM73.3 437.6h0.9v0.9h-0.9zM74.7 433.1h0.9v0.9h-0.9zM80.1 436.9h0.9v0.9h-0.9z" fill="rgb(208,208,208)"/>
<path d="M78.4 414.9h0.9v0.9h-0.9zM67.7 403.0h0.9v0.9h-0.9z" fill="rgb(176,176,176)"/>
<path d="M76.0 405.3h0.9v0.9h-0.9zM74.3 408.4h0.9v0.9h-0.9zM79.9 414.2h0.9v0.9h-0.9zM70.9 415.0h0.9v0.9h-0.9z" fill="rgb(192,192,192)"/>
<path d="M77.4 405.5h0.9v0.9h-0.9z" fill="rgb(224,224,224)"/>
<ellipse cx="140" cy="438" rx="14" ry="14" fill="url(#g21)"/>
<path d="M142.4 420.9h0.9v0.9h-0.9zM139.3 407.2h0.9v0.9h-0.9z" fill="rgb(80,80,80)"/>
<path d="M134.6 420.9h0.9v0.9h-0.9zM139.9 415.8h0.9v0.9h-0.9zM138.1 423.5h0.9v0.9h-0.9zM140.2 409.3h0.9v0.9h-0.9zM142.0 418.8h0.9v0.9h-0.9zM134.1 415.9h0.9v0.9h-0.9zM141.1 417.7h0.9v0.9h-0.9zM130.0 417.3h0.9v0.9h-0.9zM148.3 418.3h0.9v0.9h-0.9zM144.7 420.3h0.9v0.9h-0.9zM137.1 411.1h0.9v0.9h-0.9zM138.7 417.5h0.9v0.9h-0.9z" fill="rgb(96,96,96)"/>
<path d="M146.4 415.9h0.9v0.9h-0.9zM142.7 416.6h0.9v0.9h-0.9zM142.5 420.3h0.9v0.9h-0.9zM132.7 413.0h0.9v0.9h-0.9zM133.6 414.9h0.9v0.9h-0.9zM140.6 430.9h0.9v0.9h-0.9zM136.5 419.6h0.9v0.9h-0.9zM131.5 418.1h0.9v0.9h-0.9zM144.2 424.1h0.9v0.9h-0.9z" fill="rgb(112,112,112)"/>
<path d="M141.2 422.8h0.9v0.9h-0.9zM137.2 426.6h0.9v0.9h-0.9zM144.1 414.7h0.9v0.9h-0.9zM136.5 417.6h0.9v0.9h-0.9zM144.0 423.3h0.9v0.9h-0.9zM135.0 420.9h0.9v0.9h-0.9zM135.4 418.8h0.9v0.9h-0.9zM146.3 421.4h0.9v0.9h-0.9zM129.4 427.8h0.9v0.9h-0.9zM138.9 424.4h0.9v0.9h-0.9zM140.3 429.9h0.9v0.9h-0.9zM141.5 411.8h0.9v0.9h-0.9zM134.7 412.7h0.9v0.9h-0.9zM136.8 419.4h0.9v0.9h-0.9zM130.8 426.5h0.9v0.9h-0.9z" fill="rgb(128,128,128)"/>
<path d="M136.5 423.2h0.9v0.9h-0.9zM137.7 420.9h0.9v0.9h-0.9zM143.0 422.1h0.9v0.9h-0.9zM145.8 419.5h0.9v0.9h-0.9zM137.8 422.2h0.9v0.9h-0.9zM135.9 423.9h0.9v0.9h-0.9zM145.0 415.7h0.9v0.9h-0.9zM134.3 415.3h0.9v0.9h-0.9zM131.9 413.6h0.9v0.9h-0.9zM149.3 408.8h0.9v0.9h-0.9zM141.2 421.5h0.9v0.9h-0.9zM149.0 421.8h0.9v0.9h-0.9zM137.6 419.9h0.9v0.9h-0.9zM135.2 418.2h0.9v0.9h-0.9z" fill="rgb(144,144,144)"/>
<path d="M137.6 424.9h0.9v0.9h-0.9zM137.7 427.2h0.9v0.9h-0.9zM138.1 421.7h0.9v0.9h-0.9zM132.4 421.8h0.9v0.9h-0.9zM143.6 425.2h0.9v0.9h-0.9zM140.0 424.1h0.9v0.9h-0.9zM139.8 425.1h0.9v0.9h-0.9zM133.2 420.7h0.9v0.9h-0.9zM136.3 423.0h0.9v0.9h-0.9zM147.8 418.9h0.9v0.9h-0.9zM135.2 422.0h0.9v0.9h-0.9z" fill="rgb(160,160,160)"/>
<path d="M142.8 422.7h0.9v0.9h-0.9zM146.9 427.6h0.9v0.9h-0.9zM139.7 419.6h0.9v0.9h-0.9zM140.9 409.4h0.9v0.9h-0.9zM137.9 420.1h0.9v0.9h-0.9zM136.5 415.0h0.9v0.9h-0.9zM138.4 418.9h0.9v0.9h-0.9zM143.2 425.3h0.9v0.9h-0.9zM131.0 424.4h0.9v0.9h-0.9z" fill="rgb(176,176,176)"/>
<path d="M141.5 417.6h0.9v0.9h-0.9zM136.9 411.5h0.9v0.9h-0.9zM139.4 416.6h0.9v0.9h-0.9zM143.3 418.7h0.9v0.9h-0.9zM135.4 418.2h0.9v0.9h-0.9zM129.9 423.0h0.9v0.9h-0.9zM144.8 417.1h0.9v0.9h-0.9zM135.5 417.9h0.9v0.9h-0.9zM130.8 415.5h0.9v0.9h-0.9zM147.3 418.0h0.9v0.9h-0.9zM138.9 413.1h0.9v0.9h-0.9zM137.2 425.0h0.9v0.9h-0.9zM135.5 420.7h0.9v0.9h-0.9z" fill="rgb(192,192,192)"/>
<path d="M137.3 444.6h0.9v0.9h-0.9zM135.6 444.5h0.9v0.9h-0.9zM134.2 435.2h0.9v0.9h-0.9zM150.1 446.9h0.9v0.9h-0.9zM144.0 435.6h0.9v0.9h-0.9zM133.5 443.7h0.9v0.9h-0.9zM131.7 444.7h0.9v0.9h-0.9zM138.6 443.7h0.9v0.9h-0.9zM133.1 448.9h0.9v0.9h-0.9zM130.7 434.4h0.9v0.9h-0.9zM133.5 440.5h0.9v0.9h-0.9zM142.3 435.9h0.9v0.9h-0.9zM138.6 439.7h0.9v0.9h-0.9zM134.7 436.7h0.9v0.9h-0.9zM133.5 446.5h0.9v0.9h-0.9z" fill="rgb(64,64,64)"/>
<path d="M136.6 443.6h0.9v0.9h-0.9zM143.5 436.2h0.9v0.9h-0.9zM139.2 439.2h0.9v0.9h-0.9zM143.3 438.4h0.9v0.9h-0.9zM141.5 436.5h0.9v0.9h-0.9zM139.0 442.0h0.9v0.9h-0.9zM142.9 446.0h0.9v0.9h-0.9zM139.4 438.6h0.9v0.9h-0.9zM147.3 439.6h0.9v0.9h-0.9zM142.9 444.7h0.9v0.9h-0.9zM141.3 442.1h0.9v0.9h-0.9zM138.1 435.1h0.9v0.9h-0.9zM136.1 432.5h0.9v0.9h-0.9zM149.0 445.5h0.9v0.9h-0.9zM138.9 442.6h0.9v0.9h-0.9zM143.7 449.9h0.9v0.9h-0.9zM142.6 447.0h0.9v0.9h-0.9zM143.0 438.1h0.9v0.9h-0.9zM143.2 449.6h0.9v0.9h-0.9zM137.4 439.4h0.9v0.9h-0.9zM149.2 439.9h0.9v0.9h-0.9zM136.2 440.4h0.9v0.9h-0.9zM138.2 441.5h0.9v0.9h-0.9zM140.5 441.4h0.9v0.9h-0.9zM140.1 438.9h0.9v0.9h-0.9zM140.9 442.6h0.9v0.9h-0.9zM137.1 440.2h0.9v0.9h-0.9zM140.7 443.5h0.9v0.9h-0.9zM136.2 440.7h0.9v0.9h-0.9zM134.6 445.0h0.9v0.9h-0.9zM134.6 445.8h0.9v0.9h-0.9zM137.1 441.0h0.9v0.9h-0.9z" fill="rgb(80,80,80)"/>
<path d="M140.0 447.8h0.9v0.9h-0.9zM139.2 445.9h0.9v0.9h-0.9zM131.0 438.3h0.9v0.9h-0.9zM142.9 444.4h0.9v0.9h-0.9zM137.1 440.0h0.9v0.9h-0.9zM139.9 441.3h0.9v0.9h-0.9zM134.7 444.3h0.9v0.9h-0.9zM141.7 439.8h0.9v0.9h-0.9zM135.4 445.2h0.9v0.9h-0.9zM135.3 439.7h0.9v0.9h-0.9zM135.8 442.5h0.9v0.9h-0.9zM136.9 433.3h0.9v0.9h-0.9zM137.0 435.3h0.9v0.9h-0.9zM139.2 438.6h0.9v0.9h-0.9zM139.7 439.9h0.9v0.9h-0.9zM140.5 440.8h0.9v0.9h-0.9zM131.6 441.6h0.9v0.9h-0.9zM130.8 448.7h0.9v0.9h-0.9zM136.1 449.2h0.9v0.9h-0.9zM131.9 443.3h0.9v0.9h-0.9z" fill="rgb(96,96,96)"/>
<path d="M142.1 442.2h0.9v0.9h-0.9zM139.4 449.0h0.9v0.9h-0.9zM142.1 447.8h0.9v0.9h-0.9zM135.8 447.1h0.9v0.9h-0.9zM142.8 432.6h0.9v0.9h-0.9zM137.8 445.6h0.9v0.9h-0.9zM138.3 447.7h0.9v0.9h-0.9zM139.3 445.4h0.9v0.9h-0.9zM136.8 435.8h0.9v0.9h-0.9zM148.5 447.2h0.9v0.9h-0.9zM131.2 441.4h0.9v0.9h-0.9zM143.0 443.5h0.9v0.9h-0.9zM143.4 444.3h0.9v0.9h-0.9zM136.5 446.5h0.9v0.9h-0.9zM144.3 446.2h0.9v0.9h-0.9zM136.2 450.7h0.9v0.9h-0.9zM135.8 449.9h0.9v0.9h-0.9zM137.1 439.0h0.9v0.9h-0.9zM138.7 444.4h0.9v0.9h-0.9zM144.6 438.8h0.9v0.9h-0.9z" fill="rgb(112,112,112)"/>
<path d="M129.8 442.2h0.9v0.9h-0.9zM135.4 444.6h0.9v0.9h-0.9zM146.5 450.1h0.9v0.9h-0.9zM129.9 437.3h0.9v0.9h-0.9zM138.3 442.1h0.9v0.9h-0.9zM139.2 442.8h0.9v0.9h-0.9zM137.0 444.7h0.9v0.9h-0.9zM143.1 434.3h0.9v0.9h-0.9zM143.1 446.5h0.9v0.9h-0.9zM130.4 436.0h0.9v0.9h-0.9zM140.8 442.4h0.9v0.9h-0.9zM139.0 438.0h0.9v0.9h-0.9zM132.1 448.3h0.9v0.9h-0.9zM138.6 438.2h0.9v0.9h-0.9zM137.5 444.4h0.9v0.9h-0.9zM133.6 443.8h0.9v0.9h-0.9zM139.1 442.8h0.9v0.9h-0.9zM145.0 440.2h0.9v0.9h-0.9zM136.4 447.3h0.9v0.9h-0.9zM139.1 446.3h0.9v0.9h-0.9zM138.7 439.5h0.9v0.9h-0.9zM140.8 436.3h0.9v0.9h-0.9zM131.1 449.9h0.9v0.9h-0.9zM133.0 434.3h0.9v0.9h-0.9zM139.6 439.4h0.9v0.9h-0.9zM136.3 445.4h0.9v0.9h-0.9zM131.3 435.8h0.9v0.9h-0.9zM134.9 440.0h0.9v0.9h-0.9zM136.2 439.3h0.9v0.9h-0.9zM138.1 440.9h0.9v0.9h-0.9zM137.9 448.8h0.9v0.9h-0.9zM135.8 449.5h0.9v0.9h-0.9zM140.2 442.4h0.9v0.9h-0.9zM139.3 442.6h0.9v0.9h-0.9z" fill="rgb(128,128,128)"/>
<path d="M139.9 440.2h0.9v0.9h-0.9zM138.7 447.1h0.9v0.9h-0.9zM144.5 438.1h0.9v0.9h-0.9zM147.3 441.6h0.9v0.9h-0.9zM132.3 436.4h0.9v0.9h-0.9zM140.5 439.6h0.9v0.9h-0.9zM137.3 438.9h0.9v0.9h-0.9zM129.9 439.9h0.9v0.9h-0.9zM139.7 437.9h0.9v0.9h-0.9zM137.6 446.9h0.9v0.9h-0.9zM144.9 441.6h0.9v0.9h-0.9zM145.7 449.4h0.9v0.9h-0.9zM145.1 437.9h0.9v0.9h-0.9zM144.0 437.7h0.9v0.9h-0.9zM136.6 442.6h0.9v0.9h-0.9zM131.8 444.9h0.9v0.9h-0.9zM141.1 436.4h0.9v0.9h-0.9zM138.4 444.1h0.9v0.9h-0.9zM137.5 441.1h0.9v0.9h-0.9z" fill="rgb(144,144,144)"/>
<path d="M134.5 451.9h0.9v0.9h-0.9zM135.6 439.5h0.9v0.9h-0.9zM139.3 442.4h0.9v0.9h-0.9zM132.3 445.2h0.9v0.9h-0.9zM132.8 444.6h0.9v0.9h-0.9zM136.5 439.3h0.9v0.9h-0.9zM135.5 445.9h0.9v0.9h-0.9zM132.0 445.9h0.9v0.9h-0.9zM133.8 436.2h0.9v0.9h-0.9zM139.1 450.4h0.9v0.9h-0.9zM143.8 440.4h0.9v0.9h-0.9zM136.5 440.4h0.9v0.9h-0.9zM131.4 434.9h0.9v0.9h-0.9zM135.8 445.3h0.9v0.9h-0.9z" fill="rgb(160,160,160)"/>
<path d="M141.7 434.3h0.9v0.9h-0.9zM134.0 436.9h0.9v0.9h-0.9zM143.5 436.9h0.9v0.9h-0.9zM130.9 441.6h0.9v0.9h-0.9zM142.0 444.8h0.9v0.9h-0.9zM138.1 446.3h0.9v0.9h-0.9z" fill="rgb(176,176,176)"/>
<path d="M167.3 434.2h0.9v0.9h-0.9zM153.4 444.2h0.9v0.9h-0.9zM160.8 438.3h0.9v0.9h-0.9zM164.9 437.3h0.9v0.9h-0.9z" fill="rgb(96,96,96)"/>
<path d="M160.8 442.7h0.9v0.9h-0.9zM155.2 443.3h0.9v0.9h-0.9zM162.4 446.4h0.9v0.9h-0.9zM164.0 435.2h0.9v0.9h-0.9zM152.4 439.6h0.9v0.9h-0.9zM158.6 445.9h0.9v0.9h-0.9zM156.3 443.0h0.9v0.9h-0.9zM151.6 439.5h0.9v0.9h-0.9zM155.6 443.8h0.9v0.9h-0.9zM166.9 441.4h0.9v0.9h-0.9z" fill="rgb(112,112,112)"/>
<path d="M158.7 438.1h0.9v0.9h-0.9zM151.1 443.9h0.9v0.9h-0.9zM156.9 445.8h0.9v0.9h-0.9zM156.9 435.6h0.9v0.9h-0.9zM154.5 444.2h0.9v0.9h-0.9zM166.8 431.7h0.9v0.9h-0.9zM169.7 442.8h0.9v0.9h-0.9zM142.4 439.9h0.9v0.9h-0.9zM158.2 433.3h0.9v0.9h-0.9zM152.9 437.2h0.9v0.9h-0.9zM167.3 442.4h0.9v0.9h-0.9zM158.8 433.5h0.9v0.9h-0.9z" fill="rgb(128,128,128)"/>
<path d="M156.1 438.5h0.9v0.9h-0.9zM158.8 437.5h0.9v0.9h-0.9zM159.8 445.1h0.9v0.9h-0.9zM173.9 435.9h0.9v0.9h-0.9zM157.5 444.5h0.9v0.9h-0.9zM165.7 432.1h0.9v0.9h-0.9zM162.2 433.8h0.9v0.9h-0.9zM162.3 440.6h0.9v0.9h-0.9z" fill="rgb(144,144,144)"/>
<path d="M161.6 446.3h0.9v0.9h-0.9zM151.4 445.8h0.9v0.9h-0.9zM159.0 442.0h0.9v0.9h-0.9zM159.1 442.4h0.9v0.9h-0.9zM153.3 445.9h0.9v0.9h-0.9zM165.4 437.2h0.9v0.9h-0.9zM150.3 438.6h0.9v0.9h-0.9zM158.5 446.0h0.9v0.9h-0.9zM164.8 440.0h0.9v0.9h-0.9zM147.5 439.6h0.9v0.9h-0.9zM146.9 437.0h0.9v0.9h-0.9zM149.7 444.0h0.9v0.9h-0.9zM158.5 435.7h0.9v0.9h-0.9z" fill="rgb(160,160,160)"/>
<path d="M164.7 449.0h0.9v0.9h-0.9zM172.1 447.9h0.9v0.9h-0.9zM144.5 444.3h0.9v0.9h-0.9zM169.8 442.1h0.9v0.9h-0.9zM172.6 444.6h0.9v0.9h-0.9zM153.4 449.8h0.9v0.9h-0.9zM159.5 437.2h0.9v0.9h-0.9zM165.4 439.3h0.9v0.9h-0.9zM175.3 439.7h0.9v0.9h-0.9zM157.4 448.8h0.9v0.9h-0.9zM171.0 452.1h0.9v0.9h-0.9zM158.6 449.4h0.9v0.9h-0.9zM148.8 437.1h0.9v0.9h-0.9zM156.8 434.7h0.9v0.9h-0.9zM164.7 442.4h0.9v0.9h-0.9zM175.6 445.1h0.9v0.9h-0.9zM162.0 433.8h0.9v0.9h-0.9zM161.2 440.0h0.9v0.9h-0.9zM158.4 438.7h0.9v0.9h-0.9zM158.2 433.8h0.9v0.9h-0.9zM147.6 437.3h0.9v0.9h-0.9zM166.8 433.9h0.9v0.9h-0.9z" fill="rgb(176,176,176)"/>
<path d="M172.8 434.5h0.9v0.9h-0.9zM155.2 446.5h0.9v0.9h-0.9zM164.4 444.8h0.9v0.9h-0.9zM167.0 438.4h0.9v0.9h-0.9z" fill="rgb(192,192,192)"/>
<path d="M171.8 434.7h0.9v0.9h-0.9zM169.0 432.5h0.9v0.9h-0.9zM169.7 442.0h0.9v0.9h-0.9zM168.1 439.7h0.9v0.9h-0.9zM167.7 441.9h0.9v0.9h-0.9z" fill="rgb(80,80,80)"/>
<path d="M168.0 441.2h0.9v0.9h-0.9zM168.3 437.9h0.9v0.9h-0.9zM167.3 435.5h0.9v0.9h-0.9zM167.8 437.0h0.9v0.9h-0.9z" fill="rgb(96,96,96)"/>
<path d="M165.8 434.6h0.9v0.9h-0.9zM167.3 434.4h0.9v0.9h-0.9zM172.1 439.9h0.9v0.9h-0.9zM169.2 440.5h0.9v0.9h-0.9zM162.7 433.8h0.9v0.9h-0.9z" fill="rgb(112,112,112)"/>
<path d="M168.8 435.9h0.9v0.9h-0.9zM170.9 438.3h0.9v0.9h-0.9zM169.8 444.5h0.9v0.9h-0.9zM166.6 442.1h0.9v0.9h-0.9zM162.3 430.7h0.9v0.9h-0.9zM169.3 438.8h0.9v0.9h-0.9zM168.0 437.9h0.9v0.9h-0.9zM168.1 430.1h0.9v0.9h-0.9zM168.3 435.2h0.9v0.9h-0.9zM167.9 439.7h0.9v0.9h-0.9zM167.5 431.9h0.9v0.9h-0.9z" fill="rgb(128,128,128)"/>
<path d="M167.8 436.0h0.9v0.9h-0.9zM167.8 438.7h0.9v0.9h-0.9zM168.8 430.7h0.9v0.9h-0.9zM173.5 434.6h0.9v0.9h-0.9zM169.8 438.9h0.9v0.9h-0.9z" fill="rgb(144,144,144)"/>
<path d="M165.3 440.9h0.9v0.9h-0.9zM169.6 441.2h0.9v0.9h-0.9zM166.1 433.7h0.9v0.9h-0.9zM169.7 433.6h0.9v0.9h-0.9zM166.8 438.8h0.9v0.9h-0.9zM168.1 434.9h0.9v0.9h-0.9z" fill="rgb(160,160,160)"/>
<path d="M164.2 438.2h0.9v0.9h-0.9zM167.6 432.6h0.9v0.9h-0.9z" fill="rgb(176,176,176)"/>
<path d="M171.6 420.0h0.9v0.9h-0.9z" fill="rgb(176,176,176)"/>
<path d="M148.0 420.4h0.9v0.9h-0.9zM157.1 415.3h0.9v0.9h-0.9zM169.1 417.5h0.9v0.9h-0.9z" fill="rgb(192,192,192)"/>
<path d="M156.5 416.5h0.9v0.9h-0.9zM161.5 416.4h0.9v0.9h-0.9zM160.2 417.9h0.9v0.9h-0.9zM171.6 414.2h0.9v0.9h-0.9zM165.2 413.1h0.9v0.9h-0.9zM170.4 421.0h0.9v0.9h-0.9z" fill="rgb(208,208,208)"/>
<ellipse cx="54.4" cy="508" rx="11" ry="11" fill="url(#g22)"/>
<path d="M58.5 515.3h0.9v0.9h-0.9zM54.2 510.3h0.9v0.9h-0.9zM59.3 506.7h0.9v0.9h-0.9zM54.4 513.3h0.9v0.9h-0.9z" fill="rgb(32,32,32)"/>
<path d="M51.4 503.1h0.9v0.9h-0.9zM54.8 514.0h0.9v0.9h-0.9zM47.9 517.2h0.9v0.9h-0.9zM46.3 504.8h0.9v0.9h-0.9zM60.0 509.0h0.9v0.9h-0.9zM60.8 511.6h0.9v0.9h-0.9zM58.0 511.4h0.9v0.9h-0.9zM54.0 508.8h0.9v0.9h-0.9zM58.0 508.3h0.9v0.9h-0.9zM54.5 501.7h0.9v0.9h-0.9zM60.4 502.9h0.9v0.9h-0.9zM53.3 505.6h0.9v0.9h-0.9zM56.4 506.6h0.9v0.9h-0.9zM58.2 513.5h0.9v0.9h-0.9zM56.7 509.7h0.9v0.9h-0.9zM60.3 502.8h0.9v0.9h-0.9zM49.9 502.3h0.9v0.9h-0.9zM55.3 514.1h0.9v0.9h-0.9zM52.8 513.0h0.9v0.9h-0.9zM57.2 509.1h0.9v0.9h-0.9zM49.5 504.8h0.9v0.9h-0.9zM58.5 511.0h0.9v0.9h-0.9zM53.5 513.1h0.9v0.9h-0.9zM56.5 507.1h0.9v0.9h-0.9z" fill="rgb(48,48,48)"/>
<path d="M59.8 511.2h0.9v0.9h-0.9zM51.2 503.1h0.9v0.9h-0.9zM49.9 504.4h0.9v0.9h-0.9zM62.5 513.6h0.9v0.9h-0.9zM50.7 511.5h0.9v0.9h-0.9zM53.0 514.3h0.9v0.9h-0.9zM54.8 510.0h0.9v0.9h-0.9zM60.8 511.8h0.9v0.9h-0.9zM58.7 516.5h0.9v0.9h-0.9zM65.6 511.1h0.9v0.9h-0.9zM63.0 506.1h0.9v0.9h-0.9zM52.7 508.3h0.9v0.9h-0.9zM49.2 505.8h0.9v0.9h-0.9zM47.9 507.9h0.9v0.9h-0.9zM53.3 501.7h0.9v0.9h-0.9zM54.2 511.6h0.9v0.9h-0.9zM62.3 512.3h0.9v0.9h-0.9zM60.0 509.4h0.9v0.9h-0.9zM52.6 508.6h0.9v0.9h-0.9zM56.9 499.7h0.9v0.9h-0.9zM61.1 506.2h0.9v0.9h-0.9zM56.3 508.7h0.9v0.9h-0.9zM52.9 504.0h0.9v0.9h-0.9zM52.1 507.2h0.9v0.9h-0.9zM59.2 509.7h0.9v0.9h-0.9zM61.2 514.5h0.9v0.9h-0.9zM53.8 510.0h0.9v0.9h-0.9zM49.5 500.6h0.9v0.9h-0.9zM50.0 500.3h0.9v0.9h-0.9zM59.4 506.8h0.9v0.9h-0.9zM61.2 503.9h0.9v0.9h-0.9zM55.7 512.5h0.9v0.9h-0.9zM51.7 504.0h0.9v0.9h-0.9zM57.3 500.5h0.9v0.9h-0.9zM52.6 507.5h0.9v0.9h-0.9zM58.6 501.9h0.9v0.9h-0.9zM55.0 507.2h0.9v0.9h-0.9zM54.4 505.5h0.9v0.9h-0.9zM49.0 504.9h0.9v0.9h-0.9zM53.4 500.9h0.9v0.9h-0.9zM58.3 506.5h0.9v0.9h-0.9zM50.8 506.2h0.9v0.9h-0.9zM49.1 513.6h0.9v0.9h-0.9z" fill="rgb(64,64,64)"/>
<path d="M65.4 505.8h0.9v0.9h-0.9zM54.8 502.0h0.9v0.9h-0.9zM54.8 504.8h0.9v0.9h-0.9zM53.1 508.0h0.9v0.9h-0.9zM53.4 504.9h0.9v0.9h-0.9zM58.9 511.1h0.9v0.9h-0.9zM56.5 514.7h0.9v0.9h-0.9zM51.6 511.8h0.9v0.9h-0.9zM59.9 502.6h0.9v0.9h-0.9zM56.7 512.0h0.9v0.9h-0.9zM53.0 513.3h0.9v0.9h-0.9zM51.9 509.0h0.9v0.9h-0.9zM53.9 519.8h0.9v0.9h-0.9zM53.6 516.5h0.9v0.9h-0.9zM54.4 499.3h0.9v0.9h-0.9zM53.7 520.6h0.9v0.9h-0.9zM56.7 504.9h0.9v0.9h-0.9zM54.7 505.9h0.9v0.9h-0.9zM46.2 502.7h0.9v0.9h-0.9zM62.8 497.8h0.9v0.9h-0.9zM55.6 509.0h0.9v0.9h-0.9zM50.4 505.0h0.9v0.9h-0.9zM54.2 508.7h0.9v0.9h-0.9zM52.8 500.0h0.9v0.9h-0.9zM49.2 503.6h0.9v0.9h-0.9zM50.3 518.1h0.9v0.9h-0.9zM55.4 511.1h0.9v0.9h-0.9z" fill="rgb(80,80,80)"/>
<path d="M57.6 507.8h0.9v0.9h-0.9zM59.3 509.7h0.9v0.9h-0.9zM49.0 511.1h0.9v0.9h-0.9zM52.5 503.6h0.9v0.9h-0.9zM53.6 508.0h0.9v0.9h-0.9zM58.8 500.6h0.9v0.9h-0.9zM57.9 506.5h0.9v0.9h-0.9zM55.1 508.4h0.9v0.9h-0.9zM48.7 507.9h0.9v0.9h-0.9zM50.9 505.4h0.9v0.9h-0.9zM47.0 507.5h0.9v0.9h-0.9zM47.0 513.0h0.9v0.9h-0.9zM57.9 504.5h0.9v0.9h-0.9zM50.0 513.8h0.9v0.9h-0.9zM50.9 518.4h0.9v0.9h-0.9zM47.6 502.9h0.9v0.9h-0.9zM51.1 510.2h0.9v0.9h-0.9zM51.1 504.9h0.9v0.9h-0.9zM51.8 509.2h0.9v0.9h-0.9zM56.7 513.7h0.9v0.9h-0.9zM59.9 501.4h0.9v0.9h-0.9zM52.7 506.6h0.9v0.9h-0.9zM52.6 501.9h0.9v0.9h-0.9zM52.9 513.7h0.9v0.9h-0.9zM47.6 511.8h0.9v0.9h-0.9zM52.7 512.5h0.9v0.9h-0.9zM46.4 499.0h0.9v0.9h-0.9zM47.2 510.0h0.9v0.9h-0.9zM55.8 510.5h0.9v0.9h-0.9zM60.4 512.9h0.9v0.9h-0.9zM57.9 508.8h0.9v0.9h-0.9zM54.2 502.7h0.9v0.9h-0.9zM57.3 507.5h0.9v0.9h-0.9zM50.8 510.5h0.9v0.9h-0.9zM54.2 497.8h0.9v0.9h-0.9zM55.4 505.3h0.9v0.9h-0.9zM54.4 508.1h0.9v0.9h-0.9zM54.4 509.3h0.9v0.9h-0.9zM52.9 507.7h0.9v0.9h-0.9z" fill="rgb(96,96,96)"/>
<path d="M56.6 507.7h0.9v0.9h-0.9zM58.0 500.6h0.9v0.9h-0.9zM52.3 503.6h0.9v0.9h-0.9zM50.0 513.1h0.9v0.9h-0.9zM51.3 508.9h0.9v0.9h-0.9zM51.6 515.9h0.9v0.9h-0.9zM57.7 516.1h0.9v0.9h-0.9zM54.3 505.3h0.9v0.9h-0.9zM58.8 507.8h0.9v0.9h-0.9zM64.1 502.7h0.9v0.9h-0.9zM60.9 508.9h0.9v0.9h-0.9zM52.9 506.4h0.9v0.9h-0.9zM51.9 518.8h0.9v0.9h-0.9zM50.3 504.1h0.9v0.9h-0.9zM52.3 502.7h0.9v0.9h-0.9zM47.7 506.8h0.9v0.9h-0.9zM61.8 512.5h0.9v0.9h-0.9zM56.0 507.2h0.9v0.9h-0.9zM51.0 504.9h0.9v0.9h-0.9zM47.3 502.5h0.9v0.9h-0.9zM59.2 503.9h0.9v0.9h-0.9zM57.5 507.6h0.9v0.9h-0.9zM46.7 508.6h0.9v0.9h-0.9zM54.5 508.7h0.9v0.9h-0.9zM55.8 514.0h0.9v0.9h-0.9zM54.0 506.5h0.9v0.9h-0.9zM60.9 506.7h0.9v0.9h-0.9zM60.0 514.3h0.9v0.9h-0.9zM58.6 515.9h0.9v0.9h-0.9zM57.9 513.2h0.9v0.9h-0.9zM57.1 511.8h0.9v0.9h-0.9zM54.9 509.6h0.9v0.9h-0.9zM54.8 505.8h0.9v0.9h-0.9zM54.2 513.6h0.9v0.9h-0.9zM54.5 511.8h0.9v0.9h-0.9zM57.9 510.9h0.9v0.9h-0.9z" fill="rgb(112,112,112)"/>
<path d="M57.1 508.6h0.9v0.9h-0.9zM52.0 501.8h0.9v0.9h-0.9zM58.7 509.0h0.9v0.9h-0.9zM55.5 511.1h0.9v0.9h-0.9zM59.8 513.1h0.9v0.9h-0.9zM57.9 506.0h0.9v0.9h-0.9zM58.6 512.1h0.9v0.9h-0.9zM55.6 511.1h0.9v0.9h-0.9zM54.9 502.2h0.9v0.9h-0.9zM61.8 508.8h0.9v0.9h-0.9zM54.9 510.7h0.9v0.9h-0.9zM49.2 509.0h0.9v0.9h-0.9zM60.1 517.3h0.9v0.9h-0.9zM48.2 509.7h0.9v0.9h-0.9zM53.6 516.5h0.9v0.9h-0.9zM57.3 505.4h0.9v0.9h-0.9zM60.2 506.5h0.9v0.9h-0.9zM49.4 500.0h0.9v0.9h-0.9zM56.2 499.8h0.9v0.9h-0.9zM52.4 518.7h0.9v0.9h-0.9zM57.4 499.1h0.9v0.9h-0.9zM56.2 519.1h0.9v0.9h-0.9zM52.8 506.0h0.9v0.9h-0.9zM51.3 508.7h0.9v0.9h-0.9zM46.4 507.3h0.9v0.9h-0.9zM54.0 503.4h0.9v0.9h-0.9zM51.7 503.2h0.9v0.9h-0.9zM63.1 509.6h0.9v0.9h-0.9zM50.8 512.8h0.9v0.9h-0.9zM58.5 505.0h0.9v0.9h-0.9zM46.4 514.1h0.9v0.9h-0.9zM53.9 509.8h0.9v0.9h-0.9zM59.9 504.3h0.9v0.9h-0.9zM56.3 512.7h0.9v0.9h-0.9zM56.6 508.7h0.9v0.9h-0.9zM50.0 511.7h0.9v0.9h-0.9z" fill="rgb(128,128,128)"/>
<path d="M47.5 512.9h0.9v0.9h-0.9zM56.4 509.5h0.9v0.9h-0.9zM58.1 510.9h0.9v0.9h-0.9zM45.2 505.7h0.9v0.9h-0.9zM56.2 502.8h0.9v0.9h-0.9zM52.3 509.0h0.9v0.9h-0.9zM58.4 510.2h0.9v0.9h-0.9zM55.7 517.3h0.9v0.9h-0.9zM59.4 506.8h0.9v0.9h-0.9zM55.2 512.0h0.9v0.9h-0.9zM54.6 500.3h0.9v0.9h-0.9zM52.6 507.9h0.9v0.9h-0.9zM53.5 502.3h0.9v0.9h-0.9zM53.3 510.6h0.9v0.9h-0.9zM57.5 511.6h0.9v0.9h-0.9zM59.0 514.1h0.9v0.9h-0.9zM63.3 512.1h0.9v0.9h-0.9zM54.1 511.7h0.9v0.9h-0.9zM50.4 508.2h0.9v0.9h-0.9zM52.2 507.9h0.9v0.9h-0.9zM53.3 510.7h0.9v0.9h-0.9zM54.6 510.2h0.9v0.9h-0.9zM54.8 504.6h0.9v0.9h-0.9zM54.4 510.2h0.9v0.9h-0.9zM55.2 507.1h0.9v0.9h-0.9zM51.6 505.3h0.9v0.9h-0.9zM55.8 502.1h0.9v0.9h-0.9zM49.4 513.5h0.9v0.9h-0.9zM50.9 509.0h0.9v0.9h-0.9zM63.3 510.0h0.9v0.9h-0.9zM46.8 507.4h0.9v0.9h-0.9zM57.7 506.6h0.9v0.9h-0.9zM48.4 511.8h0.9v0.9h-0.9zM59.3 511.0h0.9v0.9h-0.9zM56.5 509.1h0.9v0.9h-0.9zM50.0 508.8h0.9v0.9h-0.9z" fill="rgb(144,144,144)"/>
<path d="M51.9 495.6h0.9v0.9h-0.9zM50.8 488.8h0.9v0.9h-0.9zM56.8 485.1h0.9v0.9h-0.9zM50.9 500.3h0.9v0.9h-0.9zM51.6 486.0h0.9v0.9h-0.9zM66.9 496.5h0.9v0.9h-0.9zM55.1 496.6h0.9v0.9h-0.9z" fill="rgb(112,112,112)"/>
<path d="M52.0 493.9h0.9v0.9h-0.9zM52.1 487.6h0.9v0.9h-0.9zM55.6 495.3h0.9v0.9h-0.9zM61.0 492.2h0.9v0.9h-0.9zM59.1 479.3h0.9v0.9h-0.9z" fill="rgb(128,128,128)"/>
<path d="M53.8 489.4h0.9v0.9h-0.9zM62.0 493.4h0.9v0.9h-0.9zM50.7 486.2h0.9v0.9h-0.9zM53.0 484.7h0.9v0.9h-0.9zM57.7 489.3h0.9v0.9h-0.9zM55.5 488.7h0.9v0.9h-0.9zM62.1 495.7h0.9v0.9h-0.9zM61.6 496.6h0.9v0.9h-0.9zM54.8 492.6h0.9v0.9h-0.9z" fill="rgb(144,144,144)"/>
<path d="M51.6 474.8h0.9v0.9h-0.9zM57.7 504.5h0.9v0.9h-0.9zM50.8 483.9h0.9v0.9h-0.9zM55.5 482.3h0.9v0.9h-0.9zM57.9 491.3h0.9v0.9h-0.9zM51.8 474.1h0.9v0.9h-0.9zM62.4 497.7h0.9v0.9h-0.9zM50.5 489.7h0.9v0.9h-0.9zM67.0 486.9h0.9v0.9h-0.9zM62.7 494.8h0.9v0.9h-0.9zM50.0 491.9h0.9v0.9h-0.9zM51.1 491.8h0.9v0.9h-0.9zM57.8 490.1h0.9v0.9h-0.9zM47.3 484.2h0.9v0.9h-0.9zM51.7 494.7h0.9v0.9h-0.9zM54.6 492.2h0.9v0.9h-0.9zM59.4 495.1h0.9v0.9h-0.9zM48.3 492.8h0.9v0.9h-0.9z" fill="rgb(160,160,160)"/>
<path d="M48.2 488.1h0.9v0.9h-0.9zM66.2 478.1h0.9v0.9h-0.9zM51.3 485.3h0.9v0.9h-0.9zM53.7 494.3h0.9v0.9h-0.9zM46.5 501.8h0.9v0.9h-0.9zM54.1 484.9h0.9v0.9h-0.9zM61.5 486.7h0.9v0.9h-0.9zM47.8 480.8h0.9v0.9h-0.9zM60.0 489.9h0.9v0.9h-0.9zM56.3 480.5h0.9v0.9h-0.9zM54.6 490.7h0.9v0.9h-0.9zM60.0 486.0h0.9v0.9h-0.9zM55.1 487.0h0.9v0.9h-0.9zM54.8 502.4h0.9v0.9h-0.9zM66.9 496.8h0.9v0.9h-0.9zM52.2 497.9h0.9v0.9h-0.9zM51.4 490.6h0.9v0.9h-0.9zM60.3 481.6h0.9v0.9h-0.9z" fill="rgb(176,176,176)"/>
<path d="M56.6 488.9h0.9v0.9h-0.9zM64.6 492.4h0.9v0.9h-0.9zM60.7 494.3h0.9v0.9h-0.9zM60.9 471.0h0.9v0.9h-0.9zM56.3 499.8h0.9v0.9h-0.9zM55.3 488.8h0.9v0.9h-0.9zM60.8 497.0h0.9v0.9h-0.9zM55.4 482.6h0.9v0.9h-0.9zM46.7 472.8h0.9v0.9h-0.9zM58.2 484.9h0.9v0.9h-0.9z" fill="rgb(192,192,192)"/>
<path d="M73.7 501.4h0.9v0.9h-0.9zM68.9 505.8h0.9v0.9h-0.9zM73.4 499.0h0.9v0.9h-0.9zM65.1 513.9h0.9v0.9h-0.9zM85.5 510.2h0.9v0.9h-0.9zM76.3 508.1h0.9v0.9h-0.9zM69.5 515.4h0.9v0.9h-0.9zM67.4 512.8h0.9v0.9h-0.9zM75.4 508.6h0.9v0.9h-0.9zM72.2 515.2h0.9v0.9h-0.9z" fill="rgb(144,144,144)"/>
<path d="M72.1 501.5h0.9v0.9h-0.9zM68.7 499.6h0.9v0.9h-0.9zM63.7 504.0h0.9v0.9h-0.9zM68.4 494.6h0.9v0.9h-0.9z" fill="rgb(160,160,160)"/>
<path d="M73.1 507.4h0.9v0.9h-0.9zM70.4 506.9h0.9v0.9h-0.9zM80.6 517.9h0.9v0.9h-0.9zM67.3 504.3h0.9v0.9h-0.9zM67.9 511.2h0.9v0.9h-0.9zM74.4 509.2h0.9v0.9h-0.9zM72.1 501.3h0.9v0.9h-0.9zM66.7 513.7h0.9v0.9h-0.9zM72.2 508.8h0.9v0.9h-0.9zM75.6 505.5h0.9v0.9h-0.9z" fill="rgb(176,176,176)"/>
<path d="M80.8 501.6h0.9v0.9h-0.9zM67.5 511.8h0.9v0.9h-0.9zM72.1 510.6h0.9v0.9h-0.9z" fill="rgb(192,192,192)"/>
<path d="M78.6 505.4h0.9v0.9h-0.9zM68.8 512.1h0.9v0.9h-0.9zM80.8 520.4h0.9v0.9h-0.9z" fill="rgb(208,208,208)"/>
<path d="M75.7 492.7h0.9v0.9h-0.9zM78.0 479.6h0.9v0.9h-0.9zM77.6 487.5h0.9v0.9h-0.9z" fill="rgb(176,176,176)"/>
<path d="M78.8 473.9h0.9v0.9h-0.9z" fill="rgb(192,192,192)"/>
<path d="M73.3 488.4h0.9v0.9h-0.9zM69.8 492.7h0.9v0.9h-0.9zM77.2 487.0h0.9v0.9h-0.9zM71.8 490.2h0.9v0.9h-0.9z" fill="rgb(208,208,208)"/>
<ellipse cx="145" cy="505" rx="20" ry="22" fill="url(#g23)"/>
<path d="M137.8 488.5h0.9v0.9h-0.9zM135.7 487.0h0.9v0.9h-0.9zM136.5 499.3h0.9v0.9h-0.9zM138.2 479.1h0.9v0.9h-0.9zM140.5 488.5h0.9v0.9h-0.9zM139.8 480.4h0.9v0.9h-0.9zM145.9 483.7h0.9v0.9h-0.9zM139.2 485.4h0.9v0.9h-0.9zM134.4 495.2h0.9v0.9h-0.9zM137.8 490.7h0.9v0.9h-0.9zM140.6 481.5h0.9v0.9h-0.9z" fill="rgb(48,48,48)"/>
<path d="M138.1 481.2h0.9v0.9h-0.9zM147.0 490.0h0.9v0.9h-0.9zM139.0 495.6h0.9v0.9h-0.9zM134.3 491.6h0.9v0.9h-0.9zM142.7 486.1h0.9v0.9h-0.9zM131.0 477.8h0.9v0.9h-0.9zM133.5 483.6h0.9v0.9h-0.9zM129.4 483.8h0.9v0.9h-0.9zM142.6 479.4h0.9v0.9h-0.9zM135.4 490.8h0.9v0.9h-0.9zM138.6 491.6h0.9v0.9h-0.9zM140.6 495.0h0.9v0.9h-0.9zM135.9 488.2h0.9v0.9h-0.9zM150.3 484.6h0.9v0.9h-0.9zM142.7 482.8h0.9v0.9h-0.9zM139.2 481.2h0.9v0.9h-0.9zM134.4 493.9h0.9v0.9h-0.9zM143.6 492.3h0.9v0.9h-0.9zM149.7 487.9h0.9v0.9h-0.9zM132.5 479.7h0.9v0.9h-0.9zM130.1 489.2h0.9v0.9h-0.9zM135.5 484.1h0.9v0.9h-0.9zM146.3 489.2h0.9v0.9h-0.9zM140.4 494.2h0.9v0.9h-0.9zM138.7 482.8h0.9v0.9h-0.9zM139.5 486.0h0.9v0.9h-0.9z" fill="rgb(64,64,64)"/>
<path d="M143.2 487.7h0.9v0.9h-0.9zM133.0 484.3h0.9v0.9h-0.9zM134.0 490.3h0.9v0.9h-0.9zM137.5 494.2h0.9v0.9h-0.9zM141.0 479.9h0.9v0.9h-0.9zM136.8 484.4h0.9v0.9h-0.9zM143.0 484.3h0.9v0.9h-0.9zM136.0 490.2h0.9v0.9h-0.9zM142.8 493.5h0.9v0.9h-0.9zM145.8 492.5h0.9v0.9h-0.9zM144.9 492.0h0.9v0.9h-0.9zM144.8 490.8h0.9v0.9h-0.9zM152.6 485.6h0.9v0.9h-0.9zM135.9 479.1h0.9v0.9h-0.9zM146.7 488.5h0.9v0.9h-0.9zM138.9 492.5h0.9v0.9h-0.9zM140.4 489.6h0.9v0.9h-0.9zM140.1 482.5h0.9v0.9h-0.9zM144.2 485.7h0.9v0.9h-0.9z" fill="rgb(80,80,80)"/>
<path d="M136.4 501.5h0.9v0.9h-0.9zM137.1 484.6h0.9v0.9h-0.9zM142.2 497.3h0.9v0.9h-0.9zM135.7 490.5h0.9v0.9h-0.9zM131.0 490.0h0.9v0.9h-0.9zM143.4 492.6h0.9v0.9h-0.9zM148.7 484.7h0.9v0.9h-0.9zM136.4 490.4h0.9v0.9h-0.9zM143.1 494.0h0.9v0.9h-0.9zM139.4 481.1h0.9v0.9h-0.9zM147.5 491.7h0.9v0.9h-0.9zM138.1 482.0h0.9v0.9h-0.9zM147.6 493.7h0.9v0.9h-0.9zM142.5 491.8h0.9v0.9h-0.9zM139.5 485.1h0.9v0.9h-0.9zM137.9 476.3h0.9v0.9h-0.9zM146.0 487.0h0.9v0.9h-0.9zM136.1 487.0h0.9v0.9h-0.9zM141.3 491.7h0.9v0.9h-0.9zM146.8 481.4h0.9v0.9h-0.9zM139.6 477.4h0.9v0.9h-0.9zM129.4 483.5h0.9v0.9h-0.9zM142.9 484.2h0.9v0.9h-0.9zM147.4 479.6h0.9v0.9h-0.9zM153.3 491.9h0.9v0.9h-0.9z" fill="rgb(96,96,96)"/>
<path d="M143.0 487.9h0.9v0.9h-0.9zM140.2 487.1h0.9v0.9h-0.9zM139.6 490.6h0.9v0.9h-0.9zM137.1 481.1h0.9v0.9h-0.9zM145.1 482.7h0.9v0.9h-0.9zM135.9 487.5h0.9v0.9h-0.9zM142.4 482.8h0.9v0.9h-0.9zM134.6 494.6h0.9v0.9h-0.9zM141.4 480.4h0.9v0.9h-0.9zM144.0 484.4h0.9v0.9h-0.9zM144.9 482.0h0.9v0.9h-0.9zM142.9 478.3h0.9v0.9h-0.9zM133.3 487.5h0.9v0.9h-0.9zM141.3 480.0h0.9v0.9h-0.9zM130.0 488.1h0.9v0.9h-0.9zM148.6 485.6h0.9v0.9h-0.9zM143.7 484.7h0.9v0.9h-0.9zM140.5 494.2h0.9v0.9h-0.9zM142.6 490.4h0.9v0.9h-0.9zM138.8 492.3h0.9v0.9h-0.9zM148.4 481.9h0.9v0.9h-0.9zM145.6 486.3h0.9v0.9h-0.9zM138.3 487.1h0.9v0.9h-0.9zM142.1 489.1h0.9v0.9h-0.9zM139.6 493.9h0.9v0.9h-0.9z" fill="rgb(112,112,112)"/>
<path d="M139.3 493.0h0.9v0.9h-0.9zM139.7 492.2h0.9v0.9h-0.9zM141.5 485.1h0.9v0.9h-0.9zM141.0 482.1h0.9v0.9h-0.9zM145.1 484.3h0.9v0.9h-0.9zM141.4 483.0h0.9v0.9h-0.9zM150.0 484.9h0.9v0.9h-0.9zM140.7 489.5h0.9v0.9h-0.9zM142.5 490.9h0.9v0.9h-0.9zM142.2 481.6h0.9v0.9h-0.9zM143.6 486.8h0.9v0.9h-0.9zM141.9 485.3h0.9v0.9h-0.9zM141.6 489.2h0.9v0.9h-0.9zM139.0 493.0h0.9v0.9h-0.9zM142.7 487.0h0.9v0.9h-0.9zM142.8 489.4h0.9v0.9h-0.9zM140.1 479.5h0.9v0.9h-0.9zM139.1 490.7h0.9v0.9h-0.9zM146.7 495.6h0.9v0.9h-0.9zM148.4 492.2h0.9v0.9h-0.9zM150.3 481.9h0.9v0.9h-0.9zM142.0 486.3h0.9v0.9h-0.9zM146.8 482.8h0.9v0.9h-0.9z" fill="rgb(128,128,128)"/>
<path d="M141.2 493.8h0.9v0.9h-0.9zM150.2 490.7h0.9v0.9h-0.9zM139.8 487.2h0.9v0.9h-0.9zM148.7 488.2h0.9v0.9h-0.9zM138.3 490.8h0.9v0.9h-0.9zM148.8 486.4h0.9v0.9h-0.9zM141.9 485.5h0.9v0.9h-0.9zM138.2 491.7h0.9v0.9h-0.9zM134.9 488.9h0.9v0.9h-0.9zM140.8 487.5h0.9v0.9h-0.9zM142.2 487.2h0.9v0.9h-0.9zM139.3 479.8h0.9v0.9h-0.9zM146.9 479.6h0.9v0.9h-0.9zM135.3 484.2h0.9v0.9h-0.9zM145.6 487.6h0.9v0.9h-0.9zM139.9 494.3h0.9v0.9h-0.9zM144.5 490.1h0.9v0.9h-0.9zM141.6 487.0h0.9v0.9h-0.9zM152.1 487.3h0.9v0.9h-0.9zM150.2 493.8h0.9v0.9h-0.9zM147.9 484.5h0.9v0.9h-0.9zM139.0 488.1h0.9v0.9h-0.9zM137.3 484.1h0.9v0.9h-0.9zM142.3 489.6h0.9v0.9h-0.9zM140.4 483.8h0.9v0.9h-0.9zM145.1 489.6h0.9v0.9h-0.9zM140.0 487.1h0.9v0.9h-0.9zM139.5 494.3h0.9v0.9h-0.9z" fill="rgb(144,144,144)"/>
<path d="M136.3 492.3h0.9v0.9h-0.9zM141.6 485.2h0.9v0.9h-0.9zM139.9 496.3h0.9v0.9h-0.9zM133.5 486.8h0.9v0.9h-0.9zM144.1 486.6h0.9v0.9h-0.9zM139.7 488.9h0.9v0.9h-0.9zM141.1 495.4h0.9v0.9h-0.9zM151.9 482.4h0.9v0.9h-0.9zM142.0 486.3h0.9v0.9h-0.9zM138.1 489.9h0.9v0.9h-0.9zM137.8 481.1h0.9v0.9h-0.9zM143.3 487.0h0.9v0.9h-0.9zM139.0 488.5h0.9v0.9h-0.9z" fill="rgb(160,160,160)"/>
<path d="M150.1 510.3h0.9v0.9h-0.9zM151.4 510.5h0.9v0.9h-0.9zM141.1 520.4h0.9v0.9h-0.9zM144.4 512.8h0.9v0.9h-0.9zM146.5 513.9h0.9v0.9h-0.9zM134.1 511.4h0.9v0.9h-0.9zM144.6 512.2h0.9v0.9h-0.9zM141.2 512.8h0.9v0.9h-0.9zM146.7 508.5h0.9v0.9h-0.9zM136.8 518.3h0.9v0.9h-0.9zM145.9 507.2h0.9v0.9h-0.9zM140.3 515.6h0.9v0.9h-0.9zM140.0 513.7h0.9v0.9h-0.9zM148.6 517.4h0.9v0.9h-0.9zM139.4 504.4h0.9v0.9h-0.9zM145.9 512.4h0.9v0.9h-0.9zM146.7 513.0h0.9v0.9h-0.9zM133.5 516.3h0.9v0.9h-0.9zM132.9 512.2h0.9v0.9h-0.9zM142.6 510.2h0.9v0.9h-0.9zM143.6 523.7h0.9v0.9h-0.9zM135.3 518.3h0.9v0.9h-0.9zM140.1 505.2h0.9v0.9h-0.9zM153.8 521.0h0.9v0.9h-0.9zM148.0 524.3h0.9v0.9h-0.9zM138.2 511.8h0.9v0.9h-0.9zM142.5 514.3h0.9v0.9h-0.9zM147.0 516.6h0.9v0.9h-0.9zM139.9 517.1h0.9v0.9h-0.9zM142.7 527.9h0.9v0.9h-0.9zM137.6 510.8h0.9v0.9h-0.9zM149.7 515.7h0.9v0.9h-0.9zM135.9 509.7h0.9v0.9h-0.9z" fill="rgb(32,32,32)"/>
<path d="M149.3 519.9h0.9v0.9h-0.9zM143.0 507.4h0.9v0.9h-0.9zM136.7 513.8h0.9v0.9h-0.9zM133.9 517.8h0.9v0.9h-0.9zM137.0 507.7h0.9v0.9h-0.9zM157.5 503.6h0.9v0.9h-0.9zM141.2 513.3h0.9v0.9h-0.9zM143.1 509.2h0.9v0.9h-0.9zM135.2 511.3h0.9v0.9h-0.9zM152.6 523.4h0.9v0.9h-0.9zM144.9 508.1h0.9v0.9h-0.9zM144.3 521.1h0.9v0.9h-0.9zM149.6 517.8h0.9v0.9h-0.9zM140.2 518.4h0.9v0.9h-0.9zM143.8 507.3h0.9v0.9h-0.9zM141.8 510.3h0.9v0.9h-0.9zM140.3 516.9h0.9v0.9h-0.9zM154.8 519.2h0.9v0.9h-0.9zM148.1 500.0h0.9v0.9h-0.9zM141.9 515.9h0.9v0.9h-0.9zM132.5 516.2h0.9v0.9h-0.9zM141.0 509.3h0.9v0.9h-0.9zM140.5 509.0h0.9v0.9h-0.9zM146.2 514.9h0.9v0.9h-0.9zM143.0 504.3h0.9v0.9h-0.9zM143.7 506.9h0.9v0.9h-0.9zM141.4 514.5h0.9v0.9h-0.9zM147.0 516.8h0.9v0.9h-0.9zM149.6 513.9h0.9v0.9h-0.9zM149.7 523.4h0.9v0.9h-0.9zM152.6 512.4h0.9v0.9h-0.9zM147.6 508.2h0.9v0.9h-0.9zM147.7 504.5h0.9v0.9h-0.9zM133.5 516.0h0.9v0.9h-0.9zM145.4 511.8h0.9v0.9h-0.9zM144.1 507.7h0.9v0.9h-0.9zM147.9 511.2h0.9v0.9h-0.9zM142.8 508.8h0.9v0.9h-0.9zM132.7 512.9h0.9v0.9h-0.9zM140.9 520.3h0.9v0.9h-0.9zM140.9 508.4h0.9v0.9h-0.9zM135.8 510.8h0.9v0.9h-0.9zM138.7 524.4h0.9v0.9h-0.9zM142.9 504.8h0.9v0.9h-0.9zM137.7 519.5h0.9v0.9h-0.9zM137.9 510.1h0.9v0.9h-0.9zM142.5 508.6h0.9v0.9h-0.9zM142.3 522.5h0.9v0.9h-0.9zM151.6 516.3h0.9v0.9h-0.9zM141.1 513.5h0.9v0.9h-0.9zM135.9 508.0h0.9v0.9h-0.9zM147.9 503.0h0.9v0.9h-0.9zM142.8 522.1h0.9v0.9h-0.9zM133.3 505.8h0.9v0.9h-0.9zM145.2 525.2h0.9v0.9h-0.9zM140.2 517.5h0.9v0.9h-0.9zM150.4 519.2h0.9v0.9h-0.9zM140.3 513.3h0.9v0.9h-0.9zM133.5 505.3h0.9v0.9h-0.9zM138.0 512.3h0.9v0.9h-0.9zM134.4 503.1h0.9v0.9h-0.9z" fill="rgb(48,48,48)"/>
<path d="M150.7 519.6h0.9v0.9h-0.9zM143.0 510.0h0.9v0.9h-0.9zM142.5 519.4h0.9v0.9h-0.9zM143.2 509.2h0.9v0.9h-0.9zM150.1 512.4h0.9v0.9h-0.9zM145.2 508.4h0.9v0.9h-0.9zM144.6 510.1h0.9v0.9h-0.9zM134.6 518.7h0.9v0.9h-0.9zM138.3 520.3h0.9v0.9h-0.9zM131.7 518.1h0.9v0.9h-0.9zM148.8 514.9h0.9v0.9h-0.9zM135.1 513.8h0.9v0.9h-0.9zM146.1 516.6h0.9v0.9h-0.9zM146.6 516.8h0.9v0.9h-0.9zM152.3 519.8h0.9v0.9h-0.9zM137.3 507.3h0.9v0.9h-0.9zM143.1 512.1h0.9v0.9h-0.9zM139.2 506.7h0.9v0.9h-0.9zM153.5 516.1h0.9v0.9h-0.9zM139.8 507.2h0.9v0.9h-0.9zM140.6 511.6h0.9v0.9h-0.9zM141.3 520.2h0.9v0.9h-0.9zM143.8 523.6h0.9v0.9h-0.9zM137.2 513.7h0.9v0.9h-0.9zM145.5 507.2h0.9v0.9h-0.9zM150.9 513.3h0.9v0.9h-0.9zM137.2 512.9h0.9v0.9h-0.9zM141.4 505.1h0.9v0.9h-0.9zM146.7 507.8h0.9v0.9h-0.9zM139.6 523.8h0.9v0.9h-0.9zM140.6 517.2h0.9v0.9h-0.9zM145.5 519.9h0.9v0.9h-0.9zM147.8 504.1h0.9v0.9h-0.9zM145.2 511.5h0.9v0.9h-0.9zM141.9 526.1h0.9v0.9h-0.9zM147.2 523.1h0.9v0.9h-0.9zM149.1 516.3h0.9v0.9h-0.9zM140.9 506.6h0.9v0.9h-0.9zM133.0 521.6h0.9v0.9h-0.9zM140.0 526.9h0.9v0.9h-0.9zM141.2 524.2h0.9v0.9h-0.9zM140.9 526.1h0.9v0.9h-0.9zM157.7 510.0h0.9v0.9h-0.9zM145.8 516.4h0.9v0.9h-0.9zM147.2 525.2h0.9v0.9h-0.9zM133.5 519.5h0.9v0.9h-0.9zM144.3 514.7h0.9v0.9h-0.9zM143.2 521.1h0.9v0.9h-0.9zM145.8 509.9h0.9v0.9h-0.9zM141.7 516.3h0.9v0.9h-0.9zM135.9 509.5h0.9v0.9h-0.9zM149.2 505.5h0.9v0.9h-0.9zM136.3 504.9h0.9v0.9h-0.9z" fill="rgb(64,64,64)"/>
<path d="M144.2 513.3h0.9v0.9h-0.9zM149.2 519.8h0.9v0.9h-0.9zM143.3 514.8h0.9v0.9h-0.9zM148.2 505.6h0.9v0.9h-0.9zM143.4 506.8h0.9v0.9h-0.9zM131.6 519.9h0.9v0.9h-0.9zM145.7 517.6h0.9v0.9h-0.9zM140.7 507.4h0.9v0.9h-0.9zM145.1 514.2h0.9v0.9h-0.9zM146.0 512.1h0.9v0.9h-0.9zM147.2 509.5h0.9v0.9h-0.9zM143.1 504.5h0.9v0.9h-0.9zM150.6 507.0h0.9v0.9h-0.9zM144.0 506.5h0.9v0.9h-0.9zM148.1 520.1h0.9v0.9h-0.9zM143.2 519.1h0.9v0.9h-0.9zM136.4 517.5h0.9v0.9h-0.9zM139.7 501.1h0.9v0.9h-0.9zM138.6 511.7h0.9v0.9h-0.9zM142.5 502.4h0.9v0.9h-0.9zM142.9 513.0h0.9v0.9h-0.9zM152.7 514.2h0.9v0.9h-0.9zM135.9 522.6h0.9v0.9h-0.9zM137.7 521.5h0.9v0.9h-0.9zM139.4 519.8h0.9v0.9h-0.9zM138.0 521.0h0.9v0.9h-0.9zM143.2 512.8h0.9v0.9h-0.9zM137.8 520.5h0.9v0.9h-0.9zM137.6 507.2h0.9v0.9h-0.9zM139.9 505.2h0.9v0.9h-0.9zM141.6 511.4h0.9v0.9h-0.9zM138.8 522.2h0.9v0.9h-0.9zM140.9 509.7h0.9v0.9h-0.9zM143.7 527.7h0.9v0.9h-0.9zM144.2 524.9h0.9v0.9h-0.9zM142.8 510.8h0.9v0.9h-0.9zM133.3 511.9h0.9v0.9h-0.9zM146.7 509.2h0.9v0.9h-0.9zM148.0 524.3h0.9v0.9h-0.9zM155.6 511.2h0.9v0.9h-0.9zM138.2 523.1h0.9v0.9h-0.9zM144.3 518.0h0.9v0.9h-0.9zM138.4 507.9h0.9v0.9h-0.9zM146.0 504.3h0.9v0.9h-0.9zM148.7 521.1h0.9v0.9h-0.9zM139.5 503.2h0.9v0.9h-0.9zM145.7 512.4h0.9v0.9h-0.9zM142.4 511.2h0.9v0.9h-0.9zM134.4 516.1h0.9v0.9h-0.9zM142.0 514.8h0.9v0.9h-0.9zM147.4 509.9h0.9v0.9h-0.9zM135.8 510.2h0.9v0.9h-0.9zM141.3 514.3h0.9v0.9h-0.9zM140.0 505.2h0.9v0.9h-0.9zM142.6 511.1h0.9v0.9h-0.9zM150.4 509.2h0.9v0.9h-0.9zM140.5 500.9h0.9v0.9h-0.9zM130.8 508.0h0.9v0.9h-0.9zM140.2 518.0h0.9v0.9h-0.9zM134.9 512.0h0.9v0.9h-0.9zM138.6 499.7h0.9v0.9h-0.9zM137.7 519.5h0.9v0.9h-0.9zM143.6 516.1h0.9v0.9h-0.9zM141.8 518.9h0.9v0.9h-0.9zM135.3 512.8h0.9v0.9h-0.9zM135.7 513.0h0.9v0.9h-0.9zM143.3 510.8h0.9v0.9h-0.9zM151.2 509.7h0.9v0.9h-0.9z" fill="rgb(80,80,80)"/>
<path d="M140.7 522.9h0.9v0.9h-0.9zM140.4 516.7h0.9v0.9h-0.9zM150.0 511.8h0.9v0.9h-0.9zM139.9 511.4h0.9v0.9h-0.9zM149.3 516.2h0.9v0.9h-0.9zM132.9 512.7h0.9v0.9h-0.9zM151.9 515.5h0.9v0.9h-0.9zM139.7 509.4h0.9v0.9h-0.9zM138.7 522.2h0.9v0.9h-0.9zM147.3 505.3h0.9v0.9h-0.9zM142.4 523.5h0.9v0.9h-0.9zM150.8 506.6h0.9v0.9h-0.9zM145.7 510.3h0.9v0.9h-0.9zM141.2 510.6h0.9v0.9h-0.9zM137.8 511.8h0.9v0.9h-0.9zM147.9 515.6h0.9v0.9h-0.9zM137.3 512.8h0.9v0.9h-0.9zM131.7 516.7h0.9v0.9h-0.9zM146.9 521.0h0.9v0.9h-0.9zM140.7 522.2h0.9v0.9h-0.9zM144.0 515.4h0.9v0.9h-0.9zM132.1 523.3h0.9v0.9h-0.9zM143.1 521.7h0.9v0.9h-0.9zM141.8 509.0h0.9v0.9h-0.9zM139.6 515.4h0.9v0.9h-0.9zM139.2 507.6h0.9v0.9h-0.9zM132.8 519.4h0.9v0.9h-0.9zM135.6 520.7h0.9v0.9h-0.9zM153.0 514.9h0.9v0.9h-0.9zM153.1 526.3h0.9v0.9h-0.9zM146.6 519.9h0.9v0.9h-0.9zM146.2 516.7h0.9v0.9h-0.9zM137.8 517.4h0.9v0.9h-0.9zM143.0 515.4h0.9v0.9h-0.9zM143.1 525.6h0.9v0.9h-0.9zM142.8 515.2h0.9v0.9h-0.9zM140.0 515.5h0.9v0.9h-0.9zM147.6 511.2h0.9v0.9h-0.9zM134.3 501.5h0.9v0.9h-0.9zM143.2 511.1h0.9v0.9h-0.9zM148.4 511.2h0.9v0.9h-0.9zM139.8 512.7h0.9v0.9h-0.9zM143.4 515.8h0.9v0.9h-0.9zM141.1 512.0h0.9v0.9h-0.9zM140.8 505.7h0.9v0.9h-0.9zM145.4 509.5h0.9v0.9h-0.9zM132.1 508.0h0.9v0.9h-0.9zM141.5 513.5h0.9v0.9h-0.9zM142.3 514.9h0.9v0.9h-0.9zM148.2 501.2h0.9v0.9h-0.9zM143.8 520.5h0.9v0.9h-0.9zM147.1 512.0h0.9v0.9h-0.9zM131.2 504.8h0.9v0.9h-0.9zM132.7 511.9h0.9v0.9h-0.9zM140.0 521.9h0.9v0.9h-0.9zM138.4 504.5h0.9v0.9h-0.9zM141.3 512.6h0.9v0.9h-0.9zM137.2 522.6h0.9v0.9h-0.9zM142.7 522.5h0.9v0.9h-0.9zM147.9 514.0h0.9v0.9h-0.9zM138.6 515.9h0.9v0.9h-0.9zM142.8 515.7h0.9v0.9h-0.9zM149.8 522.3h0.9v0.9h-0.9z" fill="rgb(96,96,96)"/>
<path d="M139.8 513.9h0.9v0.9h-0.9zM149.5 525.3h0.9v0.9h-0.9zM133.2 521.3h0.9v0.9h-0.9zM142.0 503.6h0.9v0.9h-0.9zM149.5 506.3h0.9v0.9h-0.9zM141.3 510.8h0.9v0.9h-0.9zM147.1 512.6h0.9v0.9h-0.9zM150.2 516.3h0.9v0.9h-0.9zM134.2 514.8h0.9v0.9h-0.9zM153.1 521.4h0.9v0.9h-0.9zM143.5 514.5h0.9v0.9h-0.9zM137.7 521.7h0.9v0.9h-0.9zM147.0 521.8h0.9v0.9h-0.9zM149.1 518.7h0.9v0.9h-0.9zM151.2 516.2h0.9v0.9h-0.9zM141.9 510.0h0.9v0.9h-0.9zM138.5 517.5h0.9v0.9h-0.9zM133.2 512.6h0.9v0.9h-0.9zM146.3 507.1h0.9v0.9h-0.9zM144.5 515.9h0.9v0.9h-0.9zM155.3 510.4h0.9v0.9h-0.9zM149.1 513.0h0.9v0.9h-0.9zM136.4 516.3h0.9v0.9h-0.9zM143.2 512.7h0.9v0.9h-0.9zM149.1 516.2h0.9v0.9h-0.9zM144.0 506.0h0.9v0.9h-0.9zM140.2 505.5h0.9v0.9h-0.9zM144.4 520.0h0.9v0.9h-0.9zM149.5 513.7h0.9v0.9h-0.9zM140.2 521.0h0.9v0.9h-0.9zM143.1 509.6h0.9v0.9h-0.9zM141.7 509.2h0.9v0.9h-0.9zM147.8 520.5h0.9v0.9h-0.9zM144.9 523.5h0.9v0.9h-0.9zM152.6 518.6h0.9v0.9h-0.9zM140.4 511.2h0.9v0.9h-0.9zM144.6 513.0h0.9v0.9h-0.9zM142.4 516.1h0.9v0.9h-0.9zM135.1 511.7h0.9v0.9h-0.9zM147.6 520.5h0.9v0.9h-0.9zM144.8 505.6h0.9v0.9h-0.9zM138.8 520.5h0.9v0.9h-0.9zM142.9 511.5h0.9v0.9h-0.9zM148.7 514.1h0.9v0.9h-0.9zM148.8 518.1h0.9v0.9h-0.9zM141.7 505.0h0.9v0.9h-0.9zM149.7 514.5h0.9v0.9h-0.9zM139.4 520.5h0.9v0.9h-0.9zM141.4 520.0h0.9v0.9h-0.9zM137.8 516.2h0.9v0.9h-0.9zM135.0 512.5h0.9v0.9h-0.9zM140.4 513.0h0.9v0.9h-0.9z" fill="rgb(112,112,112)"/>
<path d="M133.5 510.0h0.9v0.9h-0.9zM133.4 499.8h0.9v0.9h-0.9zM135.2 506.9h0.9v0.9h-0.9zM144.6 519.0h0.9v0.9h-0.9zM154.0 521.5h0.9v0.9h-0.9zM156.0 511.5h0.9v0.9h-0.9zM150.1 524.0h0.9v0.9h-0.9zM138.9 519.7h0.9v0.9h-0.9zM138.3 518.1h0.9v0.9h-0.9zM140.2 514.9h0.9v0.9h-0.9zM139.1 512.1h0.9v0.9h-0.9zM139.0 508.8h0.9v0.9h-0.9zM143.3 520.3h0.9v0.9h-0.9zM135.7 518.5h0.9v0.9h-0.9zM131.0 518.3h0.9v0.9h-0.9zM138.8 515.8h0.9v0.9h-0.9zM154.9 517.6h0.9v0.9h-0.9zM141.4 507.3h0.9v0.9h-0.9zM149.5 516.6h0.9v0.9h-0.9zM138.8 515.7h0.9v0.9h-0.9zM148.9 514.4h0.9v0.9h-0.9zM142.2 508.3h0.9v0.9h-0.9zM139.1 515.5h0.9v0.9h-0.9zM129.5 509.9h0.9v0.9h-0.9zM147.7 523.5h0.9v0.9h-0.9zM140.2 520.0h0.9v0.9h-0.9zM145.6 515.3h0.9v0.9h-0.9zM142.7 506.8h0.9v0.9h-0.9zM143.6 520.6h0.9v0.9h-0.9zM134.5 519.8h0.9v0.9h-0.9zM144.6 511.9h0.9v0.9h-0.9zM134.5 511.0h0.9v0.9h-0.9zM139.0 515.7h0.9v0.9h-0.9zM142.4 517.6h0.9v0.9h-0.9zM143.1 512.5h0.9v0.9h-0.9zM134.3 522.0h0.9v0.9h-0.9zM141.4 519.1h0.9v0.9h-0.9zM150.1 510.6h0.9v0.9h-0.9zM142.4 519.1h0.9v0.9h-0.9zM146.5 519.8h0.9v0.9h-0.9zM138.2 509.8h0.9v0.9h-0.9zM142.9 515.3h0.9v0.9h-0.9zM140.1 516.6h0.9v0.9h-0.9zM149.4 513.6h0.9v0.9h-0.9zM133.9 523.7h0.9v0.9h-0.9zM143.0 509.0h0.9v0.9h-0.9zM138.3 509.5h0.9v0.9h-0.9zM139.5 508.4h0.9v0.9h-0.9zM142.8 519.5h0.9v0.9h-0.9zM147.7 522.3h0.9v0.9h-0.9zM145.2 504.1h0.9v0.9h-0.9z" fill="rgb(128,128,128)"/>
<path d="M143.0 519.4h0.9v0.9h-0.9zM147.1 511.0h0.9v0.9h-0.9zM144.1 505.0h0.9v0.9h-0.9zM143.0 515.0h0.9v0.9h-0.9zM144.5 514.3h0.9v0.9h-0.9zM141.1 517.8h0.9v0.9h-0.9z" fill="rgb(144,144,144)"/>
<path d="M163.2 519.8h0.9v0.9h-0.9zM158.2 519.1h0.9v0.9h-0.9z" fill="rgb(32,32,32)"/>
<path d="M149.8 512.4h0.9v0.9h-0.9zM160.4 521.8h0.9v0.9h-0.9zM160.1 510.4h0.9v0.9h-0.9zM163.2 499.1h0.9v0.9h-0.9zM164.1 514.6h0.9v0.9h-0.9zM151.6 513.9h0.9v0.9h-0.9zM153.5 516.8h0.9v0.9h-0.9zM156.1 516.6h0.9v0.9h-0.9zM154.5 503.5h0.9v0.9h-0.9zM160.5 509.7h0.9v0.9h-0.9zM155.3 518.8h0.9v0.9h-0.9zM163.2 517.5h0.9v0.9h-0.9zM159.6 522.1h0.9v0.9h-0.9zM150.8 501.8h0.9v0.9h-0.9zM149.1 514.8h0.9v0.9h-0.9zM157.5 520.0h0.9v0.9h-0.9zM153.9 508.6h0.9v0.9h-0.9zM158.7 514.5h0.9v0.9h-0.9zM161.8 504.9h0.9v0.9h-0.9zM153.1 507.3h0.9v0.9h-0.9zM158.4 504.7h0.9v0.9h-0.9zM165.2 521.2h0.9v0.9h-0.9z" fill="rgb(48,48,48)"/>
<path d="M156.3 516.8h0.9v0.9h-0.9zM158.9 516.8h0.9v0.9h-0.9zM156.3 515.0h0.9v0.9h-0.9zM155.0 519.3h0.9v0.9h-0.9zM148.6 514.6h0.9v0.9h-0.9zM147.1 511.7h0.9v0.9h-0.9zM156.0 512.1h0.9v0.9h-0.9zM164.8 505.7h0.9v0.9h-0.9zM160.4 503.2h0.9v0.9h-0.9zM158.1 513.5h0.9v0.9h-0.9zM161.9 508.6h0.9v0.9h-0.9zM157.1 514.0h0.9v0.9h-0.9zM146.1 519.9h0.9v0.9h-0.9zM153.5 510.1h0.9v0.9h-0.9zM164.5 517.8h0.9v0.9h-0.9zM159.4 508.7h0.9v0.9h-0.9zM160.9 512.6h0.9v0.9h-0.9zM154.5 508.9h0.9v0.9h-0.9zM149.7 520.1h0.9v0.9h-0.9zM157.4 514.4h0.9v0.9h-0.9zM159.3 511.6h0.9v0.9h-0.9zM160.8 517.2h0.9v0.9h-0.9zM158.3 519.2h0.9v0.9h-0.9zM165.8 512.9h0.9v0.9h-0.9zM158.8 513.5h0.9v0.9h-0.9zM164.5 506.9h0.9v0.9h-0.9zM162.2 506.3h0.9v0.9h-0.9zM166.3 520.5h0.9v0.9h-0.9zM163.9 521.0h0.9v0.9h-0.9zM166.4 511.6h0.9v0.9h-0.9zM161.4 508.0h0.9v0.9h-0.9zM158.7 509.6h0.9v0.9h-0.9z" fill="rgb(64,64,64)"/>
<path d="M158.0 510.2h0.9v0.9h-0.9zM162.8 501.9h0.9v0.9h-0.9zM157.7 510.9h0.9v0.9h-0.9zM166.0 506.9h0.9v0.9h-0.9zM154.2 516.9h0.9v0.9h-0.9zM166.4 507.7h0.9v0.9h-0.9zM158.1 516.0h0.9v0.9h-0.9zM162.6 516.9h0.9v0.9h-0.9zM161.7 515.6h0.9v0.9h-0.9zM161.4 502.8h0.9v0.9h-0.9zM160.5 520.7h0.9v0.9h-0.9zM164.5 516.4h0.9v0.9h-0.9zM151.8 510.7h0.9v0.9h-0.9zM169.5 511.8h0.9v0.9h-0.9zM157.2 516.1h0.9v0.9h-0.9zM151.8 522.8h0.9v0.9h-0.9zM165.8 499.3h0.9v0.9h-0.9zM162.9 513.0h0.9v0.9h-0.9zM156.3 522.3h0.9v0.9h-0.9zM152.5 514.4h0.9v0.9h-0.9zM156.1 504.2h0.9v0.9h-0.9zM157.6 506.8h0.9v0.9h-0.9zM154.7 519.2h0.9v0.9h-0.9zM154.0 499.5h0.9v0.9h-0.9zM163.2 508.7h0.9v0.9h-0.9zM158.8 512.5h0.9v0.9h-0.9zM161.4 517.8h0.9v0.9h-0.9zM154.0 505.1h0.9v0.9h-0.9zM160.1 513.5h0.9v0.9h-0.9zM164.7 507.2h0.9v0.9h-0.9zM162.1 511.6h0.9v0.9h-0.9z" fill="rgb(80,80,80)"/>
<path d="M153.4 505.1h0.9v0.9h-0.9zM156.3 503.4h0.9v0.9h-0.9zM149.3 521.1h0.9v0.9h-0.9zM152.3 504.5h0.9v0.9h-0.9zM157.5 515.6h0.9v0.9h-0.9zM159.2 508.9h0.9v0.9h-0.9zM163.3 508.4h0.9v0.9h-0.9zM158.2 504.4h0.9v0.9h-0.9zM158.8 514.0h0.9v0.9h-0.9zM156.8 516.1h0.9v0.9h-0.9zM166.3 511.7h0.9v0.9h-0.9zM156.3 506.5h0.9v0.9h-0.9zM166.4 509.3h0.9v0.9h-0.9zM150.2 509.9h0.9v0.9h-0.9zM160.8 514.0h0.9v0.9h-0.9zM160.5 515.4h0.9v0.9h-0.9zM160.8 505.5h0.9v0.9h-0.9zM154.8 506.6h0.9v0.9h-0.9zM154.8 516.2h0.9v0.9h-0.9zM157.6 506.5h0.9v0.9h-0.9zM159.9 520.6h0.9v0.9h-0.9zM167.4 524.0h0.9v0.9h-0.9zM151.9 514.3h0.9v0.9h-0.9zM156.3 511.4h0.9v0.9h-0.9zM154.0 511.2h0.9v0.9h-0.9zM157.8 513.8h0.9v0.9h-0.9zM155.3 515.4h0.9v0.9h-0.9zM160.1 514.8h0.9v0.9h-0.9zM150.8 498.3h0.9v0.9h-0.9zM147.1 505.9h0.9v0.9h-0.9zM165.5 505.9h0.9v0.9h-0.9zM146.4 520.4h0.9v0.9h-0.9zM148.3 511.6h0.9v0.9h-0.9zM156.6 514.4h0.9v0.9h-0.9zM157.8 521.2h0.9v0.9h-0.9zM162.0 526.1h0.9v0.9h-0.9zM157.5 509.9h0.9v0.9h-0.9zM159.9 511.1h0.9v0.9h-0.9zM166.2 515.3h0.9v0.9h-0.9zM158.7 516.5h0.9v0.9h-0.9zM157.8 508.5h0.9v0.9h-0.9zM161.7 514.9h0.9v0.9h-0.9zM162.7 506.0h0.9v0.9h-0.9zM155.4 514.6h0.9v0.9h-0.9zM155.1 508.9h0.9v0.9h-0.9zM156.9 515.9h0.9v0.9h-0.9zM162.2 515.7h0.9v0.9h-0.9zM158.7 513.0h0.9v0.9h-0.9zM159.2 515.7h0.9v0.9h-0.9zM164.9 516.8h0.9v0.9h-0.9zM154.6 512.6h0.9v0.9h-0.9zM155.3 507.8h0.9v0.9h-0.9zM158.5 524.0h0.9v0.9h-0.9zM154.5 518.2h0.9v0.9h-0.9zM156.3 511.6h0.9v0.9h-0.9z" fill="rgb(96,96,96)"/>
<path d="M157.1 507.8h0.9v0.9h-0.9zM161.9 513.0h0.9v0.9h-0.9zM169.7 514.5h0.9v0.9h-0.9zM159.1 505.7h0.9v0.9h-0.9zM159.4 521.0h0.9v0.9h-0.9zM167.2 520.0h0.9v0.9h-0.9zM159.4 518.8h0.9v0.9h-0.9zM162.2 521.6h0.9v0.9h-0.9zM158.6 520.7h0.9v0.9h-0.9zM152.0 522.0h0.9v0.9h-0.9zM161.0 512.3h0.9v0.9h-0.9zM150.9 511.2h0.9v0.9h-0.9zM164.3 512.2h0.9v0.9h-0.9zM167.2 518.3h0.9v0.9h-0.9zM160.2 514.1h0.9v0.9h-0.9zM162.0 508.7h0.9v0.9h-0.9zM169.5 516.0h0.9v0.9h-0.9zM165.4 523.8h0.9v0.9h-0.9zM153.0 518.4h0.9v0.9h-0.9zM161.3 516.0h0.9v0.9h-0.9zM161.6 510.7h0.9v0.9h-0.9zM155.4 520.3h0.9v0.9h-0.9zM158.8 510.0h0.9v0.9h-0.9zM162.6 515.9h0.9v0.9h-0.9zM157.1 509.7h0.9v0.9h-0.9zM156.3 522.0h0.9v0.9h-0.9zM159.1 518.3h0.9v0.9h-0.9zM163.1 507.1h0.9v0.9h-0.9zM165.8 521.2h0.9v0.9h-0.9zM150.2 513.2h0.9v0.9h-0.9zM152.1 504.9h0.9v0.9h-0.9zM159.7 514.7h0.9v0.9h-0.9zM159.0 513.1h0.9v0.9h-0.9zM155.0 520.7h0.9v0.9h-0.9zM164.7 512.5h0.9v0.9h-0.9zM160.7 514.8h0.9v0.9h-0.9zM160.4 511.2h0.9v0.9h-0.9z" fill="rgb(112,112,112)"/>
<path d="M148.1 507.0h0.9v0.9h-0.9zM161.1 512.7h0.9v0.9h-0.9zM163.5 509.0h0.9v0.9h-0.9zM161.1 506.6h0.9v0.9h-0.9zM161.2 511.9h0.9v0.9h-0.9zM156.8 511.3h0.9v0.9h-0.9zM157.3 522.4h0.9v0.9h-0.9zM160.4 510.2h0.9v0.9h-0.9zM159.4 520.0h0.9v0.9h-0.9zM154.9 509.5h0.9v0.9h-0.9zM162.7 510.3h0.9v0.9h-0.9zM154.5 517.6h0.9v0.9h-0.9zM151.4 510.3h0.9v0.9h-0.9zM159.8 521.2h0.9v0.9h-0.9zM159.4 508.7h0.9v0.9h-0.9zM156.6 518.9h0.9v0.9h-0.9zM163.0 514.6h0.9v0.9h-0.9zM157.1 519.5h0.9v0.9h-0.9zM160.3 512.2h0.9v0.9h-0.9zM162.3 511.9h0.9v0.9h-0.9zM163.0 515.2h0.9v0.9h-0.9zM164.9 515.0h0.9v0.9h-0.9zM163.6 516.0h0.9v0.9h-0.9zM162.4 515.4h0.9v0.9h-0.9zM165.3 510.3h0.9v0.9h-0.9zM163.3 511.4h0.9v0.9h-0.9zM160.8 510.8h0.9v0.9h-0.9zM162.4 498.8h0.9v0.9h-0.9zM154.6 515.2h0.9v0.9h-0.9zM158.2 508.9h0.9v0.9h-0.9zM162.0 513.4h0.9v0.9h-0.9z" fill="rgb(128,128,128)"/>
<path d="M159.0 514.5h0.9v0.9h-0.9zM159.4 506.7h0.9v0.9h-0.9zM161.3 522.1h0.9v0.9h-0.9zM151.6 508.8h0.9v0.9h-0.9zM155.3 517.0h0.9v0.9h-0.9zM151.3 503.9h0.9v0.9h-0.9zM157.2 521.4h0.9v0.9h-0.9zM151.8 504.2h0.9v0.9h-0.9zM156.5 515.9h0.9v0.9h-0.9zM160.6 521.3h0.9v0.9h-0.9zM161.0 508.3h0.9v0.9h-0.9zM155.2 518.8h0.9v0.9h-0.9zM160.4 516.1h0.9v0.9h-0.9zM168.0 504.9h0.9v0.9h-0.9zM157.9 520.3h0.9v0.9h-0.9zM158.0 508.6h0.9v0.9h-0.9zM161.8 520.6h0.9v0.9h-0.9zM155.7 517.8h0.9v0.9h-0.9zM157.5 511.0h0.9v0.9h-0.9zM152.0 510.0h0.9v0.9h-0.9zM166.5 510.0h0.9v0.9h-0.9zM157.0 505.5h0.9v0.9h-0.9zM161.9 508.0h0.9v0.9h-0.9z" fill="rgb(144,144,144)"/>
<path d="M153.4 483.6h0.9v0.9h-0.9zM174.3 484.4h0.9v0.9h-0.9zM167.9 483.3h0.9v0.9h-0.9zM173.1 488.8h0.9v0.9h-0.9zM164.1 488.1h0.9v0.9h-0.9z" fill="rgb(144,144,144)"/>
<path d="M169.9 480.0h0.9v0.9h-0.9zM147.0 476.9h0.9v0.9h-0.9zM158.6 488.1h0.9v0.9h-0.9zM153.5 485.9h0.9v0.9h-0.9z" fill="rgb(160,160,160)"/>
<path d="M153.9 491.5h0.9v0.9h-0.9zM164.4 484.1h0.9v0.9h-0.9zM162.5 476.7h0.9v0.9h-0.9zM154.0 487.3h0.9v0.9h-0.9zM160.4 481.1h0.9v0.9h-0.9zM160.6 492.8h0.9v0.9h-0.9zM158.0 482.3h0.9v0.9h-0.9zM150.2 483.2h0.9v0.9h-0.9zM163.1 485.8h0.9v0.9h-0.9z" fill="rgb(176,176,176)"/>
<path d="M159.4 482.5h0.9v0.9h-0.9zM158.6 488.4h0.9v0.9h-0.9zM162.4 490.4h0.9v0.9h-0.9z" fill="rgb(192,192,192)"/>
<path d="M163.5 496.0h0.9v0.9h-0.9zM163.1 491.5h0.9v0.9h-0.9zM166.9 480.3h0.9v0.9h-0.9zM163.0 477.2h0.9v0.9h-0.9z" fill="rgb(208,208,208)"/>
<path d="M144.8 510.1h0.9v0.9h-0.9zM140.4 500.3h0.9v0.9h-0.9zM139.3 501.0h0.9v0.9h-0.9zM146.2 516.3h0.9v0.9h-0.9zM135.2 487.7h0.9v0.9h-0.9zM151.6 481.0h0.9v0.9h-0.9zM146.3 509.3h0.9v0.9h-0.9zM158.2 479.1h0.9v0.9h-0.9zM146.0 505.9h0.9v0.9h-0.9zM138.4 491.6h0.9v0.9h-0.9zM131.3 512.9h0.9v0.9h-0.9zM148.5 490.8h0.9v0.9h-0.9zM139.5 502.5h0.9v0.9h-0.9z" fill="rgb(112,112,112)"/>
<path d="M155.9 491.9h0.9v0.9h-0.9zM151.2 477.9h0.9v0.9h-0.9zM135.2 508.9h0.9v0.9h-0.9zM142.0 493.9h0.9v0.9h-0.9zM141.3 496.0h0.9v0.9h-0.9zM146.6 479.2h0.9v0.9h-0.9zM146.1 492.5h0.9v0.9h-0.9zM134.8 490.3h0.9v0.9h-0.9zM147.6 501.5h0.9v0.9h-0.9zM136.6 481.9h0.9v0.9h-0.9zM141.8 505.9h0.9v0.9h-0.9zM166.8 512.2h0.9v0.9h-0.9zM144.5 492.9h0.9v0.9h-0.9zM137.5 490.3h0.9v0.9h-0.9zM151.4 494.5h0.9v0.9h-0.9zM164.9 485.9h0.9v0.9h-0.9zM137.3 487.1h0.9v0.9h-0.9zM154.2 492.6h0.9v0.9h-0.9zM130.0 514.0h0.9v0.9h-0.9z" fill="rgb(128,128,128)"/>
<path d="M147.4 497.9h0.9v0.9h-0.9zM137.8 516.8h0.9v0.9h-0.9zM143.2 482.1h0.9v0.9h-0.9zM130.8 507.6h0.9v0.9h-0.9zM152.6 509.0h0.9v0.9h-0.9zM155.6 499.1h0.9v0.9h-0.9zM156.2 501.0h0.9v0.9h-0.9zM147.9 505.6h0.9v0.9h-0.9zM147.3 497.8h0.9v0.9h-0.9zM133.2 501.1h0.9v0.9h-0.9zM144.6 495.8h0.9v0.9h-0.9zM133.4 504.8h0.9v0.9h-0.9zM144.1 489.4h0.9v0.9h-0.9zM152.2 495.2h0.9v0.9h-0.9zM143.3 489.1h0.9v0.9h-0.9z" fill="rgb(144,144,144)"/>
<path d="M161.0 498.1h0.9v0.9h-0.9zM144.1 503.2h0.9v0.9h-0.9zM139.4 497.2h0.9v0.9h-0.9zM150.4 501.0h0.9v0.9h-0.9zM140.9 488.8h0.9v0.9h-0.9zM131.8 500.4h0.9v0.9h-0.9zM141.5 515.3h0.9v0.9h-0.9zM157.6 497.4h0.9v0.9h-0.9zM149.2 506.7h0.9v0.9h-0.9zM153.1 512.4h0.9v0.9h-0.9z" fill="rgb(160,160,160)"/>
<path d="M140.7 495.3h0.9v0.9h-0.9zM141.7 510.4h0.9v0.9h-0.9zM168.2 510.5h0.9v0.9h-0.9zM138.9 470.5h0.9v0.9h-0.9zM138.9 517.0h0.9v0.9h-0.9zM147.0 492.9h0.9v0.9h-0.9zM133.6 494.8h0.9v0.9h-0.9zM142.4 493.8h0.9v0.9h-0.9zM134.6 501.7h0.9v0.9h-0.9zM139.0 504.3h0.9v0.9h-0.9zM165.4 521.5h0.9v0.9h-0.9zM137.0 497.5h0.9v0.9h-0.9zM143.9 528.0h0.9v0.9h-0.9z" fill="rgb(176,176,176)"/>
<path d="M153.5 527.0h0.9v0.9h-0.9zM136.2 479.0h0.9v0.9h-0.9zM148.3 492.1h0.9v0.9h-0.9zM138.5 509.1h0.9v0.9h-0.9zM136.4 497.7h0.9v0.9h-0.9zM159.7 491.7h0.9v0.9h-0.9zM146.3 487.2h0.9v0.9h-0.9zM147.4 478.4h0.9v0.9h-0.9zM153.7 478.7h0.9v0.9h-0.9zM144.5 508.3h0.9v0.9h-0.9zM163.8 505.0h0.9v0.9h-0.9z" fill="rgb(192,192,192)"/>
<rect x="41.00" y="373.30" width="1.80" height="3.60" fill="#cfcfcf" stroke="none" stroke-width="0" />
<rect x="44.30" y="376.90" width="3.20" height="1.60" fill="#cfcfcf" stroke="none" stroke-width="0" />
<rect x="41.00" y="357.65" width="1.80" height="3.60" fill="#cfcfcf" stroke="none" stroke-width="0" />
<rect x="60.00" y="376.90" width="3.20" height="1.60" fill="#cfcfcf" stroke="none" stroke-width="0" />
<rect x="41.00" y="342.00" width="1.80" height="3.60" fill="#cfcfcf" stroke="none" stroke-width="0" />
<rect x="75.70" y="376.90" width="3.20" height="1.60" fill="#cfcfcf" stroke="none" stroke-width="0" />
<rect x="41.00" y="326.35" width="1.80" height="3.60" fill="#cfcfcf" stroke="none" stroke-width="0" />
<rect x="91.40" y="376.90" width="3.20" height="1.60" fill="#cfcfcf" stroke="none" stroke-width="0" />
<rect x="41.00" y="310.70" width="1.80" height="3.60" fill="#cfcfcf" stroke="none" stroke-width="0" />
<rect x="107.10" y="376.90" width="3.20" height="1.60" fill="#cfcfcf" stroke="none" stroke-width="0" />
<rect x="74.60" y="379.90" width="2.40" height="1.40" fill="#dddddd" stroke="none" stroke-width="0" />
<rect x="38.20" y="341.50" width="1.40" height="5.00" fill="#dddddd" stroke="none" stroke-width="0" />
<rect x="125.10" y="373.40" width="1.80" height="3.60" fill="#cfcfcf" stroke="none" stroke-width="0" />
<rect x="128.40" y="377.00" width="3.20" height="1.60" fill="#cfcfcf" stroke="none" stroke-width="0" />
<rect x="125.10" y="357.72" width="1.80" height="3.60" fill="#cfcfcf" stroke="none" stroke-width="0" />
<rect x="144.08" y="377.00" width="3.20" height="1.60" fill="#cfcfcf" stroke="none" stroke-width="0" />
<rect x="125.10" y="342.05" width="1.80" height="3.60" fill="#cfcfcf" stroke="none" stroke-width="0" />
<rect x="159.75" y="377.00" width="3.20" height="1.60" fill="#cfcfcf" stroke="none" stroke-width="0" />
<rect x="125.10" y="326.38" width="1.80" height="3.60" fill="#cfcfcf" stroke="none" stroke-width="0" />
<rect x="175.42" y="377.00" width="3.20" height="1.60" fill="#cfcfcf" stroke="none" stroke-width="0" />
<rect x="125.10" y="310.70" width="1.80" height="3.60" fill="#cfcfcf" stroke="none" stroke-width="0" />
<rect x="191.10" y="377.00" width="3.20" height="1.60" fill="#cfcfcf" stroke="none" stroke-width="0" />
<rect x="158.65" y="380.00" width="2.40" height="1.40" fill="#dddddd" stroke="none" stroke-width="0" />
<rect x="122.30" y="341.55" width="1.40" height="5.00" fill="#dddddd" stroke="none" stroke-width="0" />
<rect x="40.90" y="451.10" width="1.80" height="3.60" fill="#cfcfcf" stroke="none" stroke-width="0" />
<rect x="44.20" y="454.70" width="3.20" height="1.60" fill="#cfcfcf" stroke="none" stroke-width="0" />
<rect x="40.90" y="435.53" width="1.80" height="3.60" fill="#cfcfcf" stroke="none" stroke-width="0" />
<rect x="59.90" y="454.70" width="3.20" height="1.60" fill="#cfcfcf" stroke="none" stroke-width="0" />
<rect x="40.90" y="419.95" width="1.80" height="3.60" fill="#cfcfcf" stroke="none" stroke-width="0" />
<rect x="75.60" y="454.70" width="3.20" height="1.60" fill="#cfcfcf" stroke="none" stroke-width="0" />
<rect x="40.90" y="404.38" width="1.80" height="3.60" fill="#cfcfcf" stroke="none" stroke-width="0" />
<rect x="91.30" y="454.70" width="3.20" height="1.60" fill="#cfcfcf" stroke="none" stroke-width="0" />
<rect x="40.90" y="388.80" width="1.80" height="3.60" fill="#cfcfcf" stroke="none" stroke-width="0" />
<rect x="107.00" y="454.70" width="3.20" height="1.60" fill="#cfcfcf" stroke="none" stroke-width="0" />
<rect x="74.50" y="457.70" width="2.40" height="1.40" fill="#dddddd" stroke="none" stroke-width="0" />
<rect x="38.10" y="419.45" width="1.40" height="5.00" fill="#dddddd" stroke="none" stroke-width="0" />
<rect x="124.90" y="451.10" width="1.80" height="3.60" fill="#cfcfcf" stroke="none" stroke-width="0" />
<rect x="128.20" y="454.70" width="3.20" height="1.60" fill="#cfcfcf" stroke="none" stroke-width="0" />
<rect x="124.90" y="435.58" width="1.80" height="3.60" fill="#cfcfcf" stroke="none" stroke-width="0" />
<rect x="143.98" y="454.70" width="3.20" height="1.60" fill="#cfcfcf" stroke="none" stroke-width="0" />
<rect x="124.90" y="420.05" width="1.80" height="3.60" fill="#cfcfcf" stroke="none" stroke-width="0" />
<rect x="159.75" y="454.70" width="3.20" height="1.60" fill="#cfcfcf" stroke="none" stroke-width="0" />
<rect x="124.90" y="404.52" width="1.80" height="3.60" fill="#cfcfcf" stroke="none" stroke-width="0" />
<rect x="175.53" y="454.70" width="3.20" height="1.60" fill="#cfcfcf" stroke="none" stroke-width="0" />
<rect x="124.90" y="389.00" width="1.80" height="3.60" fill="#cfcfcf" stroke="none" stroke-width="0" />
<rect x="191.30" y="454.70" width="3.20" height="1.60" fill="#cfcfcf" stroke="none" stroke-width="0" />
<rect x="158.65" y="457.70" width="2.40" height="1.40" fill="#dddddd" stroke="none" stroke-width="0" />
<rect x="122.10" y="419.55" width="1.40" height="5.00" fill="#dddddd" stroke="none" stroke-width="0" />
<rect x="40.90" y="527.80" width="1.80" height="3.60" fill="#cfcfcf" stroke="none" stroke-width="0" />
<rect x="44.20" y="531.40" width="3.20" height="1.60" fill="#cfcfcf" stroke="none" stroke-width="0" />
<rect x="40.90" y="512.10" width="1.80" height="3.60" fill="#cfcfcf" stroke="none" stroke-width="0" />
<rect x="59.90" y="531.40" width="3.20" height="1.60" fill="#cfcfcf" stroke="none" stroke-width="0" />
<rect x="40.90" y="496.40" width="1.80" height="3.60" fill="#cfcfcf" stroke="none" stroke-width="0" />
<rect x="75.60" y="531.40" width="3.20" height="1.60" fill="#cfcfcf" stroke="none" stroke-width="0" />
<rect x="40.90" y="480.70" width="1.80" height="3.60" fill="#cfcfcf" stroke="none" stroke-width="0" />
<rect x="91.30" y="531.40" width="3.20" height="1.60" fill="#cfcfcf" stroke="none" stroke-width="0" />
<rect x="40.90" y="465.00" width="1.80" height="3.60" fill="#cfcfcf" stroke="none" stroke-width="0" />
<rect x="107.00" y="531.40" width="3.20" height="1.60" fill="#cfcfcf" stroke="none" stroke-width="0" />
<rect x="74.50" y="534.40" width="2.40" height="1.40" fill="#dddddd" stroke="none" stroke-width="0" />
<rect x="38.10" y="495.90" width="1.40" height="5.00" fill="#dddddd" stroke="none" stroke-width="0" />
<rect x="124.90" y="527.80" width="1.80" height="3.60" fill="#cfcfcf" stroke="none" stroke-width="0" />
<rect x="128.20" y="531.40" width="3.20" height="1.60" fill="#cfcfcf" stroke="none" stroke-width="0" />
<rect x="124.90" y="512.10" width="1.80" height="3.60" fill="#cfcfcf" stroke="none" stroke-width="0" />
<rect x="143.98" y="531.40" width="3.20" height="1.60" fill="#cfcfcf" stroke="none" stroke-width="0" />
<rect x="124.90" y="496.40" width="1.80" height="3.60" fill="#cfcfcf" stroke="none" stroke-width="0" />
<rect x="159.75" y="531.40" width="3.20" height="1.60" fill="#cfcfcf" stroke="none" stroke-width="0" />
<rect x="124.90" y="480.70" width="1.80" height="3.60" fill="#cfcfcf" stroke="none" stroke-width="0" />
<rect x="175.53" y="531.40" width="3.20" height="1.60" fill="#cfcfcf" stroke="none" stroke-width="0" />
<rect x="124.90" y="465.00" width="1.80" height="3.60" fill="#cfcfcf" stroke="none" stroke-width="0" />
<rect x="191.30" y="531.40" width="3.20" height="1.60" fill="#cfcfcf" stroke="none" stroke-width="0" />
<rect x="158.65" y="534.40" width="2.40" height="1.40" fill="#dddddd" stroke="none" stroke-width="0" />
<rect x="122.10" y="495.90" width="1.40" height="5.00" fill="#dddddd" stroke="none" stroke-width="0" />
<line x1="30.90" y1="322.00" x2="30.90" y2="527.40" stroke="#000" stroke-width="1.6" />
<path d="M30.9,318.2 L33.3,323.2 L28.5,323.2 Z" fill="#000" stroke="none" stroke-width="0" />
<text x="24.3" y="421" font-size="12.6" font-weight="bold" text-anchor="middle" fill="#000" transform="rotate(-90 24.3 421)" letter-spacing="0.2">CD8</text>
<line x1="30.20" y1="542.00" x2="198.00" y2="542.00" stroke="#000" stroke-width="1.6" />
<path d="M202.6,542 L197.5,539.7 L197.5,544.3 Z" fill="#000" stroke="none" stroke-width="0" />
<text x="119.5" y="555.6" font-size="12.8" font-weight="bold" text-anchor="middle" fill="#000" letter-spacing="0.2">CD4</text>
<text x="200.3" y="349" font-size="11.2" font-weight="bold" text-anchor="start" fill="#000" >Thymus</text>
<text x="199.4" y="426.5" font-size="11.2" font-weight="bold" text-anchor="start" fill="#000" >Spleen</text>
<text x="199.4" y="499.9" font-size="11.5" font-weight="bold" text-anchor="start" fill="#000" >Lymph</text>
<text x="199.4" y="513.8" font-size="11.5" font-weight="bold" text-anchor="start" fill="#000" >Node</text>
<text x="46.3" y="322" font-size="10.0" font-weight="bold" text-anchor="start" fill="#000" >3.5</text>
<text x="98" y="374.2" font-size="10.0" font-weight="bold" text-anchor="end" fill="#000" >7.1</text>
<text x="132.5" y="321.8" font-size="10.0" font-weight="bold" text-anchor="start" fill="#000" >2.2</text>
<text x="180.9" y="373.8" font-size="10.0" font-weight="bold" text-anchor="end" fill="#000" >47</text>
<text x="45.5" y="400" font-size="10.0" font-weight="bold" text-anchor="start" fill="#000" >1<tspan dx="-0.6">1</tspan></text>
<text x="101.8" y="451" font-size="10.0" font-weight="bold" text-anchor="end" fill="#000" >9.2</text>
<text x="129.5" y="400" font-size="10.0" font-weight="bold" text-anchor="start" fill="#000" >12</text>
<text x="192.4" y="451" font-size="10.0" font-weight="bold" text-anchor="end" fill="#000" >37.6</text>
<text x="44.6" y="476.6" font-size="10.0" font-weight="bold" text-anchor="start" fill="#000" >13.2</text>
<text x="96.5" y="528" font-size="10.0" font-weight="bold" text-anchor="end" fill="#000" >4.6</text>
<text x="129.5" y="476.6" font-size="10.0" font-weight="bold" text-anchor="start" fill="#000" >19.8</text>
<text x="196" y="526.8" font-size="10.0" font-weight="bold" text-anchor="end" fill="#000" >20.6</text>
<text x="390.2" y="302" font-size="11.4" font-weight="bold" text-anchor="start" fill="#000" >Thymus</text>
<text x="319.5" y="313.5" font-size="8.6" font-weight="bold" text-anchor="start" fill="#000" >Percentage</text>
<text x="446.8" y="313.3" font-size="9.6" font-weight="bold" text-anchor="start" fill="#000" >Number</text>
<line x1="297.80" y1="322.30" x2="297.80" y2="390.40" stroke="#262626" stroke-width="1.3" />
<line x1="297.10" y1="389.80" x2="392.50" y2="389.80" stroke="#262626" stroke-width="1.3" />
<line x1="295.80" y1="389.80" x2="297.80" y2="389.80" stroke="#333" stroke-width="1" />
<text x="295.40000000000003" y="394.3" font-size="8.7" font-weight="bold" text-anchor="end" fill="#000" >0</text>
<line x1="295.80" y1="374.80" x2="297.80" y2="374.80" stroke="#333" stroke-width="1" />
<text x="296.3" y="379.3" font-size="8.7" font-weight="bold" text-anchor="end" fill="#000" letter-spacing="-0.9">10</text>
<line x1="295.80" y1="359.80" x2="297.80" y2="359.80" stroke="#333" stroke-width="1" />
<text x="295.8" y="364.3" font-size="8.7" font-weight="bold" text-anchor="end" fill="#000" letter-spacing="-0.4">20</text>
<line x1="295.80" y1="344.80" x2="297.80" y2="344.80" stroke="#333" stroke-width="1" />
<text x="295.8" y="349.3" font-size="8.7" font-weight="bold" text-anchor="end" fill="#000" letter-spacing="-0.4">30</text>
<line x1="295.80" y1="329.80" x2="297.80" y2="329.80" stroke="#333" stroke-width="1" />
<text x="295.8" y="334.3" font-size="8.7" font-weight="bold" text-anchor="end" fill="#000" letter-spacing="-0.4">40</text>
<line x1="296.20" y1="382.30" x2="297.80" y2="382.30" stroke="#333" stroke-width="1" />
<line x1="296.20" y1="367.30" x2="297.80" y2="367.30" stroke="#333" stroke-width="1" />
<line x1="296.20" y1="352.30" x2="297.80" y2="352.30" stroke="#333" stroke-width="1" />
<line x1="296.20" y1="337.30" x2="297.80" y2="337.30" stroke="#333" stroke-width="1" />
<line x1="296.20" y1="322.30" x2="297.80" y2="322.30" stroke="#333" stroke-width="1" />
<line x1="322.35" y1="365.60" x2="322.35" y2="370.20" stroke="#222" stroke-width="1.1" />
<line x1="314.95" y1="365.60" x2="329.75" y2="365.60" stroke="#222" stroke-width="1.3" />
<rect x="308.30" y="370.80" width="28.10" height="19.00" fill="#000" stroke="#000" stroke-width="1.2" />
<line x1="322.35" y1="389.80" x2="322.35" y2="391.40" stroke="#333" stroke-width="1" />
<line x1="367.80" y1="328.50" x2="367.80" y2="332.00" stroke="#222" stroke-width="1.1" />
<line x1="360.40" y1="328.50" x2="375.20" y2="328.50" stroke="#222" stroke-width="1.3" />
<rect x="353.70" y="332.60" width="28.20" height="57.20" fill="#fff" stroke="#000" stroke-width="1.2" />
<line x1="367.80" y1="389.80" x2="367.80" y2="391.40" stroke="#333" stroke-width="1" />
<line x1="332.10" y1="324.20" x2="366.30" y2="324.20" stroke="#000" stroke-width="1.8" />
<text x="347.3" y="326.5" font-size="12" font-weight="bold" text-anchor="middle" fill="#000" >*</text>
<text x="316" y="402.5" font-size="9.9" font-weight="bold" text-anchor="start" fill="#000" >WT</text>
<text x="359.9" y="402.5" font-size="9.8" font-weight="bold">Itk<tspan font-size="5.8" dy="-2.55" dx="0.6">-/-</tspan></text>
<text x="280.6" y="355.2" font-size="10.2" font-weight="bold" text-anchor="middle" transform="rotate(-90 280.6 355.2)">% CD4<tspan font-size="6" dy="-3.2">+</tspan><tspan dy="3.2">/</tspan><tspan font-weight="normal" font-family="Liberation Serif, serif" font-size="1.1em" stroke-width="0.15">&#947;&#948;</tspan></text>
<line x1="416.30" y1="322.10" x2="416.30" y2="390.40" stroke="#262626" stroke-width="1.3" />
<line x1="415.60" y1="389.80" x2="511.30" y2="389.80" stroke="#262626" stroke-width="1.3" />
<line x1="414.30" y1="389.80" x2="416.30" y2="389.80" stroke="#333" stroke-width="1" />
<text x="413.90000000000003" y="394.1" font-size="8.7" font-weight="bold" text-anchor="end" fill="#000" >0.0</text>
<line x1="414.30" y1="372.88" x2="416.30" y2="372.88" stroke="#333" stroke-width="1" />
<text x="413.90000000000003" y="377.175" font-size="8.7" font-weight="bold" text-anchor="end" fill="#000" >0.5</text>
<line x1="414.30" y1="355.95" x2="416.30" y2="355.95" stroke="#333" stroke-width="1" />
<text x="413.90000000000003" y="360.25" font-size="8.7" font-weight="bold" text-anchor="end" fill="#000" >1.0</text>
<line x1="414.30" y1="339.02" x2="416.30" y2="339.02" stroke="#333" stroke-width="1" />
<text x="413.90000000000003" y="343.325" font-size="8.7" font-weight="bold" text-anchor="end" fill="#000" >1.5</text>
<line x1="414.30" y1="322.10" x2="416.30" y2="322.10" stroke="#333" stroke-width="1" />
<text x="413.90000000000003" y="326.40000000000003" font-size="8.7" font-weight="bold" text-anchor="end" fill="#000" >2.0</text>
<rect x="425.10" y="385.40" width="28.50" height="4.40" fill="#000" stroke="#000" stroke-width="1.2" />
<line x1="439.35" y1="389.80" x2="439.35" y2="391.40" stroke="#333" stroke-width="1" />
<line x1="484.10" y1="330.30" x2="484.10" y2="335.20" stroke="#222" stroke-width="1.1" />
<line x1="476.70" y1="330.30" x2="491.50" y2="330.30" stroke="#222" stroke-width="1.3" />
<rect x="470.30" y="335.80" width="27.60" height="54.00" fill="#fff" stroke="#000" stroke-width="1.2" />
<line x1="484.10" y1="389.80" x2="484.10" y2="391.40" stroke="#333" stroke-width="1" />
<line x1="454.90" y1="325.40" x2="489.00" y2="325.40" stroke="#000" stroke-width="1.8" />
<text x="470.2" y="327.1" font-size="12" font-weight="bold" text-anchor="middle" fill="#000" >*</text>
<text x="432.5" y="402.6" font-size="9.9" font-weight="bold" text-anchor="start" fill="#000" >WT</text>
<text x="477.5" y="402.6" font-size="9.8" font-weight="bold">Itk<tspan font-size="5.8" dy="-2.55" dx="0.6">-/-</tspan></text>
<text x="400.0" y="350.3" font-size="9.8" font-weight="bold" text-anchor="middle" transform="rotate(-90 400.0 350.3)">X10<tspan font-size="6.6" dy="-3.4">5</tspan></text>
<text x="390.7" y="421.3" font-size="9.8" font-weight="bold" text-anchor="start" fill="#000" >Spleen</text>
<line x1="297.70" y1="431.49" x2="297.70" y2="497.70" stroke="#262626" stroke-width="1.3" />
<line x1="297.00" y1="497.10" x2="391.60" y2="497.10" stroke="#262626" stroke-width="1.3" />
<line x1="295.70" y1="497.10" x2="297.70" y2="497.10" stroke="#333" stroke-width="1" />
<text x="295.3" y="500.80000000000007" font-size="8.7" font-weight="bold" text-anchor="end" fill="#000" >0</text>
<line x1="295.70" y1="475.23" x2="297.70" y2="475.23" stroke="#333" stroke-width="1" />
<text x="296.2" y="478.93000000000006" font-size="8.7" font-weight="bold" text-anchor="end" fill="#000" letter-spacing="-0.9">10</text>
<line x1="295.70" y1="453.36" x2="297.70" y2="453.36" stroke="#333" stroke-width="1" />
<text x="295.7" y="457.06000000000006" font-size="8.7" font-weight="bold" text-anchor="end" fill="#000" letter-spacing="-0.4">20</text>
<line x1="295.70" y1="431.49" x2="297.70" y2="431.49" stroke="#333" stroke-width="1" />
<text x="295.7" y="435.19000000000005" font-size="8.7" font-weight="bold" text-anchor="end" fill="#000" letter-spacing="-0.4">30</text>
<line x1="322.30" y1="477.50" x2="322.30" y2="480.20" stroke="#222" stroke-width="1.1" />
<line x1="314.90" y1="477.50" x2="329.70" y2="477.50" stroke="#222" stroke-width="1.3" />
<rect x="308.40" y="480.80" width="27.80" height="16.30" fill="#000" stroke="#000" stroke-width="1.2" />
<line x1="322.30" y1="497.10" x2="322.30" y2="498.70" stroke="#333" stroke-width="1" />
<line x1="366.90" y1="433.20" x2="366.90" y2="438.60" stroke="#222" stroke-width="1.1" />
<line x1="359.50" y1="433.20" x2="374.30" y2="433.20" stroke="#222" stroke-width="1.3" />
<rect x="352.90" y="439.20" width="28.00" height="57.90" fill="#fff" stroke="#000" stroke-width="1.2" />
<line x1="366.90" y1="497.10" x2="366.90" y2="498.70" stroke="#333" stroke-width="1" />
<line x1="331.70" y1="428.50" x2="366.30" y2="428.50" stroke="#000" stroke-width="1.8" />
<text x="347.2" y="430.8" font-size="12" font-weight="bold" text-anchor="middle" fill="#000" >*</text>
<text x="317" y="510.4" font-size="9.9" font-weight="bold" text-anchor="start" fill="#000" >WT</text>
<text x="360.7" y="510.4" font-size="9.8" font-weight="bold">Itk<tspan font-size="5.8" dy="-2.55" dx="0.6">-/-</tspan></text>
<text x="279.0" y="459.0" font-size="10.4" font-weight="bold" text-anchor="middle" transform="rotate(-90 279.0 459.0)">% CD4<tspan font-size="6" dy="-3.2">+</tspan><tspan dy="3.2">/</tspan><tspan font-weight="normal" font-family="Liberation Serif, serif" font-size="1.1em" stroke-width="0.15">&#947;&#948;</tspan></text>
<line x1="417.50" y1="430.38" x2="417.50" y2="497.50" stroke="#262626" stroke-width="1.3" />
<line x1="416.80" y1="496.90" x2="514.20" y2="496.90" stroke="#262626" stroke-width="1.3" />
<line x1="415.50" y1="496.90" x2="417.50" y2="496.90" stroke="#333" stroke-width="1" />
<text x="415.1" y="501.3" font-size="8.7" font-weight="bold" text-anchor="end" fill="#000" >0</text>
<line x1="415.50" y1="480.27" x2="417.50" y2="480.27" stroke="#333" stroke-width="1" />
<text x="415.1" y="484.67" font-size="8.7" font-weight="bold" text-anchor="end" fill="#000" >1</text>
<line x1="415.50" y1="463.64" x2="417.50" y2="463.64" stroke="#333" stroke-width="1" />
<text x="415.1" y="468.04" font-size="8.7" font-weight="bold" text-anchor="end" fill="#000" >2</text>
<line x1="415.50" y1="447.01" x2="417.50" y2="447.01" stroke="#333" stroke-width="1" />
<text x="415.1" y="451.41" font-size="8.7" font-weight="bold" text-anchor="end" fill="#000" >3</text>
<line x1="415.50" y1="430.38" x2="417.50" y2="430.38" stroke="#333" stroke-width="1" />
<text x="415.1" y="434.78000000000003" font-size="8.7" font-weight="bold" text-anchor="end" fill="#000" >4</text>
<rect x="425.90" y="493.70" width="28.10" height="3.20" fill="#000" stroke="#000" stroke-width="1.2" />
<line x1="439.95" y1="496.90" x2="439.95" y2="498.50" stroke="#333" stroke-width="1" />
<line x1="486.75" y1="438.00" x2="486.75" y2="442.80" stroke="#222" stroke-width="1.1" />
<line x1="479.35" y1="438.00" x2="494.15" y2="438.00" stroke="#222" stroke-width="1.3" />
<rect x="473.00" y="443.40" width="27.50" height="53.50" fill="#fff" stroke="#000" stroke-width="1.2" />
<line x1="486.75" y1="496.90" x2="486.75" y2="498.50" stroke="#333" stroke-width="1" />
<line x1="448.50" y1="434.40" x2="482.00" y2="434.40" stroke="#000" stroke-width="1.8" />
<text x="463.7" y="436.2" font-size="12" font-weight="bold" text-anchor="middle" fill="#000" >*</text>
<text x="436.3" y="510.4" font-size="9.9" font-weight="bold" text-anchor="start" fill="#000" >WT</text>
<text x="482" y="510.4" font-size="9.8" font-weight="bold">Itk<tspan font-size="5.8" dy="-2.55" dx="0.6">-/-</tspan></text>
<text x="405.4" y="458.9" font-size="9.8" font-weight="bold" text-anchor="middle" transform="rotate(-90 405.4 458.9)">X10<tspan font-size="6.6" dy="-3.4">5</tspan></text>
</svg></body></html>
